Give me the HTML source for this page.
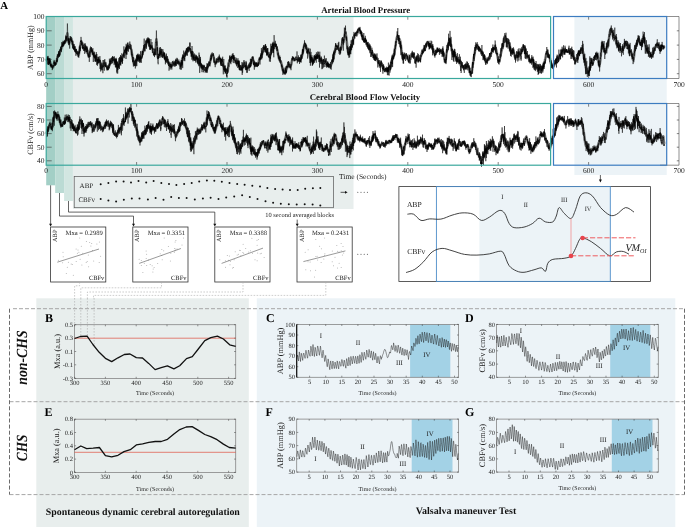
<!DOCTYPE html>
<html><head><meta charset="utf-8"><title>Figure</title>
<style>
html,body{margin:0;padding:0;background:#fff;}
svg{display:block;opacity:0.999;will-change:transform;text-rendering:geometricPrecision;font-family:"Liberation Serif","Times New Roman",serif;fill:#222;}
</style></head><body>
<svg width="685" height="527" viewBox="0 0 685 527">
<rect width="685" height="527" fill="#fff"/>

<rect x="46.2" y="16.5" width="307.3" height="149" fill="#e8eeed"/><rect x="72.9" y="165" width="280.6" height="44" fill="#e8eeed"/>
<rect x="574.4" y="16.5" width="92.3" height="158.5" fill="#ecf3f7"/>
<rect x="46.2" y="16.5" width="9" height="168.8" fill="#a3cfc6"/>
<rect x="55.2" y="16.5" width="8.9" height="176.5" fill="#bbdbd4"/>
<rect x="64.1" y="16.5" width="8.8" height="184.5" fill="#d2e6e1"/>
<path d="M660,16.5 H679 V78.5 H660" fill="none" stroke="#444" stroke-width="0.6"/>
<path d="M660,103.5 H679 V165.2 H660" fill="none" stroke="#444" stroke-width="0.6"/>
<path d="M136.6,16.5v3.2M136.6,78.5v-3.2M136.6,103.5v3.2M136.6,165.2v-3.2M227,16.5v3.2M227,78.5v-3.2M227,103.5v3.2M227,165.2v-3.2M317.4,16.5v3.2M317.4,78.5v-3.2M317.4,103.5v3.2M317.4,165.2v-3.2M407.8,16.5v3.2M407.8,78.5v-3.2M407.8,103.5v3.2M407.8,165.2v-3.2M498.2,16.5v3.2M498.2,78.5v-3.2M498.2,103.5v3.2M498.2,165.2v-3.2M588.6,16.5v3.2M588.6,78.5v-3.2M588.6,103.5v3.2M588.6,165.2v-3.2M46.2,73.7h5.5M679,73.7h-2.2M46.2,59.4h5.5M679,59.4h-2.2M46.2,45.1h5.5M679,45.1h-2.2M46.2,30.8h5.5M679,30.8h-2.2M46.2,160.8h5.5M679,160.8h-2.2M46.2,147.2h5.5M679,147.2h-2.2M46.2,133.6h5.5M679,133.6h-2.2M46.2,120h5.5M679,120h-2.2M46.2,106.4h5.5M679,106.4h-2.2" stroke="#333" stroke-width="0.6" fill="none"/>
<path d="M46.4,59 46.9,60.4 47.4,57.4 47.9,59.4 48.4,63.6 48.9,62.4 49.4,60.6 49.9,61.6 50.4,63.1 50.9,65.6 51.4,65.8 51.9,66.5 52.4,66.5 52.9,66.2 53.4,66.5 53.9,63.7 54.4,63.2 54.9,62.8 55.4,63.1 55.9,63 56.4,62.2 56.9,59.8 57.4,57.1 57.9,56.2 58.4,56 58.9,55 59.4,54.1 59.9,52.6 60.4,51.3 60.9,49.4 61.4,48.2 61.9,46.8 62.4,46 62.9,45 63.4,43.9 63.9,43.7 64.4,42.8 64.9,42 65.4,40.9 65.9,40.1 66.4,39.1 66.9,35.4 67.4,33.3 67.9,38.6 68.4,41.6 68.9,43.2 69.4,42.9 69.9,41.6 70.4,40 70.9,39.1 71.4,38.7 71.9,40.5 72.4,42.5 72.9,44.4 73.4,46.5 73.9,47.5 74.4,48.3 74.9,49.6 75.4,50.7 75.9,51.4 76.4,51.4 76.9,52.3 77.4,53.4 77.9,54.4 78.4,55.1 78.9,54.1 79.4,50.7 79.9,48.3 80.4,44.7 80.9,42.7 81.4,41.4 81.9,42.5 82.4,44.4 82.9,44.9 83.4,47 83.9,47.7 84.4,47 84.9,47.3 85.4,47.5 85.9,48.6 86.4,49.6 86.9,50.6 87.4,50.9 87.9,52.5 88.4,55.2 88.9,56.5 89.4,56.2 89.9,52.6 90.4,49.2 90.9,49.2 91.4,49.8 91.9,51.5 92.4,52 92.9,52.5 93.4,54 93.9,54.8 94.4,55.4 94.9,56.8 95.4,56.9 95.9,57.4 96.4,57.5 96.9,57.9 97.4,59.1 97.9,58.8 98.4,59.3 98.9,59.9 99.4,60.5 99.9,62.1 100.4,62.7 100.9,64.8 101.4,65.6 101.9,66.5 102.4,66.1 102.9,66.2 103.4,64.9 103.9,63.9 104.4,63.1 104.9,63.9 105.4,63.8 105.9,65.4 106.4,66.1 106.9,67.1 107.4,68.3 107.9,68.1 108.4,67.8 108.9,66.6 109.4,65.3 109.9,63.9 110.4,63.3 110.9,62.6 111.4,60.5 111.9,59.5 112.4,58.8 112.9,58.3 113.4,59.1 113.9,60.1 114.4,60.8 114.9,61.3 115.4,61.4 115.9,61.7 116.4,63.3 116.9,65.3 117.4,66.9 117.9,68.6 118.4,67.4 118.9,64.8 119.4,61.8 119.9,60.6 120.4,60 120.9,61 121.4,59.6 121.9,58.4 122.4,57.3 122.9,56.3 123.4,56.4 123.9,54.9 124.4,54.6 124.9,52.9 125.4,51.1 125.9,49.8 126.4,48.2 126.9,47.8 127.4,48.3 127.9,47.9 128.4,47.8 128.9,45.8 129.4,45.3 129.9,44.8 130.4,45.6 130.9,48.8 131.4,50.5 131.9,53.5 132.4,56.2 132.9,58.9 133.4,60.6 133.9,63.3 134.4,64.3 134.9,64.7 135.4,64 135.9,61.7 136.4,60.6 136.9,59.2 137.4,57.3 137.9,57 138.4,56.9 138.9,58.3 139.4,59 139.9,59.2 140.4,58.3 140.9,57.7 141.4,56.2 141.9,55.4 142.4,54.1 142.9,52.1 143.4,50.2 143.9,49.1 144.4,47.8 144.9,47.4 145.4,46.2 145.9,44.8 146.4,43.7 146.9,41.2 147.4,40.6 147.9,40.5 148.4,40.4 148.9,42.4 149.4,44.9 149.9,46.6 150.4,48.1 150.9,48 151.4,48.1 151.9,47.8 152.4,48.7 152.9,50 153.4,51.9 153.9,53.1 154.4,53.3 154.9,53.8 155.4,52.5 155.9,44.2 156.4,39.3 156.9,47.4 157.4,54.3 157.9,57.5 158.4,57.4 158.9,56.1 159.4,55.3 159.9,53.7 160.4,53.7 160.9,52.6 161.4,52.6 161.9,53.1 162.4,54 162.9,54.8 163.4,54.5 163.9,54.4 164.4,55.2 164.9,58.4 165.4,59.6 165.9,60.1 166.4,58.6 166.9,57.9 167.4,59.6 167.9,61.4 168.4,63.6 168.9,63.6 169.4,64.6 169.9,64.7 170.4,65.1 170.9,66 171.4,66.4 171.9,65.9 172.4,64.7 172.9,62.4 173.4,61.8 173.9,63.2 174.4,64 174.9,64.3 175.4,63.4 175.9,62.3 176.4,61.6 176.9,60.7 177.4,61.5 177.9,62.2 178.4,62.1 178.9,63.2 179.4,63.6 179.9,65.2 180.4,65.5 180.9,65 181.4,63.4 181.9,60.6 182.4,58.7 182.9,58.4 183.4,57.7 183.9,57.5 184.4,56.2 184.9,55.1 185.4,54.3 185.9,52.5 186.4,50.8 186.9,50.9 187.4,50 187.9,49.2 188.4,48.7 188.9,48.5 189.4,49.4 189.9,49.5 190.4,50.1 190.9,50.8 191.4,53.1 191.9,53.4 192.4,54.8 192.9,56.3 193.4,57.8 193.9,59.3 194.4,58.5 194.9,58.4 195.4,58 195.9,58.4 196.4,57.3 196.9,57.4 197.4,58.4 197.9,60.5 198.4,62.6 198.9,63.4 199.4,63.2 199.9,62.9 200.4,63.8 200.9,64.8 201.4,67.1 201.9,67.8 202.4,68.2 202.9,68.1 203.4,67.4 203.9,67.6 204.4,67.9 204.9,69.6 205.4,69.4 205.9,70.5 206.4,70.4 206.9,69.5 207.4,68.2 207.9,65.7 208.4,64.8 208.9,64 209.4,63.6 209.9,62.7 210.4,60.7 210.9,57.8 211.4,55.5 211.9,54.4 212.4,54.8 212.9,56 213.4,56.5 213.9,58.2 214.4,60.6 214.9,62.1 215.4,63.8 215.9,63.2 216.4,62.1 216.9,61.6 217.4,61 217.9,60 218.4,59.6 218.9,59.2 219.4,58.5 219.9,59 220.4,59.9 220.9,61.6 221.4,62.3 221.9,62.4 222.4,62.2 222.9,63.3 223.4,65.6 223.9,66.9 224.4,69.5 224.9,69.9 225.4,71 225.9,71.1 226.4,71.9 226.9,72.7 227.4,71.7 227.9,69.7 228.4,65.8 228.9,63 229.4,60.6 229.9,59.8 230.4,59.7 230.9,58.9 231.4,57.3 231.9,56.7 232.4,56.3 232.9,56.5 233.4,56.8 233.9,57.5 234.4,59.1 234.9,60.4 235.4,61.1 235.9,63 236.4,62.2 236.9,63.2 237.4,63.2 237.9,63.5 238.4,63.2 238.9,65.3 239.4,65.9 239.9,67.7 240.4,68.6 240.9,68.7 241.4,68.6 241.9,68.4 242.4,68.2 242.9,66 243.4,64.4 243.9,62.8 244.4,63.3 244.9,65.3 245.4,66.9 245.9,68.3 246.4,68.6 246.9,68.8 247.4,68.4 247.9,68.1 248.4,66.8 248.9,66.7 249.4,66.7 249.9,66.3 250.4,65.3 250.9,63.9 251.4,61.8 251.9,59.8 252.4,58 252.9,59.2 253.4,60.9 253.9,62.5 254.4,64.4 254.9,64.8 255.4,64.3 255.9,64.5 256.4,64.2 256.9,65 257.4,64.3 257.9,64.4 258.4,63 258.9,61 259.4,59.6 259.9,58.5 260.4,58.2 260.9,56.7 261.4,56.3 261.9,54.8 262.4,53.4 262.9,51.7 263.4,49.6 263.9,48.3 264.4,48.4 264.9,48.4 265.4,47.7 265.9,48.8 266.4,49.6 266.9,51.7 267.4,53 267.9,53.4 268.4,54.7 268.9,56.1 269.4,56.7 269.9,56.4 270.4,54.9 270.9,52.7 271.4,50 271.9,48.9 272.4,47.5 272.9,46.5 273.4,46.3 273.9,45.6 274.4,44.9 274.9,44.5 275.4,44.5 275.9,45.9 276.4,47.2 276.9,48.8 277.4,50.4 277.9,53.5 278.4,56.2 278.9,58.3 279.4,59.8 279.9,60.6 280.4,61.3 280.9,61.9 281.4,63.7 281.9,65.4 282.4,68.9 282.9,70.5 283.4,71.2 283.9,71.1 284.4,71.3 284.9,71.4 285.4,72 285.9,70.9 286.4,69.2 286.9,68.3 287.4,66.8 287.9,65 288.4,63.7 288.9,63 289.4,64.5 289.9,65.9 290.4,66.6 290.9,65.2 291.4,63.8 291.9,61.1 292.4,59 292.9,58.3 293.4,58.5 293.9,58.8 294.4,59.5 294.9,60 295.4,58.9 295.9,58.3 296.4,57.9 296.9,58.3 297.4,59.5 297.9,58.4 298.4,59 298.9,60.3 299.4,60.3 299.9,61 300.4,59 300.9,58.6 301.4,57 301.9,56 302.4,54.4 302.9,52.1 303.4,49.3 303.9,47.1 304.4,44.8 304.9,44 305.4,44.6 305.9,46.8 306.4,49 306.9,50.4 307.4,51.6 307.9,52.2 308.4,52.1 308.9,53.2 309.4,54.4 309.9,56.7 310.4,57.5 310.9,59.1 311.4,60 311.9,59.9 312.4,60.6 312.9,60.8 313.4,61.6 313.9,60.8 314.4,59.5 314.9,57.4 315.4,57.1 315.9,57.5 316.4,57 316.9,57.4 317.4,56.1 317.9,57.5 318.4,57.7 318.9,58.4 319.4,57.9 319.9,58.3 320.4,59.6 320.9,60 321.4,60.9 321.9,61.7 322.4,63 322.9,63.4 323.4,63.5 323.9,62.4 324.4,62.5 324.9,62.1 325.4,61.9 325.9,62.9 326.4,64 326.9,64.2 327.4,65.3 327.9,64.2 328.4,64.6 328.9,65.1 329.4,64.6 329.9,66.4 330.4,66.3 330.9,65 331.4,64.1 331.9,62.7 332.4,61.9 332.9,60.3 333.4,58.8 333.9,55.4 334.4,54 334.9,51.7 335.4,48.8 335.9,46.5 336.4,46 336.9,47 337.4,48.6 337.9,48.7 338.4,48.5 338.9,48.7 339.4,50.4 339.9,49.9 340.4,49.3 340.9,48.5 341.4,47.5 341.9,44.6 342.4,41.8 342.9,40.1 343.4,39.9 343.9,38.8 344.4,36.6 344.9,34.5 345.4,32.4 345.9,35 346.4,38.4 346.9,42.8 347.4,47.3 347.9,51.1 348.4,53.6 348.9,54.3 349.4,52.7 349.9,51.1 350.4,49.6 350.9,48.1 351.4,46.4 351.9,44.4 352.4,41.9 352.9,39.6 353.4,38.6 353.9,37.4 354.4,35.4 354.9,34.6 355.4,34.3 355.9,34.8 356.4,34.1 356.9,34.6 357.4,32.4 357.9,30.9 358.4,29.5 358.9,28.7 359.4,29.9 359.9,30.3 360.4,31.8 360.9,32.5 361.4,34.8 361.9,34.9 362.4,36.8 362.9,38 363.4,39.4 363.9,39.8 364.4,40 364.9,39.2 365.4,39.6 365.9,41.2 366.4,43.7 366.9,44.7 367.4,45.5 367.9,45.1 368.4,45 368.9,46.8 369.4,48.2 369.9,50.1 370.4,50.6 370.9,50.8 371.4,51.8 371.9,51.4 372.4,52.9 372.9,54.1 373.4,55 373.9,56.2 374.4,57.3 374.9,57.6 375.4,57.7 375.9,57.6 376.4,57.7 376.9,58.7 377.4,60.2 377.9,61.4 378.4,62.6 378.9,63.1 379.4,63.6 379.9,63.8 380.4,63.8 380.9,63.6 381.4,63.6 381.9,64 382.4,66.7 382.9,67.3 383.4,68 383.9,68.6 384.4,69.5 384.9,69.4 385.4,70.4 385.9,69.4 386.4,69.4 386.9,69.5 387.4,69.4 387.9,69.7 388.4,68.8 388.9,69.2 389.4,68.8 389.9,68.2 390.4,67 390.9,64.5 391.4,61.2 391.9,60.2 392.4,59 392.9,58.6 393.4,57.3 393.9,54.1 394.4,52.7 394.9,50 395.4,46.5 395.9,43.1 396.4,39.5 396.9,37.4 397.4,36.5 397.9,36.4 398.4,37.9 398.9,39.3 399.4,38.9 399.9,40.2 400.4,42.1 400.9,45.3 401.4,49.5 401.9,52.7 402.4,55.8 402.9,57 403.4,58.8 403.9,58 404.4,57.8 404.9,57 405.4,56.1 405.9,56.2 406.4,56.9 406.9,57.7 407.4,58.2 407.9,59.5 408.4,60.3 408.9,60.7 409.4,59.9 409.9,58.7 410.4,58.1 410.9,56.4 411.4,55.5 411.9,54.4 412.4,53.1 412.9,53.3 413.4,54.3 413.9,56.4 414.4,57.7 414.9,58.1 415.4,58.7 415.9,59.6 416.4,59 416.9,58.8 417.4,57.3 417.9,57.2 418.4,58.3 418.9,60.2 419.4,59.9 419.9,59.6 420.4,57.8 420.9,55.9 421.4,54.7 421.9,52.7 422.4,51.3 422.9,50.6 423.4,50 423.9,50.4 424.4,49.9 424.9,49.2 425.4,47.5 425.9,45.9 426.4,44.4 426.9,43.1 427.4,42 427.9,42.4 428.4,43.9 428.9,44.9 429.4,45.5 429.9,46.5 430.4,46.7 430.9,47.2 431.4,46.7 431.9,48 432.4,49.2 432.9,49.5 433.4,50.5 433.9,51.6 434.4,53.7 434.9,54.5 435.4,54.4 435.9,52.8 436.4,50.7 436.9,50.2 437.4,49.7 437.9,49.6 438.4,50 438.9,50.3 439.4,51 439.9,51.4 440.4,50.7 440.9,50.3 441.4,50.8 441.9,51 442.4,51.4 442.9,51.7 443.4,53.1 443.9,55.5 444.4,58.4 444.9,61.9 445.4,61.8 445.9,58.5 446.4,54.9 446.9,51 447.4,48.3 447.9,46 448.4,44 448.9,42.1 449.4,40.1 449.9,40 450.4,42.6 450.9,44.5 451.4,47.9 451.9,50.6 452.4,52.6 452.9,54.2 453.4,53.4 453.9,52.5 454.4,52.3 454.9,52.9 455.4,56 455.9,58 456.4,58.8 456.9,59.4 457.4,59.7 457.9,60.2 458.4,60.2 458.9,60.8 459.4,60.5 459.9,61.8 460.4,63.9 460.9,65.5 461.4,66 461.9,66.4 462.4,66.3 462.9,66.6 463.4,67.5 463.9,67.6 464.4,67.5 464.9,66.7 465.4,67 465.9,65.9 466.4,65.6 466.9,65.1 467.4,65.2 467.9,66.5 468.4,67.9 468.9,68 469.4,68.6 469.9,70.9 470.4,71.9 470.9,73.3 471.4,72.3 471.9,70.2 472.4,66.9 472.9,64 473.4,60.8 473.9,57.3 474.4,55.2 474.9,51.6 475.4,49.1 475.9,47.9 476.4,47.8 476.9,47.7 477.4,47.1 477.9,47 478.4,48.5 478.9,49.2 479.4,49.6 479.9,50.2 480.4,50.8 480.9,50.4 481.4,51.5 481.9,51.6 482.4,53.5 482.9,55.3 483.4,55.3 483.9,56.3 484.4,56.7 484.9,58.1 485.4,61.3 485.9,61.9 486.4,63.2 486.9,61.8 487.4,60.3 487.9,59.8 488.4,59.3 488.9,57.7 489.4,57.1 489.9,56.1 490.4,56.1 490.9,54.2 491.4,52.8 491.9,51 492.4,49.6 492.9,50.2 493.4,49.4 493.9,49.4 494.4,48.6 494.9,47.1 495.4,48 495.9,49 496.4,50.4 496.9,52.9 497.4,55.9 497.9,58.5 498.4,60.5 498.9,60.7 499.4,60.8 499.9,58.8 500.4,56.3 500.9,53.6 501.4,51.7 501.9,49.7 502.4,47.6 502.9,45.9 503.4,43.1 503.9,40.9 504.4,38.3 504.9,36.4 505.4,37.2 505.9,38.1 506.4,39.9 506.9,42 507.4,42.7 507.9,42.8 508.4,42.6 508.9,43.1 509.4,43.7 509.9,46.1 510.4,49.1 510.9,51.5 511.4,52.6 511.9,52.6 512.4,50.9 512.9,50.5 513.4,51 513.9,52.4 514.4,55.1 514.9,56.9 515.4,57.1 515.9,57.3 516.4,55.8 516.9,55.8 517.4,54.6 517.9,54.5 518.4,53.9 518.9,53.7 519.4,53.8 519.9,54.3 520.4,54 520.9,53.7 521.4,52.9 521.9,50.5 522.4,48.8 522.9,47.8 523.4,46.6 523.9,47.5 524.4,49 524.9,51 525.4,52.6 525.9,54 526.4,54.3 526.9,55.1 527.4,55.3 527.9,55.8 528.4,57.7 528.9,58.2 529.4,59.6 529.9,60.6 530.4,61.5 530.9,61.9 531.4,60.7 531.9,60 532.4,60.1 532.9,61 533.4,62.6 533.9,63.2 534.4,65.4 534.9,66.7 535.4,67.1 535.9,66.6 536.4,65.5 536.9,65.3 537.4,66.2 537.9,67.8 538.4,69.7 538.9,69.4 539.4,68.3 539.9,67.1 540.4,67.4 540.9,67.9 541.4,69.2 541.9,69.7 542.4,70.1 542.9,68.6 543.4,65.7 543.9,63 544.4,62.2 544.9,60.6 545.4,58.2 545.9,55.7 546.4,53.4 546.9,52.2 547.4,53 547.9,55.2 548.4,55.6 548.9,56.6 549.4,57.1 549.9,58.3 550.4,61.4 550.9,63.3 551.4,65 551.9,65.9 552.4,66.7 552.9,67.8 553.4,66.5 553.9,65.8 554.4,64.6 554.9,61.9 555.4,60.7 555.9,60.7 556.4,59.7 556.9,59.3 557.4,59.1 557.9,58.4 558.4,58.2 558.9,57.7 559.4,56.5 559.9,55.8 560.4,55.5 560.9,55.1 561.4,54.2 561.9,52.5 562.4,51.3 562.9,50.1 563.4,50.7 563.9,51.6 564.4,51.5 564.9,51.7 565.4,50.9 565.9,50.4 566.4,50.3 566.9,51.1 567.4,51.2 567.9,51.8 568.4,51.7 568.9,50.8 569.4,51.4 569.9,51.9 570.4,53.2 570.9,53.1 571.4,53.3 571.9,53.9 572.4,53.6 572.9,55.4 573.4,56.3 573.9,57.4 574.4,58.2 574.9,59.1 575.4,59.6 575.9,59.9 576.4,60 576.9,60.1 577.4,58.8 577.9,56.9 578.4,55.9 578.9,53.7 579.4,52.3 579.9,52.1 580.4,52 580.9,50.4 581.4,48.8 581.9,48.3 582.4,49 582.9,51.7 583.4,53.4 583.9,56.7 584.4,59.9 584.9,62.1 585.4,64.8 585.9,66.8 586.4,70 586.9,72.1 587.4,72.9 587.9,72 588.4,71.4 588.9,70.6 589.4,69.7 589.9,67.9 590.4,65.8 590.9,63.7 591.4,62.8 591.9,63.4 592.4,63.6 592.9,62.6 593.4,61.1 593.9,58.8 594.4,57.4 594.9,56.6 595.4,56.2 595.9,56.3 596.4,56.3 596.9,55.4 597.4,56 597.9,57.7 598.4,60.5 598.9,64.9 599.4,66.4 599.9,63.3 600.4,60.4 600.9,53.7 601.4,49.6 601.9,46.7 602.4,45.7 602.9,45.9 603.4,47.2 603.9,49.2 604.4,50.9 604.9,52.3 605.4,52.4 605.9,50.9 606.4,48.3 606.9,46.9 607.4,45.8 607.9,44.4 608.4,41.2 608.9,38.7 609.4,35.7 609.9,32 610.4,30.1 610.9,28.8 611.4,28.9 611.9,31.8 612.4,34 612.9,35.9 613.4,36.3 613.9,36.7 614.4,36 614.9,36.3 615.4,38 615.9,40.8 616.4,43 616.9,45 617.4,45.6 617.9,45.7 618.4,45.7 618.9,46.1 619.4,47 619.9,48 620.4,49.2 620.9,49.5 621.4,50.2 621.9,49.2 622.4,48.6 622.9,48.4 623.4,48.3 623.9,47.5 624.4,47.3 624.9,45.5 625.4,44 625.9,42.2 626.4,41.8 626.9,43.5 627.4,44.4 627.9,45 628.4,46.1 628.9,47.5 629.4,49.5 629.9,51.2 630.4,51.6 630.9,52 631.4,52.4 631.9,54.2 632.4,57.6 632.9,59.4 633.4,59.7 633.9,57.1 634.4,53 634.9,49.4 635.4,46.4 635.9,46 636.4,45.4 636.9,43.8 637.4,41.9 637.9,39.7 638.4,39 638.9,39.4 639.4,40.9 639.9,42.4 640.4,44.4 640.9,44 641.4,44.3 641.9,42.3 642.4,40.5 642.9,38.5 643.4,36.8 643.9,39 644.4,39.8 644.9,41.9 645.4,44.8 645.9,46.5 646.4,48 646.9,49.7 647.4,50.4 647.9,51.3 648.4,51.8 648.9,52.6 649.4,54.5 649.9,55.7 650.4,56.7 650.9,56.8 651.4,57 651.9,55.3 652.4,54.3 652.9,52.7 653.4,51.8 653.9,50.5 654.4,49 654.9,48.1 655.4,47 655.9,46.6 656.4,44.8 656.9,44.2 657.4,43.3 657.9,43.9 658.4,44.4 658.9,45.6 659.4,48.4 659.9,49.7 660.4,49.6 660.9,49.4 661.4,47.5 661.9,45.8 662.4,47.4 662.9,47.4 663.4,48.2 663.9,47 664.4,46.1" fill="none" stroke="#111" stroke-width="2.6" stroke-linejoin="round" opacity="0.5"/>
<path d="M46.4,133.7 46.9,132.5 47.4,131.1 47.9,130.3 48.4,129.2 48.9,127.3 49.4,125.4 49.9,124.2 50.4,124.6 50.9,126 51.4,128 51.9,128 52.4,125.8 52.9,122.4 53.4,119.3 53.9,117.4 54.4,115.9 54.9,114.9 55.4,114.4 55.9,115.3 56.4,116.2 56.9,116 57.4,115.4 57.9,115.7 58.4,116.8 58.9,118 59.4,119.8 59.9,121.8 60.4,123.6 60.9,124.2 61.4,124.8 61.9,125.6 62.4,125.1 62.9,123.3 63.4,122.6 63.9,122 64.4,122.4 64.9,121.6 65.4,120.1 65.9,118.8 66.4,118.3 66.9,117.8 67.4,118.7 67.9,119.3 68.4,118.4 68.9,118.9 69.4,118.4 69.9,120.5 70.4,122.4 70.9,123.1 71.4,123.4 71.9,123.9 72.4,125.5 72.9,125.7 73.4,126.9 73.9,127.3 74.4,128.9 74.9,129.3 75.4,130.5 75.9,130.8 76.4,131.1 76.9,130.6 77.4,129.9 77.9,129.9 78.4,127.9 78.9,125.8 79.4,122.4 79.9,121.6 80.4,120.9 80.9,122.7 81.4,124.1 81.9,124.3 82.4,124.6 82.9,125 83.4,127 83.9,129.5 84.4,131 84.9,131.2 85.4,129 85.9,128 86.4,127.8 86.9,127.2 87.4,126.4 87.9,125 88.4,123.4 88.9,123.8 89.4,123.7 89.9,123.6 90.4,124.4 90.9,124 91.4,125.3 91.9,125.5 92.4,126.9 92.9,127.2 93.4,128.3 93.9,128.6 94.4,128.6 94.9,127.6 95.4,126.3 95.9,125 96.4,123.7 96.9,123 97.4,122.5 97.9,122.3 98.4,122.8 98.9,123.6 99.4,124.6 99.9,125.9 100.4,125.3 100.9,126.4 101.4,127.5 101.9,128.3 102.4,129.4 102.9,129.4 103.4,128.5 103.9,128.3 104.4,126.3 104.9,125.4 105.4,125.3 105.9,124.4 106.4,123.3 106.9,123.4 107.4,122.3 107.9,123.6 108.4,125.1 108.9,125.5 109.4,125.7 109.9,125 110.4,125.5 110.9,124.8 111.4,125.3 111.9,125.5 112.4,126 112.9,128 113.4,130.6 113.9,132.4 114.4,133 114.9,133.6 115.4,133.7 115.9,134.7 116.4,135.2 116.9,135.4 117.4,134.4 117.9,132.8 118.4,130.6 118.9,129.8 119.4,128.7 119.9,129.5 120.4,128.4 120.9,127.8 121.4,126 121.9,124.5 122.4,122.9 122.9,121.4 123.4,121.4 123.9,122.1 124.4,121.1 124.9,119.8 125.4,117.7 125.9,116.6 126.4,116 126.9,114.6 127.4,113.4 127.9,112 128.4,111.7 128.9,111.2 129.4,111.1 129.9,110.4 130.4,109.4 130.9,111 131.4,112.1 131.9,112.5 132.4,115.2 132.9,117.6 133.4,119.8 133.9,121.3 134.4,122.8 134.9,124.6 135.4,126.3 135.9,127.3 136.4,128.4 136.9,130 137.4,132.5 137.9,134.9 138.4,137.5 138.9,139.7 139.4,140.7 139.9,141.1 140.4,139.5 140.9,138.9 141.4,138.2 141.9,136.6 142.4,135.6 142.9,133.5 143.4,133.2 143.9,131.9 144.4,131.6 144.9,132 145.4,131.4 145.9,129.9 146.4,129.8 146.9,128 147.4,127.2 147.9,126 148.4,125.9 148.9,126.1 149.4,127.7 149.9,128.7 150.4,129.7 150.9,129.2 151.4,129.3 151.9,127.4 152.4,127.4 152.9,127.1 153.4,128 153.9,128.6 154.4,129.4 154.9,130.4 155.4,129.1 155.9,127.9 156.4,126.1 156.9,125.4 157.4,126 157.9,127.1 158.4,126.4 158.9,124.3 159.4,123.2 159.9,122.3 160.4,123.1 160.9,124.9 161.4,123.3 161.9,121.6 162.4,119 162.9,118.7 163.4,120.5 163.9,122.8 164.4,122.6 164.9,122.6 165.4,122.2 165.9,123.8 166.4,124.6 166.9,125.7 167.4,125.5 167.9,125.6 168.4,125.3 168.9,126.3 169.4,126.6 169.9,127.9 170.4,129.4 170.9,130.4 171.4,129.8 171.9,129.5 172.4,129.1 172.9,129.5 173.4,129.7 173.9,130.7 174.4,132.1 174.9,133.3 175.4,135.5 175.9,136.1 176.4,135.4 176.9,134.5 177.4,133.4 177.9,131.9 178.4,131.5 178.9,128.9 179.4,126.4 179.9,125.1 180.4,123.3 180.9,123.3 181.4,123.1 181.9,122.1 182.4,123 182.9,123.2 183.4,122.7 183.9,122.7 184.4,122.7 184.9,124.4 185.4,124.7 185.9,125.3 186.4,126.7 186.9,129.8 187.4,133.1 187.9,135.1 188.4,136.7 188.9,137.2 189.4,137.7 189.9,139.1 190.4,141.2 190.9,142.4 191.4,145 191.9,146 192.4,147 192.9,146.6 193.4,144.7 193.9,144.2 194.4,141.6 194.9,141.1 195.4,138.6 195.9,136.5 196.4,135.5 196.9,134.4 197.4,133 197.9,132.2 198.4,130.7 198.9,131.1 199.4,131.3 199.9,131.4 200.4,130.5 200.9,129.6 201.4,129.3 201.9,127.9 202.4,126.9 202.9,125.9 203.4,125.4 203.9,126.1 204.4,126.2 204.9,126.3 205.4,125.6 205.9,124.9 206.4,123.8 206.9,120.5 207.4,119.1 207.9,116.9 208.4,115.6 208.9,116.1 209.4,116 209.9,117.7 210.4,120.5 210.9,122.6 211.4,123.8 211.9,123.9 212.4,124.5 212.9,126.6 213.4,128 213.9,130.2 214.4,130.8 214.9,130.9 215.4,130.5 215.9,128.6 216.4,126.2 216.9,123.5 217.4,120.9 217.9,120 218.4,116.7 218.9,117.9 219.4,118.6 219.9,120.1 220.4,122.7 220.9,124.7 221.4,126.5 221.9,127 222.4,127.1 222.9,128.2 223.4,128.7 223.9,129.6 224.4,129.7 224.9,130.6 225.4,131.9 225.9,132.9 226.4,132.3 226.9,130.6 227.4,129.8 227.9,130.9 228.4,131.8 228.9,131.2 229.4,128.6 229.9,126.6 230.4,125.3 230.9,127.2 231.4,130.4 231.9,133.1 232.4,135.2 232.9,136.7 233.4,138.2 233.9,138.9 234.4,140.6 234.9,141.4 235.4,143.6 235.9,145.5 236.4,147.6 236.9,148.8 237.4,149 237.9,147.5 238.4,147.1 238.9,146.9 239.4,147.5 239.9,148.3 240.4,147.2 240.9,146.2 241.4,145.5 241.9,144.2 242.4,143.1 242.9,141.9 243.4,139.9 243.9,139.9 244.4,139.6 244.9,140 245.4,138.9 245.9,138.1 246.4,138.4 246.9,138.8 247.4,141.5 247.9,142.5 248.4,143.2 248.9,143.6 249.4,143.7 249.9,144.6 250.4,146.4 250.9,148.3 251.4,150.2 251.9,150.3 252.4,150.5 252.9,150.1 253.4,150.4 253.9,151 254.4,152.1 254.9,153.1 255.4,154.2 255.9,155.1 256.4,154.9 256.9,155.1 257.4,154.5 257.9,153.3 258.4,152.1 258.9,150.3 259.4,149 259.9,148.1 260.4,147.4 260.9,145.6 261.4,144.4 261.9,143.2 262.4,142.1 262.9,141.6 263.4,141.4 263.9,142.8 264.4,144 264.9,143.7 265.4,144 265.9,143.9 266.4,145.1 266.9,145.2 267.4,145.4 267.9,143.7 268.4,143.5 268.9,143.9 269.4,144 269.9,145 270.4,143.7 270.9,143.1 271.4,140.3 271.9,138.8 272.4,137.4 272.9,137.8 273.4,138.9 273.9,139 274.4,140 274.9,137.9 275.4,137 275.9,136.6 276.4,137.8 276.9,139.6 277.4,142.1 277.9,144.7 278.4,145.6 278.9,146.1 279.4,146.6 279.9,147 280.4,148.7 280.9,149.9 281.4,150.2 281.9,149.5 282.4,149 282.9,147.3 283.4,145.5 283.9,143.5 284.4,141.1 284.9,139.6 285.4,137.9 285.9,136.2 286.4,135.4 286.9,137.7 287.4,139.4 287.9,140.3 288.4,139.7 288.9,138.8 289.4,138.3 289.9,139 290.4,140.5 290.9,142 291.4,142.6 291.9,143.5 292.4,143.7 292.9,144.1 293.4,144.9 293.9,145.6 294.4,146.7 294.9,146.4 295.4,146.6 295.9,145.1 296.4,145.7 296.9,145.2 297.4,144.8 297.9,146.1 298.4,146 298.9,147.1 299.4,148 299.9,147.6 300.4,147.1 300.9,146.4 301.4,144.9 301.9,144.7 302.4,143.6 302.9,142 303.4,140.5 303.9,139.6 304.4,139.2 304.9,139.2 305.4,139 305.9,140.1 306.4,141.8 306.9,143.2 307.4,142.8 307.9,143.5 308.4,144.1 308.9,146.5 309.4,148.2 309.9,149.3 310.4,150.8 310.9,151.6 311.4,151.1 311.9,149.3 312.4,147.8 312.9,147.8 313.4,147.5 313.9,146.4 314.4,145.1 314.9,143.8 315.4,143.1 315.9,142.3 316.4,140.4 316.9,139.5 317.4,140.3 317.9,141.4 318.4,143.1 318.9,144.8 319.4,145.5 319.9,146.8 320.4,145.9 320.9,145.3 321.4,145.2 321.9,145.7 322.4,147.8 322.9,149.1 323.4,150.2 323.9,150.5 324.4,150 324.9,148.7 325.4,148 325.9,146.4 326.4,147.6 326.9,147.5 327.4,148.7 327.9,150.1 328.4,151 328.9,151.7 329.4,150.2 329.9,148.2 330.4,146 330.9,145.9 331.4,145.3 331.9,144.3 332.4,143.1 332.9,142.1 333.4,141.8 333.9,140.2 334.4,137.4 334.9,135.6 335.4,135.1 335.9,137.2 336.4,140 336.9,142.1 337.4,144 337.9,144.8 338.4,145.5 338.9,145.6 339.4,145.3 339.9,145.6 340.4,144.5 340.9,144.8 341.4,144.3 341.9,142.6 342.4,140.8 342.9,137.9 343.4,136 343.9,135.6 344.4,136.3 344.9,138.3 345.4,139.9 345.9,142.7 346.4,145.2 346.9,147.1 347.4,149.2 347.9,150 348.4,150.7 348.9,150.6 349.4,149.8 349.9,148.3 350.4,148.3 350.9,148.5 351.4,146.9 351.9,145.6 352.4,144.1 352.9,141.2 353.4,139.5 353.9,137.2 354.4,136.4 354.9,135.7 355.4,135.3 355.9,134.7 356.4,135.5 356.9,135.6 357.4,137.5 357.9,138.8 358.4,139.7 358.9,139 359.4,138.6 359.9,138.6 360.4,138.5 360.9,139.3 361.4,140.2 361.9,140.7 362.4,140.5 362.9,140 363.4,140.5 363.9,140.3 364.4,141.8 364.9,141.6 365.4,142.5 365.9,143.1 366.4,143.4 366.9,143 367.4,141.5 367.9,141.2 368.4,142.5 368.9,142.2 369.4,143.1 369.9,143.1 370.4,142.9 370.9,142.8 371.4,141.6 371.9,139.8 372.4,139.3 372.9,138.8 373.4,137.7 373.9,136.3 374.4,134.2 374.9,135.6 375.4,137 375.9,138.4 376.4,139.9 376.9,140.4 377.4,140.6 377.9,141.5 378.4,142.8 378.9,144.4 379.4,145.2 379.9,146.2 380.4,145.5 380.9,144.9 381.4,144 381.9,143.5 382.4,144.1 382.9,144.2 383.4,144.9 383.9,144.9 384.4,144.8 384.9,144.7 385.4,143.6 385.9,143.5 386.4,143.3 386.9,142.5 387.4,142.9 387.9,142 388.4,141.4 388.9,141.4 389.4,140.8 389.9,141.4 390.4,141.9 390.9,141.4 391.4,141.1 391.9,140.1 392.4,138.8 392.9,138.1 393.4,138.2 393.9,137.9 394.4,137.1 394.9,136.3 395.4,136.3 395.9,136 396.4,135.3 396.9,135.7 397.4,138.5 397.9,140.1 398.4,140.4 398.9,139.9 399.4,140.4 399.9,142.2 400.4,144.1 400.9,144.8 401.4,146.7 401.9,148.9 402.4,151.5 402.9,152.9 403.4,150.6 403.9,149.8 404.4,147.7 404.9,145.1 405.4,143.5 405.9,141.3 406.4,139.8 406.9,138.7 407.4,138.7 407.9,139.2 408.4,138.2 408.9,138.7 409.4,139.8 409.9,141.5 410.4,143 410.9,143.3 411.4,142.6 411.9,144.2 412.4,145 412.9,145.8 413.4,145.3 413.9,146.1 414.4,144.3 414.9,144.4 415.4,144.8 415.9,144.8 416.4,144.1 416.9,143.5 417.4,142.5 417.9,141.7 418.4,141.8 418.9,142.2 419.4,143.7 419.9,142 420.4,141.2 420.9,139.7 421.4,139.8 421.9,140.7 422.4,142.5 422.9,144 423.4,142.4 423.9,142.5 424.4,142.1 424.9,141.3 425.4,143.4 425.9,144.9 426.4,146.8 426.9,147.3 427.4,147.5 427.9,147.4 428.4,146.2 428.9,144.5 429.4,143.9 429.9,144.5 430.4,145.3 430.9,145.5 431.4,146.4 431.9,147.2 432.4,147.2 432.9,147.3 433.4,146.5 433.9,145.5 434.4,144.4 434.9,142.9 435.4,142.4 435.9,141.6 436.4,141.9 436.9,141.7 437.4,141.6 437.9,140.7 438.4,140.5 438.9,139.9 439.4,140.7 439.9,140.7 440.4,142.3 440.9,143.5 441.4,143.5 441.9,144.7 442.4,145.9 442.9,147.4 443.4,147.4 443.9,147.5 444.4,148.7 444.9,149.3 445.4,149.1 445.9,148.5 446.4,148.3 446.9,147.2 447.4,144.5 447.9,142.5 448.4,141 448.9,139.6 449.4,139.8 449.9,141.5 450.4,142.1 450.9,141.3 451.4,139.8 451.9,140.3 452.4,142.2 452.9,144.6 453.4,145.2 453.9,145.2 454.4,144.4 454.9,144.9 455.4,145.7 455.9,147.9 456.4,148.8 456.9,148.7 457.4,147.1 457.9,145.6 458.4,143.9 458.9,143.3 459.4,143.2 459.9,144 460.4,144.2 460.9,145.6 461.4,145.4 461.9,144 462.4,142.7 462.9,143 463.4,142 463.9,142.8 464.4,144.1 464.9,144.7 465.4,145.7 465.9,146.1 466.4,146.5 466.9,145.3 467.4,145.1 467.9,145.9 468.4,148.6 468.9,150.5 469.4,151.6 469.9,151.3 470.4,149.7 470.9,147.8 471.4,146.1 471.9,145 472.4,145.2 472.9,144.6 473.4,144.3 473.9,143.4 474.4,143.3 474.9,143.6 475.4,144.1 475.9,146 476.4,148.5 476.9,151.5 477.4,152.5 477.9,153.5 478.4,154.1 478.9,155.2 479.4,156.4 479.9,156.6 480.4,158.5 480.9,160.3 481.4,161.7 481.9,162.9 482.4,161.1 482.9,159 483.4,157.5 483.9,156.6 484.4,154.4 484.9,153.5 485.4,152.6 485.9,150.6 486.4,151 486.9,149.2 487.4,149.1 487.9,148.4 488.4,146.9 488.9,145.4 489.4,144 489.9,145.1 490.4,145.9 490.9,146.7 491.4,145.5 491.9,143.5 492.4,141 492.9,141.4 493.4,143.6 493.9,144.6 494.4,147 494.9,147.4 495.4,147.3 495.9,148.9 496.4,150.6 496.9,151.9 497.4,152.3 497.9,150.1 498.4,148.1 498.9,147.2 499.4,147.1 499.9,145.5 500.4,143.5 500.9,140.8 501.4,137.6 501.9,135.9 502.4,135.7 502.9,136.4 503.4,137.5 503.9,138 504.4,138.7 504.9,138.4 505.4,139.3 505.9,141.3 506.4,143.1 506.9,144 507.4,144.1 507.9,143 508.4,145 508.9,147.5 509.4,147.4 509.9,145.5 510.4,142.1 510.9,141.5 511.4,143.2 511.9,143.5 512.4,142.9 512.9,141.7 513.4,139.3 513.9,138.3 514.4,136.7 514.9,137 515.4,137.9 515.9,138.7 516.4,138.4 516.9,138.1 517.4,137.4 517.9,138.6 518.4,139.2 518.9,141.3 519.4,142.8 519.9,144.3 520.4,145.7 520.9,146 521.4,145.3 521.9,145.1 522.4,144.4 522.9,144.8 523.4,144.9 523.9,144.1 524.4,142.9 524.9,140.7 525.4,138.4 525.9,137.4 526.4,136.6 526.9,138.2 527.4,140.6 527.9,143 528.4,144.5 528.9,145 529.4,144.3 529.9,146.3 530.4,145.7 530.9,147.4 531.4,148.7 531.9,150 532.4,149.9 532.9,148.8 533.4,147.6 533.9,146.2 534.4,145.3 534.9,144.9 535.4,145 535.9,143.1 536.4,143.5 536.9,142.1 537.4,141.6 537.9,141.5 538.4,142 538.9,141.5 539.4,140.1 539.9,137.2 540.4,135 540.9,134.6 541.4,134.9 541.9,135.9 542.4,136.1 542.9,135 543.4,134.6 543.9,132.6 544.4,134 544.9,135.5 545.4,138.3 545.9,140.2 546.4,141 546.9,142.6 547.4,142.8 547.9,144 548.4,146.5 548.9,147.7 549.4,148.4 549.9,147.7 550.4,146.5 550.9,145.6 551.4,144.4 551.9,142.1 552.4,137.9 552.9,136.4 553.4,135.8 553.9,135.2 554.4,135.1 554.9,133 555.4,130.8 555.9,128 556.4,126.5 556.9,126.2 557.4,126.2 557.9,123.6 558.4,120.6 558.9,118.1 559.4,116.7 559.9,116.6 560.4,118.4 560.9,118.4 561.4,119.1 561.9,119.7 562.4,118.9 562.9,118.9 563.4,119.5 563.9,121.1 564.4,121.5 564.9,123.6 565.4,124.3 565.9,124.2 566.4,123.1 566.9,121.9 567.4,121.4 567.9,121.5 568.4,122 568.9,122.3 569.4,123 569.9,123 570.4,123.3 570.9,122.9 571.4,122.3 571.9,121.4 572.4,122.1 572.9,122.6 573.4,123.5 573.9,124.9 574.4,123.4 574.9,122.4 575.4,120.9 575.9,122.1 576.4,124.3 576.9,125.4 577.4,124.6 577.9,123.3 578.4,122.6 578.9,123.3 579.4,123.6 579.9,123.1 580.4,122.1 580.9,121.7 581.4,122.1 581.9,122 582.4,124 582.9,127.5 583.4,129.8 583.9,133.1 584.4,136.4 584.9,140.3 585.4,144.4 585.9,145.8 586.4,146.1 586.9,146.3 587.4,146.4 587.9,147.1 588.4,148.9 588.9,150.9 589.4,151.5 589.9,151.9 590.4,152 590.9,152.2 591.4,152 591.9,150.8 592.4,150.6 592.9,150.3 593.4,149.8 593.9,148.8 594.4,148.4 594.9,148.5 595.4,149.8 595.9,149.9 596.4,150.5 596.9,149.7 597.4,147.7 597.9,146.2 598.4,143.7 598.9,142.6 599.4,141.1 599.9,141.6 600.4,140.7 600.9,141.2 601.4,140.6 601.9,139.3 602.4,137.8 602.9,136.1 603.4,135.1 603.9,135.5 604.4,136.6 604.9,137.9 605.4,139.1 605.9,136.5 606.4,133.3 606.9,130.5 607.4,127.7 607.9,125.3 608.4,123.4 608.9,122.8 609.4,121.4 609.9,120.9 610.4,117.8 610.9,115.4 611.4,113.6 611.9,112.7 612.4,113.2 612.9,112.5 613.4,113.2 613.9,113.6 614.4,115.8 614.9,117.5 615.4,118 615.9,119.5 616.4,120.2 616.9,121.4 617.4,122.1 617.9,123.1 618.4,124.6 618.9,126 619.4,126.2 619.9,126.2 620.4,125.7 620.9,125 621.4,124.8 621.9,125.5 622.4,124.3 622.9,124.2 623.4,124.8 623.9,123.8 624.4,122.7 624.9,121.4 625.4,120.2 625.9,120.2 626.4,121.8 626.9,124.4 627.4,125.7 627.9,124.5 628.4,123.2 628.9,123.4 629.4,125.2 629.9,126.9 630.4,127.7 630.9,128.2 631.4,127.8 631.9,127.5 632.4,127.1 632.9,125.3 633.4,124.1 633.9,123.7 634.4,122.3 634.9,121 635.4,117.7 635.9,115.4 636.4,115 636.9,116.9 637.4,119.2 637.9,121.5 638.4,123.3 638.9,124.7 639.4,125.1 639.9,124.8 640.4,126.8 640.9,126.6 641.4,128.1 641.9,129.1 642.4,129.1 642.9,129.2 643.4,129.4 643.9,129.6 644.4,129.7 644.9,129.8 645.4,130.6 645.9,131.7 646.4,133.6 646.9,135.2 647.4,135.9 647.9,135.4 648.4,134.9 648.9,135.5 649.4,136.4 649.9,136.8 650.4,137.8 650.9,138.9 651.4,139.4 651.9,141.5 652.4,141.7 652.9,142.3 653.4,141.9 653.9,141 654.4,138.3 654.9,137.5 655.4,137.3 655.9,136.7 656.4,136.2 656.9,136.4 657.4,136.6 657.9,136.3 658.4,136.2 658.9,135.3 659.4,134.3 659.9,133.8 660.4,134.4 660.9,136.7 661.4,140.5 661.9,142.7 662.4,141.4 662.9,137.9 663.4,136.5 663.9,142.5 664.4,143.9" fill="none" stroke="#111" stroke-width="2.6" stroke-linejoin="round" opacity="0.5"/>
<path d="M46.4,59.3 46.5,61.3 46.6,61 46.8,61.2 46.9,61.2 47,64.3 47.1,57.3 47.3,60.4 47.4,60.4 47.5,57.6 47.6,59.9 47.8,59.6 47.9,57.9 48,55.9 48.1,60.7 48.3,64.4 48.4,64.7 48.5,63 48.6,58.5 48.8,64.9 48.9,63.8 49,57.9 49.1,63.4 49.3,61.6 49.4,64.1 49.5,61.5 49.6,58.7 49.8,63.1 49.9,58 50,62.6 50.1,62 50.3,60.4 50.4,65.8 50.5,63.5 50.6,66.3 50.8,64.2 50.9,65.6 51,63.6 51.1,67.6 51.3,64.8 51.4,65.5 51.5,66.8 51.6,65.9 51.8,64.4 51.9,67 52,67.3 52.1,66.5 52.3,70.1 52.4,65.2 52.5,66.5 52.6,68.4 52.8,67.3 52.9,68.7 53,67.9 53.1,67.2 53.3,66.3 53.4,66.7 53.5,65.1 53.6,66.6 53.8,64.2 53.9,61.2 54,63.8 54.1,59.9 54.3,60.7 54.4,63.1 54.5,62.2 54.6,65.6 54.8,62.9 54.9,65.5 55,63.2 55.1,62.1 55.3,65.9 55.4,64.5 55.5,63.3 55.6,64.6 55.8,62.3 55.9,64.5 56,64.1 56.1,64.7 56.3,63.4 56.4,60.1 56.5,62.1 56.6,61.6 56.8,62 56.9,58.2 57,61.3 57.1,58.3 57.3,61.7 57.4,53.9 57.5,56.3 57.6,56.5 57.8,57.9 57.9,55.7 58,55.9 58.1,55.5 58.3,57.1 58.4,57.6 58.5,51.4 58.6,55.3 58.8,53.1 58.9,56.6 59,50.9 59.1,54.3 59.3,56.8 59.4,54.1 59.5,54.5 59.6,55.8 59.8,50.4 59.9,55.3 60,49.2 60.1,50.6 60.3,51.3 60.4,49.4 60.5,50.5 60.6,47.1 60.8,48.4 60.9,49.8 61,46.5 61.1,48.9 61.3,49.3 61.4,48.5 61.5,51.8 61.6,46.1 61.8,47 61.9,42.1 62,46.8 62.1,42.3 62.3,43 62.4,46.6 62.5,46.5 62.6,43.8 62.8,45 62.9,46.8 63,40.8 63.1,45 63.3,46 63.4,43 63.5,42.4 63.6,44.3 63.8,41.4 63.9,45.4 64,44.2 64.2,42 64.3,43.4 64.4,40.5 64.5,43.4 64.7,44 64.8,40.9 64.9,42.5 65,43.6 65.2,40.2 65.3,41.6 65.4,38.9 65.5,38.9 65.7,35.6 65.8,42.7 65.9,40 66,38.3 66.2,37.3 66.3,39.4 66.4,36.7 66.5,41.2 66.7,40.1 66.8,35.9 66.9,39.1 67,36 67.2,36.3 67.3,26 67.4,23.5 67.5,26 67.7,33.2 67.8,37.1 67.9,40.6 68,38.6 68.2,41.1 68.3,39 68.4,42.7 68.5,37.8 68.7,44.4 68.8,45.2 68.9,41.9 69,40.9 69.2,44.6 69.3,38.3 69.4,42.2 69.5,41.5 69.7,48.6 69.8,40.9 69.9,40.7 70,38.3 70.2,36 70.3,39.3 70.4,40 70.5,39.7 70.7,40.4 70.8,36.5 70.9,40 71,41.1 71.2,37.6 71.3,37.2 71.4,41.9 71.5,39.2 71.7,41.7 71.8,41.8 71.9,41.5 72,41.7 72.2,44.7 72.3,40.4 72.4,43.8 72.5,48.3 72.7,41.5 72.8,41 72.9,42.4 73,44.5 73.2,45.6 73.3,49 73.4,47.9 73.5,48.9 73.7,44.3 73.8,49.9 73.9,48.7 74,44.1 74.2,47.2 74.3,50.1 74.4,46.4 74.5,50.4 74.7,50 74.8,51.7 74.9,46.8 75,47.5 75.2,46.2 75.3,52.3 75.4,51.2 75.5,51.8 75.7,48.7 75.8,52.6 75.9,55.8 76,49.2 76.2,52.8 76.3,50.5 76.4,50.5 76.5,48.9 76.7,53.8 76.8,53.3 76.9,54.1 77,51.7 77.2,51.3 77.3,51.9 77.4,52.6 77.5,54.7 77.7,52.6 77.8,51.4 77.9,54.6 78,57.1 78.2,56.3 78.3,52.2 78.4,52.7 78.5,56.5 78.7,55.6 78.8,57.8 78.9,54 79,50.9 79.2,54.2 79.3,48.6 79.4,46.4 79.5,53.1 79.7,50.9 79.8,49.7 79.9,45.3 80,49.1 80.2,47.4 80.3,51.1 80.4,42.4 80.5,40.7 80.7,41.8 80.8,41.7 80.9,42 81,36.9 81.2,40 81.3,45.4 81.4,40.5 81.5,44.8 81.7,44.2 81.8,42.7 81.9,43.2 82,41.9 82.2,44.2 82.3,47.9 82.4,46.6 82.5,48.9 82.7,43.2 82.8,42.8 82.9,48.7 83,49.5 83.2,44.8 83.3,44.9 83.4,48.2 83.5,46.9 83.7,48.5 83.8,51 83.9,48 84,47.2 84.2,50.7 84.3,47.1 84.4,45.9 84.5,43.6 84.7,53.9 84.8,48 84.9,49.2 85,50.6 85.2,49.2 85.3,43.4 85.4,49.5 85.5,49.9 85.7,45 85.8,47.4 85.9,52.5 86,48.1 86.2,46.4 86.3,52.1 86.4,50.9 86.5,51.9 86.7,46.8 86.8,49.5 86.9,49 87,46.3 87.2,54.1 87.3,47.6 87.4,50.3 87.5,51.6 87.7,49.5 87.8,52.8 87.9,52.8 88,55.4 88.2,52.7 88.3,57.4 88.4,54.8 88.5,54.7 88.7,56.2 88.8,55.5 88.9,53.9 89,57.2 89.2,55.9 89.3,61.9 89.4,57.9 89.5,51.6 89.7,53.8 89.8,54 89.9,57 90,50.7 90.2,53.4 90.3,47.6 90.4,48.2 90.5,46.5 90.7,47.5 90.8,50.9 90.9,51.3 91,48.1 91.2,48.1 91.3,52.1 91.4,50.1 91.5,47 91.7,51.4 91.8,50.2 91.9,50.6 92,52.8 92.2,55.2 92.3,54.8 92.4,49.6 92.5,54.3 92.7,52.2 92.8,48.1 92.9,48.3 93,52.1 93.2,53.5 93.3,62 93.4,52.9 93.5,53.5 93.7,56.4 93.8,52.5 93.9,54.7 94,57.4 94.2,54.9 94.3,51.7 94.4,54.6 94.5,58.4 94.7,54.8 94.8,56.1 94.9,61.5 95,56.2 95.2,58.6 95.3,59 95.4,61.3 95.5,55.4 95.7,61.6 95.8,54.6 95.9,57.5 96,61.8 96.2,56.8 96.3,52.1 96.4,56 96.5,58.4 96.7,64.9 96.8,55.2 96.9,54 97,57.6 97.2,61.1 97.3,59.5 97.4,65.8 97.5,59.4 97.7,63.6 97.8,59.2 97.9,63.1 98,64.2 98.2,56.9 98.3,60.5 98.4,59.3 98.5,63 98.7,58.4 98.8,56.7 98.9,62.7 99,61.9 99.2,60.3 99.3,61.4 99.4,59.6 99.5,60.8 99.7,62.5 99.8,62.7 99.9,56.1 100,68.9 100.2,63.8 100.3,60.1 100.4,63 100.5,63.8 100.7,71.5 100.8,65.4 100.9,65.6 101,69.3 101.2,63.5 101.3,70.3 101.4,67.6 101.5,68.1 101.7,68.4 101.8,68.2 101.9,65.7 102,62.7 102.2,68.7 102.3,70.2 102.4,65.4 102.5,65.5 102.7,67.8 102.8,68.2 102.9,73.2 103,60 103.2,62.8 103.3,65.4 103.4,67.2 103.5,66.5 103.7,64.4 103.8,63.7 103.9,64 104,60 104.2,70 104.3,70.7 104.4,63.7 104.5,63.7 104.7,62.7 104.8,59.1 104.9,65.9 105,65.3 105.2,65.7 105.3,67 105.4,63.4 105.5,66.7 105.7,64.8 105.8,61.9 105.9,63.3 106,65.9 106.2,65.8 106.3,67.5 106.4,65.6 106.5,65.8 106.7,68.4 106.8,67.4 106.9,70.4 107,68.7 107.2,67.6 107.3,66.9 107.4,70.3 107.5,68.6 107.7,65.5 107.8,69.3 107.9,68.7 108,70 108.2,70.2 108.3,66.6 108.4,69.7 108.5,65.6 108.7,67.8 108.8,66.4 108.9,65.9 109,64.6 109.2,63.9 109.3,68.4 109.4,58.7 109.5,62.8 109.7,66 109.8,60.5 109.9,61.9 110,60.9 110.2,60.6 110.3,63.2 110.4,64.6 110.5,58.4 110.7,64.1 110.8,62.5 110.9,60.9 111,61.7 111.2,62 111.3,60.1 111.4,59.7 111.5,59.2 111.7,57.4 111.8,61 111.9,63.7 112,58.1 112.2,59.7 112.3,63.1 112.4,59.9 112.5,56 112.7,58.3 112.8,61.1 112.9,57.2 113,58.4 113.2,56.6 113.3,57.9 113.4,60.5 113.5,60.6 113.7,59 113.8,60.1 113.9,59.7 114,63.1 114.2,65.1 114.3,60.8 114.4,56.4 114.5,63.6 114.7,61.1 114.8,58.7 114.9,61.4 115,61.2 115.2,59.5 115.3,60.9 115.4,67.2 115.5,58.5 115.7,64.8 115.8,60.5 115.9,59.2 116,67.7 116.2,57.8 116.3,67.1 116.4,61.6 116.5,59.2 116.7,71.5 116.8,70.5 116.9,73.3 117,67.7 117.2,61.5 117.3,70.3 117.4,61.8 117.5,69.3 117.7,73.6 117.8,71.2 117.9,68.9 118,69.3 118.2,64.5 118.3,68 118.4,65.5 118.5,63.6 118.7,67.3 118.8,58.2 118.9,60.1 119,62.6 119.2,64.4 119.3,65.5 119.4,69 119.5,62.8 119.7,57.4 119.8,59.4 119.9,56.9 120,64.6 120.2,59.5 120.3,65.1 120.4,62.7 120.5,55 120.7,61.7 120.8,65.6 120.9,57.5 121,56 121.2,57 121.3,59.1 121.4,57.7 121.5,61.4 121.7,61.7 121.8,53.3 121.9,55 122,59.4 122.2,63.8 122.3,59.1 122.4,63.5 122.5,57.6 122.7,61 122.8,58.9 122.9,55.2 123,54.3 123.2,57.3 123.3,54.7 123.4,54.9 123.5,52.6 123.7,56.3 123.8,55.9 123.9,46.4 124,54.6 124.2,56.2 124.3,58.2 124.4,53 124.5,50.2 124.7,52.7 124.8,52.3 124.9,50.5 125,50.9 125.2,48.9 125.3,50 125.4,53.1 125.5,48.6 125.7,50.5 125.8,47.4 125.9,51.2 126,59 126.2,43.8 126.3,54.4 126.4,45.5 126.5,54.2 126.7,46.4 126.8,51.2 126.9,48.9 127,54.7 127.2,44.7 127.3,48.8 127.4,46.2 127.5,42.8 127.7,45.3 127.8,45 127.9,51 128,42.5 128.2,47.6 128.3,51.9 128.4,51.5 128.5,48.9 128.7,45.4 128.8,46.4 128.9,47.6 129,47.4 129.2,47.5 129.3,46 129.4,46.3 129.5,47.3 129.7,48.9 129.8,41.5 129.9,44 130,45.2 130.2,44.6 130.3,46.7 130.4,46.4 130.5,49.5 130.7,48.9 130.8,44.9 130.9,45.4 131,48.6 131.2,47.9 131.3,50.6 131.4,55.4 131.5,52.9 131.7,49.2 131.8,50.2 131.9,52.4 132,51.9 132.2,56.9 132.3,53.6 132.4,57.8 132.5,62.2 132.7,57 132.8,57.8 132.9,57 133,61.2 133.2,60.2 133.3,62.7 133.4,66.5 133.5,59.7 133.7,57.5 133.8,57.9 133.9,62 134,61.6 134.2,62.6 134.3,66.1 134.4,65.1 134.5,62.8 134.7,61.4 134.8,62.5 134.9,65.7 135,60.2 135.2,64.6 135.3,68.5 135.4,68.3 135.5,63.4 135.7,59.8 135.8,61.5 135.9,58.6 136,66.3 136.2,63.9 136.3,62.4 136.4,62.1 136.5,54.9 136.7,58.3 136.8,66.1 136.9,56.4 137,58.3 137.2,58.4 137.3,60.5 137.4,54.4 137.5,57.2 137.7,61.3 137.8,54.7 137.9,59.3 138,53.6 138.2,58.8 138.3,55.9 138.4,55.5 138.5,58 138.7,61.8 138.8,54.6 138.9,58.7 139,60.3 139.2,59.9 139.3,60.8 139.4,54.4 139.5,60 139.7,62 139.8,62.8 139.9,56.9 140,62.4 140.2,55.4 140.3,59 140.4,57.4 140.5,51.2 140.7,61 140.8,61.9 140.9,58.6 141,56.9 141.2,63 141.3,57.4 141.4,56.8 141.5,57 141.7,56.6 141.8,59 141.9,55.2 142,54.6 142.2,50.8 142.3,57.6 142.4,51 142.5,56.3 142.7,51.1 142.8,52.7 142.9,54.4 143,54.9 143.2,51.5 143.3,52.5 143.4,49.9 143.5,46.9 143.7,45 143.8,50.8 143.9,49.5 144,48.5 144.2,38.6 144.3,51.3 144.4,48.8 144.5,44.1 144.7,44.2 144.8,48.1 144.9,47.2 145,48.8 145.2,51.3 145.3,46.7 145.4,44.5 145.5,44.5 145.7,44.8 145.8,40.8 145.9,47.1 146,44.2 146.2,40.1 146.3,44.2 146.4,44.9 146.5,48.8 146.7,41.3 146.8,41.4 146.9,38.3 147,40.2 147.2,42.4 147.3,39.2 147.4,43.2 147.5,41.8 147.7,41.6 147.8,37.5 147.9,39.8 148,41.8 148.2,37.6 148.3,42.8 148.4,38.5 148.5,42.3 148.7,40.3 148.8,46.4 148.9,38.5 149,44.1 149.2,41.4 149.3,45.5 149.4,47 149.5,38.6 149.7,48.3 149.8,49.8 149.9,47.5 150,44.6 150.2,49.4 150.3,49.2 150.4,49.9 150.5,49 150.7,44.9 150.8,48.9 150.9,39 151,48.2 151.2,47.5 151.3,45.6 151.4,48 151.5,46.5 151.7,45.6 151.8,44.6 151.9,43.3 152,42.1 152.2,48.8 152.3,45.4 152.4,53 152.5,49.2 152.7,48.1 152.8,49.4 152.9,49.8 153,49.2 153.2,48.7 153.3,50.4 153.4,54.9 153.5,53.8 153.7,54.1 153.8,55.9 153.9,55 154,51.5 154.2,55 154.3,53.7 154.4,52.4 154.5,57.1 154.7,54.1 154.8,48.7 154.9,55.4 155,48.6 155.2,50.4 155.3,50.3 155.4,54.9 155.5,54.9 155.7,49.1 155.8,42.4 155.9,43 156,39.8 156.2,40 156.3,33 156.4,30.5 156.5,33 156.7,43.4 156.8,45.7 156.9,41.4 157,55.2 157.2,48.5 157.3,47.4 157.4,51.1 157.5,47.3 157.7,59.2 157.8,55.9 157.9,62.7 158,62.5 158.2,64.3 158.3,54 158.4,57.9 158.5,58.7 158.7,56.4 158.8,58 158.9,56.8 159,54 159.2,55.7 159.3,55.8 159.4,47.6 159.5,55.9 159.7,50.3 159.8,50.5 159.9,54.2 160,53.4 160.2,57.6 160.3,54.2 160.4,47 160.5,52.2 160.7,54.2 160.8,48.9 160.9,55.2 161,51.2 161.2,53.1 161.3,48.7 161.4,52.4 161.5,52.6 161.7,54.3 161.8,57.2 161.9,49.1 162,56.4 162.2,54.4 162.3,57.5 162.4,56.4 162.5,56.4 162.7,57.9 162.8,53.1 162.9,49.2 163,52.1 163.2,52.4 163.3,57.3 163.4,52.7 163.5,51.6 163.7,55.9 163.8,55.1 163.9,54.8 164,55 164.2,53 164.3,58.8 164.4,52.2 164.5,59.7 164.7,53 164.8,59.1 164.9,56.3 165,57 165.2,57.6 165.3,58.5 165.4,64.3 165.5,57.1 165.7,60.4 165.8,62.1 165.9,60.5 166,55.5 166.2,58.1 166.3,62.8 166.4,53.6 166.5,55.5 166.7,56.2 166.8,61.3 166.9,58.7 167,59.2 167.2,58.6 167.3,56 167.4,61.6 167.5,60.7 167.7,58.8 167.8,63.1 167.9,60 168,59.1 168.2,64 168.3,62.6 168.4,61.9 168.5,66 168.7,61.1 168.8,61.7 168.9,67.2 169,70.7 169.2,69.1 169.3,68.1 169.4,62.4 169.5,64.1 169.7,64.9 169.8,67.1 169.9,64.2 170,65.5 170.2,69.5 170.3,64.1 170.4,63.9 170.5,64.8 170.7,64.5 170.8,67.1 170.9,62.3 171,68.3 171.2,64.2 171.3,67 171.4,66.4 171.5,67.5 171.7,65.3 171.8,69.6 171.9,67 172,66.4 172.2,64.4 172.3,65.7 172.4,65.5 172.5,61.3 172.7,62.8 172.8,63.1 172.9,62.9 173,62.7 173.2,64 173.3,66.2 173.4,64.7 173.5,62.4 173.7,64.4 173.8,64.1 173.9,63.7 174,63.6 174.2,61.2 174.3,65.1 174.4,66.7 174.5,65.4 174.7,63.6 174.8,65.3 174.9,62 175,63.3 175.2,63.9 175.3,64.2 175.4,60 175.5,66.4 175.7,58.8 175.8,61.6 175.9,64.9 176,62.5 176.2,63 176.3,62.8 176.4,66 176.5,60.1 176.7,60.9 176.8,60.8 176.9,57.8 177,62.9 177.2,63.5 177.3,62.6 177.4,58.5 177.5,62.3 177.7,64.2 177.8,61.1 177.9,63.1 178,62.9 178.2,62.7 178.3,64.5 178.4,61.4 178.5,61.6 178.7,62.6 178.8,59.5 178.9,63.6 179,63.6 179.2,61.5 179.3,63.3 179.4,62.9 179.5,63.6 179.7,64.6 179.8,63.2 179.9,69.2 180,66.2 180.2,66.4 180.3,64.4 180.4,65.6 180.5,66.2 180.7,67.4 180.8,62.7 180.9,69.6 181,61.6 181.2,69.6 181.3,60.2 181.4,61.2 181.5,60.5 181.7,64.6 181.8,62 181.9,66.4 182,59.8 182.2,64.7 182.3,56.8 182.4,59.1 182.5,54.5 182.7,68.1 182.8,58.7 182.9,56.4 183,57.2 183.2,58 183.3,55.7 183.4,55.2 183.5,58.1 183.7,50.6 183.8,52 183.9,60.8 184,58.4 184.2,57.3 184.3,52.6 184.4,59.2 184.5,59.6 184.7,58 184.8,61.2 184.9,55.8 185,56.7 185.2,54.8 185.3,52.4 185.4,54.6 185.5,56.1 185.7,50.9 185.8,51.4 185.9,55 186,51.4 186.2,53.6 186.3,48.5 186.4,50.7 186.5,49.8 186.7,49.9 186.8,48 186.9,55.7 187,50.9 187.2,48.6 187.3,55.6 187.4,47 187.5,47.6 187.7,52.3 187.8,50.5 187.9,50.2 188,50.5 188.2,49.5 188.3,46.5 188.4,52.4 188.5,51.9 188.7,50.4 188.8,46.8 188.9,47.4 189,51.6 189.2,47 189.3,48.3 189.4,49.1 189.5,48.4 189.7,49.9 189.8,42.6 189.9,46.9 190,42.6 190.2,49.6 190.3,51.6 190.4,47.8 190.5,50.6 190.7,51.5 190.8,52.9 190.9,51.2 191,52.2 191.2,56.9 191.3,52.3 191.4,56.2 191.5,52.5 191.7,51.1 191.8,52.6 191.9,59.7 192,46 192.2,54.9 192.3,51 192.4,51.4 192.5,51.2 192.7,56.3 192.8,57.4 192.9,54.4 193,61.3 193.2,51.6 193.3,59.6 193.4,56.2 193.5,57.7 193.7,59.4 193.8,59.5 193.9,58.2 194,54.8 194.2,57.9 194.3,58.5 194.4,53.5 194.5,59.1 194.7,61 194.8,58.8 194.9,60.4 195,57.6 195.2,58.3 195.3,57.2 195.4,54.7 195.5,54.7 195.7,61.4 195.8,56.9 195.9,62.7 196,56.2 196.2,57.3 196.3,58.9 196.4,54.9 196.5,59.3 196.7,59.4 196.8,59.8 196.9,57.4 197,58.8 197.2,56.3 197.3,62.3 197.4,60.8 197.5,57.5 197.7,63.5 197.8,58.3 197.9,62.8 198,64.2 198.2,64.5 198.3,58.1 198.4,58.2 198.5,63.5 198.7,64.5 198.8,66.2 198.9,62.9 199,52.6 199.2,60 199.3,64.1 199.4,54.9 199.5,61.8 199.7,72.9 199.8,62.5 199.9,60 200,65.7 200.2,58.8 200.3,62 200.4,64 200.5,56.9 200.7,66.7 200.8,64.4 200.9,64.8 201,63.5 201.2,68.4 201.3,66.2 201.4,63.6 201.5,68.1 201.7,67.6 201.8,64.3 201.9,66.8 202,72.2 202.2,65.1 202.3,68.2 202.4,68.5 202.5,65.5 202.7,64.7 202.8,70 202.9,68.1 203,66.5 203.2,66.4 203.3,65.3 203.4,72.3 203.5,67.6 203.7,65.7 203.8,66.3 203.9,68.3 204,64.8 204.2,65.6 204.3,67 204.4,65.6 204.5,67.1 204.7,70.6 204.8,69.1 204.9,69.2 205,69.4 205.2,72.8 205.3,67.1 205.4,67 205.5,68.5 205.7,67.5 205.8,71.1 205.9,71.9 206,69.3 206.2,70.6 206.3,71 206.4,70.4 206.5,66.6 206.7,72.8 206.8,68.2 206.9,67 207,63.2 207.2,72.7 207.3,68.8 207.4,67.1 207.5,68.9 207.7,64 207.8,67.4 207.9,66.7 208,64.2 208.2,63.1 208.3,63 208.4,63.2 208.5,67.3 208.7,66.9 208.8,65.7 208.9,61.4 209,63.2 209.2,61.7 209.3,63 209.4,63.8 209.5,66 209.7,65 209.8,64.1 209.9,61.8 210,66.4 210.2,59.8 210.3,61.2 210.4,61.2 210.5,58 210.7,60.3 210.8,59.7 210.9,55.4 211,58.9 211.2,60.3 211.3,57.1 211.4,54.4 211.5,59 211.7,56.1 211.8,56.3 211.9,55.4 212,54 212.2,52.4 212.3,53.6 212.4,54.2 212.5,55.2 212.7,54.9 212.8,56.4 212.9,56.4 213,54.1 213.2,54.7 213.3,56.2 213.4,54.1 213.5,53.1 213.7,55.3 213.8,56.7 213.9,62.7 214,57.2 214.2,59.1 214.3,60 214.4,61.9 214.5,62 214.7,62.5 214.8,61.5 214.9,62.7 215,60.5 215.2,67.2 215.3,65 215.4,62.3 215.5,63.7 215.7,64 215.8,63.4 215.9,62.8 216,62.4 216.2,60 216.3,58.6 216.4,60.8 216.5,63.4 216.7,61.1 216.8,63 216.9,58 217,60.8 217.2,62 217.3,59.1 217.4,59.7 217.5,59.7 217.7,59.8 217.8,59.9 217.9,58 218,56.9 218.2,59.6 218.3,58.4 218.4,59 218.5,62.5 218.7,58.6 218.8,58.1 218.9,56.2 219,60.3 219.2,58 219.3,54.6 219.4,57.1 219.5,58.9 219.7,56.7 219.8,62.2 219.9,60.8 220,58 220.2,59.4 220.3,59.6 220.4,58.7 220.5,64.5 220.7,62.2 220.8,57.7 220.9,65.8 221,59.2 221.2,63.1 221.3,63.5 221.4,66 221.5,59 221.7,60.7 221.8,59.5 221.9,60.9 222,66 222.2,58.3 222.3,60.1 222.4,60 222.5,61.8 222.7,56.7 222.8,66.5 222.9,64.2 223,63.9 223.2,70.7 223.3,74.3 223.4,65.4 223.5,64.1 223.7,62.9 223.8,59 223.9,67.1 224,70 224.2,65.3 224.3,69.3 224.4,71.6 224.5,66.3 224.7,68.1 224.8,70.2 224.9,69 225,71.8 225.2,73.8 225.3,71.4 225.4,65.5 225.5,73 225.7,69.8 225.8,68.1 225.9,69.8 226,68.6 226.2,71.6 226.3,69.2 226.4,73.4 226.5,76.3 226.7,73.4 226.8,74.4 226.9,76.6 227,77.2 227.2,68.6 227.3,72.7 227.4,73.4 227.5,73.8 227.7,70.2 227.8,66.8 227.9,72.5 228,64.6 228.2,62.6 228.3,63.3 228.4,64.1 228.5,65.4 228.7,65 228.8,65.7 228.9,66.9 229,65.5 229.2,59.5 229.3,61.5 229.4,60.3 229.5,56.2 229.7,62.2 229.8,58.1 229.9,55.2 230,61.2 230.2,61.6 230.3,61.4 230.4,63.1 230.5,57.1 230.7,57.5 230.8,56.9 230.9,64.2 231,58.5 231.2,58 231.3,56.2 231.4,59.8 231.5,56.3 231.7,56.2 231.8,61.8 231.9,56.8 232,56.9 232.2,56 232.3,53.9 232.4,56.3 232.5,56.1 232.7,58.6 232.8,56.4 232.9,59 233,53.1 233.2,57.1 233.3,63.1 233.4,54.9 233.5,59.9 233.7,58.1 233.8,57.4 233.9,59.5 234,55 234.2,59.6 234.3,60 234.4,60.6 234.5,60.4 234.7,60.6 234.8,57.1 234.9,59.9 235,63 235.2,62.1 235.3,60.2 235.4,60.6 235.5,62.1 235.7,60.4 235.8,62.8 235.9,62.8 236,62.6 236.2,64.5 236.3,57.8 236.4,60.9 236.5,66.3 236.7,62.9 236.8,63.7 236.9,63.7 237,59.5 237.2,64.2 237.3,63.7 237.4,63 237.5,63.2 237.7,60.6 237.8,68 237.9,58.2 238,58.7 238.2,63.8 238.3,60.4 238.4,67.2 238.5,61 238.7,66.6 238.8,60.8 238.9,62.9 239,69.5 239.2,69.7 239.3,61.4 239.4,60.7 239.5,70.1 239.7,64.9 239.8,67.5 239.9,68.7 240,70.5 240.2,68.9 240.3,69.8 240.4,66.7 240.5,65.2 240.7,65.6 240.8,67.8 240.9,70.7 241,65.5 241.2,65.8 241.3,68.9 241.4,68.8 241.5,70.5 241.7,67.3 241.8,69.7 241.9,65.2 242,62 242.2,74.9 242.3,65.3 242.4,66.6 242.5,72.5 242.7,72.8 242.8,70.6 242.9,65 243,63.1 243.2,65.3 243.3,64.9 243.4,65.4 243.5,68.1 243.7,63.5 243.8,60.4 243.9,60.9 244,61.2 244.2,60.5 244.3,61.8 244.4,67.1 244.5,66.7 244.7,66.7 244.8,63.1 244.9,62.1 245,67.2 245.2,67.3 245.3,65.1 245.4,65.3 245.5,65.5 245.7,70.2 245.8,65.2 245.9,67.3 246,60.9 246.2,67.6 246.3,70 246.4,67.1 246.5,62.3 246.7,68.5 246.8,67.8 246.9,72.8 247,67.7 247.2,72.7 247.3,67.7 247.4,66.8 247.5,67.5 247.7,68.7 247.8,68.1 247.9,66.7 248,65.3 248.2,68.1 248.3,68 248.4,66.4 248.5,64.9 248.7,65.3 248.8,63.7 248.9,67.2 249,69.4 249.2,70.9 249.3,65.6 249.4,63.7 249.5,62.5 249.7,68 249.8,65.2 249.9,66.8 250,65.6 250.2,63.2 250.3,63.5 250.4,58.8 250.5,67.1 250.7,64.7 250.8,62.5 250.9,66.1 251,62.3 251.2,58.8 251.3,62.5 251.4,60.7 251.5,64.1 251.7,59 251.8,59.6 251.9,61.9 252,60.2 252.2,56.9 252.3,57.4 252.4,56.4 252.5,58.5 252.7,57.4 252.8,58.8 252.9,59.3 253,61 253.2,56.4 253.3,61.6 253.4,64.7 253.5,62.7 253.7,64.5 253.8,60.3 253.9,64.3 254,63.8 254.2,63.9 254.3,69.7 254.4,62.1 254.5,66.7 254.7,61.3 254.8,62.8 254.9,63.1 255,65.8 255.2,67.2 255.3,64.3 255.4,64 255.5,62.5 255.7,66.5 255.8,66.2 255.9,62.9 256,65.5 256.1,62.3 256.3,66.7 256.4,64.4 256.5,62.5 256.6,64.7 256.8,66.6 256.9,66.2 257,65.2 257.1,63 257.3,63.9 257.4,67.1 257.5,64.8 257.6,65.6 257.8,64.2 257.9,66.2 258,62.5 258.1,63.7 258.3,65.2 258.4,66 258.5,62.4 258.6,64.9 258.8,62.3 258.9,61.8 259,59.4 259.1,59.7 259.3,57.3 259.4,60.3 259.5,58.7 259.6,59.5 259.8,57.8 259.9,58.8 260,64.5 260.1,57.8 260.3,59.6 260.4,59.6 260.5,54.9 260.6,59.1 260.8,53.3 260.9,59.5 261,55.7 261.1,55.1 261.3,54.6 261.4,48.1 261.5,55.4 261.6,54.2 261.8,59.3 261.9,55.7 262,50.6 262.1,58 262.3,52.5 262.4,54.8 262.5,54.6 262.6,51.3 262.8,46.9 262.9,47.9 263,49.7 263.1,52.6 263.3,51.2 263.4,51.4 263.5,45.5 263.6,45.6 263.8,48.8 263.9,45 264,50 264.1,48.5 264.3,50.3 264.4,49 264.5,47.8 264.6,47.9 264.8,46.6 264.9,52.2 265,45.3 265.1,48.6 265.3,45.7 265.4,44 265.5,51.8 265.6,44.5 265.8,46.8 265.9,50.1 266,52.9 266.1,49.2 266.3,46 266.4,49.2 266.5,55.6 266.6,49.1 266.8,50.1 266.9,54.4 267,54.9 267.1,51.6 267.3,54.4 267.4,52.9 267.5,48 267.6,55.3 267.8,50.3 267.9,48.1 268,54.8 268.1,55.7 268.3,55.2 268.4,56.6 268.5,56.2 268.6,56.9 268.8,56.2 268.9,57.5 269,52 269.1,55 269.3,59.6 269.4,61.5 269.5,60.3 269.6,56.9 269.8,54.2 269.9,55.5 270,58.4 270.1,54.4 270.3,55.2 270.4,61.8 270.5,57.1 270.6,58.7 270.8,43.7 270.9,53.7 271,55.2 271.1,52.8 271.3,49.4 271.4,54.1 271.5,46 271.6,48.2 271.8,50.6 271.9,47.6 272,46.5 272.1,44.1 272.3,53.1 272.4,43 272.5,46.2 272.6,44.3 272.8,45.7 272.9,48.1 273,41.8 273.1,51.7 273.3,42.7 273.4,46.4 273.5,53 273.6,47.2 273.8,57.3 273.9,44 274,46.3 274.1,35.1 274.3,43 274.4,49.2 274.5,46.4 274.6,46.1 274.8,45.4 274.9,44.4 275,42.5 275.1,45.1 275.3,40.8 275.4,44.6 275.5,46.9 275.6,44.2 275.8,44.5 275.9,46.9 276,44.3 276.1,46.5 276.3,43.8 276.4,49.2 276.5,48.2 276.6,48.6 276.8,46.3 276.9,50.8 277,50.8 277.1,49.2 277.3,46.6 277.4,50.7 277.5,50 277.6,49.3 277.8,54.6 277.9,53.5 278,54.4 278.1,55.6 278.3,52.8 278.4,52.6 278.5,58.4 278.6,55.2 278.8,58.8 278.9,58.2 279,58.7 279.1,59.9 279.3,59.6 279.4,56.7 279.5,56.8 279.6,61 279.8,55.6 279.9,60.8 280,62.5 280.1,58.4 280.3,57 280.4,58.8 280.5,58.8 280.6,63.5 280.8,63 280.9,60.2 281,61.5 281.1,62.4 281.3,63.2 281.4,66.4 281.5,65.3 281.6,64.4 281.8,66.7 281.9,64.7 282,68.3 282.1,67.5 282.3,65.9 282.4,69.3 282.5,70.7 282.6,69.4 282.8,68.5 282.9,74.9 283,70.9 283.1,69 283.3,72 283.4,73.3 283.5,72.4 283.6,70.3 283.8,73.5 283.9,72.9 284,67.6 284.1,71.8 284.3,74.1 284.4,71.6 284.5,72.2 284.6,73.5 284.8,74.6 284.9,72.5 285,73.1 285.1,72.8 285.3,68.8 285.4,74.5 285.5,73.2 285.6,67.6 285.8,73.4 285.9,70 286,66.2 286.1,71.5 286.3,70.5 286.4,73.3 286.5,70.8 286.6,72.1 286.8,65.7 286.9,67.8 287,66 287.1,68.2 287.3,66.5 287.4,65.9 287.5,66.7 287.6,66.4 287.8,61.7 287.9,63 288,62.3 288.1,63.5 288.3,66.3 288.4,67.4 288.5,62.1 288.6,61 288.8,65.4 288.9,63.8 289,65.3 289.1,65.3 289.3,67.3 289.4,64.7 289.5,63.7 289.6,64.4 289.8,64.9 289.9,65.5 290,68.1 290.1,65.8 290.3,68.7 290.4,67.4 290.5,65.7 290.6,65.1 290.8,64 290.9,66.1 291,70.2 291.1,65.5 291.3,64.7 291.4,64.8 291.5,65.3 291.6,62.4 291.8,61.2 291.9,58.7 292,58.2 292.1,60.6 292.3,59.3 292.4,56.3 292.5,57.6 292.6,59.6 292.8,57.3 292.9,56.5 293,60.2 293.1,58.2 293.3,58.9 293.4,58 293.5,58.2 293.6,56.9 293.8,59.1 293.9,58 294,61.3 294.1,60.9 294.3,59.5 294.4,60.7 294.5,60.7 294.6,58.3 294.8,58.6 294.9,60.9 295,60.4 295.1,60.2 295.3,59.3 295.4,59.5 295.5,59.7 295.6,59.2 295.8,56.5 295.9,58.8 296,59.3 296.1,59.3 296.3,60.1 296.4,60.1 296.5,59.2 296.6,59.7 296.8,59.6 296.9,59.8 297,51.4 297.1,57 297.3,63.3 297.4,59.3 297.5,60.5 297.6,61.6 297.8,61 297.9,58.8 298,58.2 298.1,58.9 298.3,60.6 298.4,55.4 298.5,58.5 298.6,61.7 298.8,61.9 298.9,61.5 299,59.3 299.1,59.7 299.3,57 299.4,60.4 299.5,64 299.6,63.2 299.8,57.5 299.9,61.3 300,59.1 300.1,61.4 300.3,58.8 300.4,58.6 300.5,59.9 300.6,62.1 300.8,54.8 300.9,58.6 301,60.7 301.1,62.6 301.3,54.3 301.4,59.7 301.5,57.4 301.6,57.9 301.8,56.3 301.9,55.2 302,55.2 302.1,58.7 302.3,54 302.4,49.2 302.5,55 302.6,52.3 302.8,49.7 302.9,54.1 303,49.7 303.1,53.2 303.3,48.6 303.4,51.7 303.5,46.4 303.6,48.3 303.8,46.9 303.9,47.3 304,44.7 304.1,46.5 304.3,43.6 304.4,43.1 304.5,40.3 304.6,43.9 304.8,44.2 304.9,42.5 305,47 305.1,44.5 305.3,43.8 305.4,43.4 305.5,45.1 305.6,48.4 305.8,43.9 305.9,46.5 306,48.7 306.1,48.1 306.3,48.3 306.4,48.5 306.5,49.9 306.6,45.1 306.8,53.3 306.9,53.5 307,51.3 307.1,52.6 307.3,49.7 307.4,53.7 307.5,49.7 307.6,58.6 307.8,48.5 307.9,47.6 308,48.5 308.1,49.1 308.3,51.9 308.4,51.4 308.5,48.9 308.6,53.4 308.8,51.4 308.9,48.2 309,48.4 309.1,50.3 309.3,53.9 309.4,53.2 309.5,52.2 309.6,53.5 309.8,59.4 309.9,63 310,54.2 310.1,52.3 310.3,48.7 310.4,65.7 310.5,55.3 310.6,57.9 310.8,57.4 310.9,63.1 311,51.9 311.1,61.2 311.3,58.5 311.4,62.2 311.5,58.2 311.6,56.9 311.8,58.4 311.9,55.2 312,58.1 312.1,57.6 312.3,65.9 312.4,57.7 312.5,65.1 312.6,60.8 312.8,60.2 312.9,64.4 313,58.5 313.1,61.4 313.3,59.7 313.4,64.2 313.5,60.2 313.6,61.7 313.8,62 313.9,60 314,55.5 314.1,63 314.3,62.5 314.4,62.6 314.5,54.9 314.6,58.4 314.8,57.3 314.9,56.6 315,60.7 315.1,58.8 315.3,58.1 315.4,56.2 315.5,59.7 315.6,54.2 315.8,57.8 315.9,59.4 316,55.9 316.1,56 316.3,62.7 316.4,52.3 316.5,58.8 316.6,55.8 316.8,54.8 316.9,58.4 317,57.7 317.1,58.3 317.3,56.3 317.4,53.8 317.5,58.6 317.6,53.3 317.8,51.5 317.9,58.8 318,56.6 318.1,57.3 318.3,55.1 318.4,51.8 318.5,52.4 318.6,57.3 318.8,55 318.9,61.5 319,60.5 319.1,62.1 319.3,54.7 319.4,57.5 319.5,67.6 319.6,56.7 319.8,51.7 319.9,59.8 320,55.6 320.1,61.6 320.3,59.6 320.4,58.1 320.5,58.3 320.6,63.7 320.8,63.8 320.9,59.6 321,60 321.1,62.5 321.3,61.5 321.4,61.5 321.5,56.6 321.6,61.2 321.8,58.2 321.9,69.2 322,62.2 322.1,64.2 322.3,62.3 322.4,59.7 322.5,65.9 322.6,68.6 322.8,65.5 322.9,65.6 323,60.6 323.1,59.3 323.3,60.9 323.4,60.2 323.5,59 323.6,67.5 323.8,59.5 323.9,61.9 324,61.7 324.1,61.2 324.3,61.4 324.4,55.6 324.5,63.8 324.6,62.9 324.8,63.9 324.9,67 325,65.1 325.1,65.1 325.3,60.2 325.4,62.6 325.5,62.8 325.6,60.7 325.8,58.7 325.9,60.9 326,62.2 326.1,58.1 326.3,63.2 326.4,64.8 326.5,62.8 326.6,67.6 326.8,64.5 326.9,63.7 327,65.5 327.1,64.9 327.3,67.2 327.4,62.3 327.5,66.1 327.6,61.4 327.8,64.1 327.9,61.8 328,67.1 328.1,65.2 328.3,63.6 328.4,67.1 328.5,63.3 328.6,67.2 328.8,68.1 328.9,64.1 329,65.5 329.1,67 329.3,65.5 329.4,65 329.5,64 329.6,65.1 329.8,65.5 329.9,67.1 330,67.8 330.1,64 330.3,68.5 330.4,69.1 330.5,65.4 330.6,61.9 330.8,63.6 330.9,64.7 331,65.1 331.1,68.7 331.3,69.6 331.4,67.1 331.5,66 331.6,60.4 331.8,62.1 331.9,60.4 332,59.2 332.1,60.4 332.3,59.9 332.4,59.7 332.5,63.5 332.6,63.3 332.8,54.4 332.9,61.5 333,56.9 333.1,62 333.3,53.2 333.4,58.1 333.5,59.7 333.6,52.1 333.8,54.9 333.9,50.7 334,59.2 334.1,56.3 334.3,53.7 334.4,52.9 334.5,54.2 334.6,51.3 334.8,52.9 334.9,53 335,49.5 335.1,52.3 335.3,47.9 335.4,50.9 335.5,43.2 335.6,45.2 335.8,46.4 335.9,43.4 336,46.9 336.1,47.2 336.3,45.9 336.4,47 336.5,45.2 336.6,45.6 336.8,50.1 336.9,48.4 337,49.7 337.1,47.4 337.3,48.9 337.4,46 337.5,48.1 337.6,46.9 337.8,46.3 337.9,45.1 338,46.8 338.1,43.4 338.3,42.8 338.4,47.6 338.5,48.6 338.6,50.8 338.8,41.8 338.9,48.6 339,50.2 339.1,53.8 339.3,50.6 339.4,50.1 339.5,50.4 339.6,49.7 339.8,50.8 339.9,55 340,51.1 340.1,47.6 340.3,53.5 340.4,48.1 340.5,46.7 340.6,53.5 340.8,51.1 340.9,50.1 341,46.9 341.1,48 341.3,50.4 341.4,45.9 341.5,44.4 341.6,44.8 341.8,44.4 341.9,38.3 342,43.5 342.1,43.6 342.3,40.2 342.4,37.4 342.5,39.4 342.6,40.8 342.8,38.9 342.9,37 343,38.2 343.1,40.3 343.3,50.7 343.4,44.1 343.5,39.2 343.6,44.6 343.8,41.6 343.9,38.7 344,41.8 344.1,42.6 344.3,31.9 344.4,27.6 344.5,36.6 344.6,34 344.8,36.5 344.9,37.8 345,34.9 345.1,30.5 345.3,28 345.4,30.5 345.5,25.6 345.6,29.3 345.8,33.9 345.9,31.5 346,35.7 346.1,36.6 346.3,39.7 346.4,36.3 346.5,40.8 346.6,37.1 346.8,46.6 346.9,46.9 347,49.2 347.1,48.4 347.3,46.7 347.4,46.2 347.5,45.8 347.6,48.5 347.8,53.2 347.9,47.8 348,55.3 348.1,48.6 348.3,47.3 348.4,54.4 348.5,55.1 348.6,52.5 348.8,55 348.9,57.8 349,52.2 349.1,54.4 349.3,51 349.4,52.5 349.5,46.3 349.6,57.4 349.8,55.7 349.9,48.8 350,53.5 350.1,54 350.3,46.3 350.4,48.3 350.5,50.7 350.6,44.2 350.8,54.2 350.9,46.6 351,49.4 351.1,40.4 351.3,44.4 351.4,46.6 351.5,48.9 351.6,50.1 351.8,44.5 351.9,46.8 352,44.9 352.1,40 352.3,41.1 352.4,47.6 352.5,39.6 352.6,36.6 352.8,41.3 352.9,41.3 353,41.5 353.1,39.3 353.3,43.9 353.4,39.3 353.5,38.9 353.6,45.2 353.8,41.7 353.9,33.2 354,31.9 354.1,35.7 354.3,35.2 354.4,37.6 354.5,33.4 354.6,36.6 354.8,38.7 354.9,36.2 355,35 355.1,35.1 355.3,35.9 355.4,34.2 355.5,32.7 355.6,35.7 355.8,34.9 355.9,32 356,32.8 356.1,34.2 356.3,31.6 356.4,33.4 356.5,34 356.6,35.7 356.8,36.6 356.9,35.4 357,31.3 357.1,33.1 357.3,32.8 357.4,30.2 357.5,32.1 357.6,33 357.8,29 357.9,33.3 358,33.1 358.1,32.2 358.3,31.1 358.4,30.8 358.5,28.8 358.6,29.2 358.8,29.4 358.9,28 359,27.8 359.1,31.1 359.3,28.1 359.4,30.8 359.5,29.9 359.6,28.3 359.8,29.4 359.9,30.6 360,26.9 360.1,34.1 360.3,30.1 360.4,32.3 360.5,30.9 360.6,33.4 360.8,33.5 360.9,30.4 361,33.7 361.1,33.3 361.3,31.6 361.4,36.4 361.5,35.8 361.6,31.6 361.8,36.8 361.9,32.2 362,36.4 362.1,39.8 362.3,34.9 362.4,36.1 362.5,39.4 362.6,40.4 362.8,35.5 362.9,35.5 363,35.5 363.1,39.7 363.3,38.8 363.4,38.9 363.5,40.4 363.6,42 363.8,33 363.9,42.6 364,38.8 364.1,39.4 364.3,40.8 364.4,41.8 364.5,39.7 364.6,42.9 364.8,37.8 364.9,37.9 365,40.9 365.1,42.4 365.3,35.8 365.4,42.3 365.5,38.1 365.6,41.5 365.8,40.5 365.9,39.4 366,41.9 366.1,40.5 366.3,44.8 366.4,40.1 366.5,43.5 366.6,43.7 366.8,44.3 366.9,42.9 367,44.7 367.1,46.9 367.3,44.7 367.4,43.1 367.5,48.5 367.6,42 367.8,43.1 367.9,45.3 368,42.9 368.1,41.9 368.3,42.5 368.4,47.8 368.5,49.3 368.6,45.1 368.8,46 368.9,50.1 369,45.1 369.1,45.1 369.3,43.4 369.4,49.9 369.5,45.9 369.6,45.4 369.8,50.7 369.9,53.2 370,51.2 370.1,44.5 370.3,45.1 370.4,46.9 370.5,49.9 370.6,51.4 370.8,46.1 370.9,57 371,52 371.1,56.8 371.3,54.5 371.4,52.5 371.5,54.2 371.6,54.5 371.8,51 371.9,47.7 372,51.2 372.1,54.1 372.3,55.6 372.4,49.9 372.5,52.8 372.6,52.4 372.8,53.1 372.9,52.7 373,58.1 373.1,54.8 373.3,58.3 373.4,54.9 373.5,54.7 373.6,54.8 373.8,59.8 373.9,54.8 374,54.4 374.1,57.9 374.3,53.5 374.4,56.6 374.5,60.1 374.6,58.2 374.8,57 374.9,60.6 375,53.6 375.1,60.8 375.3,54.9 375.4,55.7 375.5,61.1 375.6,55.5 375.8,57.4 375.9,54.3 376,57.6 376.1,57.5 376.3,57.4 376.4,59.7 376.5,57.4 376.6,59.3 376.8,57.6 376.9,57.8 377,53.4 377.1,58.6 377.3,59.7 377.4,59.4 377.5,59.8 377.6,61.9 377.8,67.5 377.9,63.3 378,57.9 378.1,59.4 378.3,61.8 378.4,63.8 378.5,61.4 378.6,63.5 378.8,61 378.9,60 379,62.6 379.1,66.6 379.3,60.2 379.4,61.4 379.5,65.9 379.6,65.2 379.8,64.3 379.9,68.1 380,63.5 380.1,64.9 380.3,65.1 380.4,66.4 380.5,71.9 380.6,61.3 380.8,66.9 380.9,64.9 381,60.1 381.1,63.6 381.3,63.4 381.4,63.3 381.5,61 381.6,65.7 381.8,63.6 381.9,62.5 382,63.6 382.1,66.6 382.3,65 382.4,69.1 382.5,68.8 382.6,67.7 382.8,69.8 382.9,73.7 383,64.2 383.1,70.7 383.3,66.7 383.4,68.4 383.5,68.1 383.6,64.6 383.8,70.1 383.9,65.9 384,66.9 384.1,70.5 384.3,70.6 384.4,72.1 384.5,70.2 384.6,68.9 384.8,70.1 384.9,69.8 385,71.1 385.1,72.2 385.3,71 385.4,69.7 385.5,67.8 385.6,70.8 385.8,68.1 385.9,67.8 386,70.4 386.1,69.7 386.3,68.5 386.4,72.3 386.5,66.7 386.6,67.4 386.8,70.4 386.9,71.4 387,72 387.1,72.1 387.3,68.1 387.4,75.2 387.5,67.5 387.6,72.3 387.8,67.3 387.9,71.7 388,69.2 388.1,67.5 388.3,75.1 388.4,62.6 388.5,71.8 388.6,66.4 388.8,68.1 388.9,71.3 389,72 389.1,75.6 389.3,68.6 389.4,67.1 389.5,65.6 389.6,67.4 389.8,64.5 389.9,68.1 390,72.6 390.1,65.8 390.3,68.9 390.4,70.4 390.5,67.5 390.6,61.7 390.8,66.1 390.9,69.4 391,65.6 391.1,64.3 391.3,62 391.4,63.3 391.5,59.4 391.6,57.4 391.8,67.3 391.9,55.9 392,55.9 392.1,56.6 392.3,54.7 392.4,64 392.5,57 392.6,66.9 392.8,60.3 392.9,55.7 393,57.1 393.1,57.4 393.3,56.4 393.4,59.3 393.5,55.2 393.6,58.6 393.8,53.2 393.9,53.6 394,55 394.1,50.7 394.3,48.7 394.4,53.9 394.5,56.5 394.6,49.5 394.8,51 394.9,55.4 395,49.2 395.1,48.2 395.3,45.2 395.4,49.2 395.5,46.7 395.6,41.3 395.8,46.3 395.9,44.4 396,44.7 396.1,41.2 396.3,42.6 396.4,42.5 396.5,38.7 396.6,38.6 396.8,39.4 396.9,35.3 397,34.8 397.1,31.4 397.3,37.7 397.4,34.1 397.5,36.2 397.6,30.5 397.8,28 397.9,30.5 398,40.1 398.1,37.3 398.3,39.4 398.4,39.9 398.5,41.2 398.6,35.3 398.8,44.1 398.9,37.4 399,35 399.1,35.8 399.3,41.5 399.4,38.5 399.5,38 399.6,39.3 399.8,44 399.9,42.6 400,47.2 400.1,41.2 400.3,45.1 400.4,43.3 400.5,48.3 400.6,41.3 400.8,49.6 400.9,55.2 401,46.6 401.1,48.7 401.3,44.8 401.4,49.5 401.5,49.3 401.6,49.8 401.8,54.5 401.9,52.6 402,55.2 402.1,58.9 402.3,54.1 402.4,60.4 402.5,53.5 402.6,52.2 402.8,55.8 402.9,54.7 403,57.6 403.1,63.5 403.3,55.6 403.4,54.2 403.5,60.4 403.6,63.6 403.8,54.7 403.9,57.7 404,58.2 404.1,52.6 404.3,59.2 404.4,58.9 404.5,57.2 404.6,58.5 404.8,52.8 404.9,56.2 405,57.1 405.1,53.9 405.3,54.2 405.4,57.5 405.5,60.9 405.6,60 405.8,59.3 405.9,57.3 406,56.2 406.1,53.7 406.3,56.1 406.4,53.1 406.5,55.1 406.6,56.4 406.8,57.7 406.9,57.6 407,59.3 407.1,59.2 407.3,55.4 407.4,54.7 407.5,59.4 407.6,55.8 407.8,57.4 407.9,56.5 408,60.1 408.1,59.6 408.3,60.7 408.4,62.2 408.5,59.7 408.6,61.8 408.8,62.3 408.9,63.1 409,54.5 409.1,58.3 409.3,62.9 409.4,63.4 409.5,55.1 409.6,58.5 409.8,58.7 409.9,57.3 410,60.6 410.1,60.7 410.3,61.1 410.4,63.5 410.5,62.4 410.6,60.5 410.8,59.5 410.9,59.9 411,55.5 411.1,53.3 411.3,54.4 411.4,57.2 411.5,54.5 411.6,54.3 411.8,53.2 411.9,52.7 412,51.9 412.1,51.8 412.3,50.8 412.4,52.5 412.5,57.5 412.6,53.2 412.8,57.4 412.9,53.7 413,52.3 413.1,54.2 413.3,57.8 413.4,57.6 413.5,53.6 413.6,56.5 413.8,59.1 413.9,57.7 414,55.1 414.1,53.6 414.3,54.7 414.4,52.5 414.5,52.7 414.6,57.3 414.8,56.6 414.9,63 415,59.1 415.1,63.8 415.3,60.5 415.4,61.8 415.5,63.7 415.6,59.7 415.8,57.4 415.9,58.1 416,60 416.1,67.7 416.3,59 416.4,56.2 416.5,60 416.6,61.5 416.8,57.9 416.9,60.4 417,55.1 417.1,58 417.3,61.7 417.4,56.4 417.5,54.5 417.6,53.2 417.8,53.6 417.9,59.9 418,60.7 418.1,62.7 418.3,60.3 418.4,61.4 418.5,54.2 418.6,60.7 418.8,62.1 418.9,60.5 419,60.8 419.1,58.5 419.3,57.7 419.4,60.7 419.5,60.1 419.6,60 419.8,60.2 419.9,59.2 420,58.8 420.1,55.1 420.3,62.2 420.4,61.6 420.5,58.3 420.6,62.3 420.8,56.9 420.9,55.5 421,54.7 421.1,55.2 421.3,56.7 421.4,56.7 421.5,54.6 421.6,53.1 421.8,54.1 421.9,52 422,49.5 422.1,51.3 422.3,52.7 422.4,51.6 422.5,54.5 422.6,50.6 422.8,53.8 422.9,50.8 423,50.9 423.1,53.1 423.3,47.9 423.4,48.3 423.5,52.5 423.6,52.6 423.8,51.6 423.9,49 424,44.9 424.1,48.2 424.3,46.4 424.4,51.3 424.5,47.7 424.6,45.2 424.8,50.9 424.9,47.6 425,49.8 425.1,49.6 425.3,50.1 425.4,51.1 425.5,45.6 425.6,43.7 425.8,46.5 425.9,43.8 426,43.5 426.1,43.5 426.3,47.7 426.4,46.3 426.5,42.5 426.6,46.6 426.8,47 426.9,44.5 427,42.7 427.1,43.3 427.3,42.2 427.4,41 427.5,41.3 427.6,41 427.8,41.6 427.9,43.5 428,44.4 428.1,42.2 428.3,46.1 428.4,42.1 428.5,43.2 428.6,44.9 428.8,44.1 428.9,47 429,40.8 429.1,49.5 429.3,43.6 429.4,47 429.5,48.8 429.6,43 429.8,46.5 429.9,48.5 430,43.1 430.1,44.1 430.3,47.7 430.4,43.3 430.5,46.7 430.6,45.2 430.8,47.5 430.9,44.1 431,40.6 431.1,44.6 431.3,47 431.4,46.7 431.5,47.5 431.6,44.2 431.8,41.3 431.9,48.2 432,47.5 432.1,49.1 432.3,44.6 432.4,49.1 432.5,46.3 432.6,55.3 432.8,44.1 432.9,52.7 433,45.8 433.1,49.9 433.3,50.3 433.4,52.6 433.5,53.4 433.6,51.3 433.8,48.4 433.9,51.8 434,51.9 434.1,51 434.3,52.6 434.4,56.2 434.5,54.4 434.6,52.7 434.8,56.8 434.9,57.6 435,56.6 435.1,54.4 435.3,54.1 435.4,55.1 435.5,53.6 435.6,49.8 435.8,55 435.9,50.8 436,50.3 436.1,51 436.3,53.5 436.4,50.4 436.5,52.8 436.6,51.7 436.8,52.3 436.9,48.8 437,47.6 437.1,48 437.3,52.4 437.4,47.8 437.5,52.3 437.6,49.4 437.8,47.6 437.9,48.5 438,51.7 438.1,49.4 438.3,48.8 438.4,51.7 438.5,49.2 438.6,49.4 438.8,51.7 438.9,51.6 439,51 439.1,50 439.3,50 439.4,54.9 439.5,49.4 439.6,47.9 439.8,51.3 439.9,50.7 440,52.5 440.1,50.4 440.3,51.8 440.4,50.6 440.5,49.9 440.6,50.7 440.8,48.9 440.9,54.1 441,52.4 441.1,51.3 441.3,52.5 441.4,49.7 441.5,51.3 441.6,52.1 441.8,54 441.9,52.7 442,53 442.1,56.9 442.3,52.5 442.4,48.1 442.5,52.9 442.6,52.1 442.8,55.1 442.9,46.4 443,56.2 443.1,48.6 443.3,56.9 443.4,55.5 443.5,51.1 443.6,52.3 443.8,53.5 443.9,56.2 444,52.7 444.1,55.5 444.3,59.9 444.4,58.7 444.5,58.7 444.6,61.8 444.8,59 444.9,59.2 445,61.3 445.1,63.1 445.3,59.4 445.4,61.9 445.5,62.6 445.6,62.9 445.8,63 445.9,56.8 446,64.1 446.1,58.2 446.3,54.5 446.4,60 446.5,52.4 446.6,49 446.8,53.2 446.9,44.9 447,47.9 447.1,49.6 447.3,50.7 447.4,51.6 447.5,49.2 447.6,48.9 447.8,43.4 447.9,47.9 448,44.2 448.1,44.2 448.3,42 448.4,50.2 448.5,49.6 448.6,33.7 448.8,40.9 448.9,37.5 449,41.1 449.1,45.9 449.3,40.8 449.4,43.3 449.5,38 449.6,44.5 449.8,45.6 449.9,40.3 450,30.9 450.1,35.6 450.3,36.8 450.4,46.8 450.5,42.2 450.6,38.3 450.8,46.8 450.9,42.3 451,37.8 451.1,36.9 451.3,50.6 451.4,51.1 451.5,44.3 451.6,44.4 451.8,48.4 451.9,60 452,52.6 452.1,48.9 452.3,49.4 452.4,55.2 452.5,57.3 452.6,48.9 452.8,51.8 452.9,54.3 453,53.8 453.1,54.5 453.3,53 453.4,60.8 453.5,50.6 453.6,57 453.8,50.8 453.9,61.9 454,50.8 454.1,51.7 454.3,57.3 454.4,48.8 454.5,56.5 454.6,51.7 454.8,52.1 454.9,49.3 455,55.8 455.1,52.2 455.3,55.7 455.4,55.4 455.5,57.1 455.6,56.6 455.8,61.3 455.9,54.3 456,58.1 456.1,61.3 456.3,60.8 456.4,61.8 456.5,56.1 456.6,63.9 456.8,57.7 456.9,59.5 457,57.4 457.1,61.6 457.3,61.9 457.4,54.7 457.5,53.2 457.6,62.5 457.8,59 457.9,62.3 458,60.5 458.1,60.3 458.3,59.7 458.4,56.8 458.5,59 458.6,61.7 458.8,62.2 458.9,64.2 459,59.9 459.1,63.3 459.3,61.1 459.4,54.2 459.5,63.5 459.6,60.4 459.8,61.6 459.9,62.1 460,59.5 460.1,64.1 460.3,60.5 460.4,56.7 460.5,66 460.6,71 460.8,67.1 460.9,67.3 461,66 461.1,73 461.3,71.2 461.4,64.6 461.5,60.8 461.6,63.3 461.8,66.4 461.9,62.2 462,64.9 462.1,66.3 462.3,62.3 462.4,64.8 462.5,67.9 462.6,68.3 462.8,64.7 462.9,66.1 463,66.3 463.1,67.1 463.3,67.7 463.4,65.5 463.5,70.3 463.6,67.7 463.8,65.3 463.9,68 464,69.5 464.1,69.2 464.3,72.9 464.4,65.1 464.5,65.7 464.6,64.4 464.8,64 464.9,69.3 465,67 465.1,66.7 465.3,69.3 465.4,65.9 465.5,64.1 465.6,66.7 465.8,64.6 465.9,62.8 466,69.7 466.1,66.2 466.3,67.1 466.4,69.2 466.5,65.6 466.6,66.8 466.8,64.2 466.9,61.3 467,66.5 467.1,67.9 467.3,63.9 467.4,64.7 467.5,61.9 467.6,63.5 467.8,70.3 467.9,65 468,65.1 468.1,66.9 468.3,65.3 468.4,64.7 468.5,63.2 468.6,67.8 468.8,66.2 468.9,66.8 469,69.4 469.1,73.1 469.3,67.2 469.4,65.3 469.5,66 469.6,72.8 469.8,67.7 469.9,72.2 470,75.5 470.1,71.1 470.3,70.9 470.4,72.9 470.5,76.4 470.6,71 470.8,73.1 470.9,72.3 471,72.8 471.1,70.5 471.3,77.1 471.4,74.4 471.5,73.4 471.6,74 471.8,72.6 471.9,73.9 472,68.3 472.1,68.2 472.3,67.2 472.4,67.5 472.5,62 472.6,73.5 472.8,62.3 472.9,63.8 473,67.8 473.1,62 473.3,64.3 473.4,64.5 473.5,54.1 473.6,56.8 473.8,59.1 473.9,53.9 474,61 474.1,60.8 474.3,58.4 474.4,53.6 474.5,52.6 474.6,55.2 474.8,47 474.9,49 475,53.6 475.1,50.5 475.3,45.2 475.4,50.3 475.5,51 475.6,46.9 475.8,42.3 475.9,44.5 476,47.7 476.1,46.6 476.3,43.6 476.4,46.1 476.5,46.6 476.6,48.3 476.8,44.2 476.9,45.5 477,49.9 477.1,43.9 477.3,42.2 477.4,44.1 477.5,45.7 477.6,44.9 477.8,46.1 477.9,46.3 478,44.5 478.1,49.2 478.3,46.2 478.4,50.5 478.5,46.2 478.6,48.1 478.8,51.1 478.9,48.2 479,50.7 479.1,51.8 479.3,46.9 479.4,47.4 479.5,49.5 479.6,46.6 479.8,49.5 479.9,50.6 480,49.6 480.1,48.8 480.3,51.2 480.4,49.5 480.5,50.1 480.6,48.3 480.8,54.3 480.9,53.7 481,52 481.1,50.5 481.3,52.4 481.4,52.2 481.5,50.8 481.6,54.6 481.8,56 481.9,45 482,53.4 482.1,53 482.3,54 482.4,51.7 482.5,55.3 482.6,53.9 482.8,51.4 482.9,54.7 483,60.1 483.1,55.1 483.3,54.3 483.4,52.5 483.5,58.4 483.6,56.7 483.8,55 483.9,59.8 484,56.6 484.1,58.3 484.3,55.6 484.4,60.8 484.5,54.2 484.6,59.4 484.8,56.7 484.9,55.4 485,60.5 485.1,58 485.3,59.4 485.4,62.3 485.5,63.4 485.6,64.8 485.8,61.3 485.9,62.2 486,58.5 486.1,62.7 486.3,60.5 486.4,62.4 486.5,62.6 486.6,62.9 486.8,62.7 486.9,62.9 487,59.9 487.1,57.3 487.3,63.6 487.4,59.8 487.5,61.3 487.6,58.8 487.8,59.1 487.9,58.8 488,59 488.1,60.4 488.3,58.7 488.4,58.5 488.5,58.5 488.6,57.1 488.8,56.7 488.9,60.7 489,57.9 489.1,59.4 489.3,57.9 489.4,54.9 489.5,53.1 489.6,56.4 489.8,53.2 489.9,54.8 490,53.6 490.1,59.4 490.3,56.6 490.4,55.4 490.5,54.4 490.6,52.8 490.8,52.6 490.9,53.7 491,57 491.1,54.8 491.3,52.2 491.4,53 491.5,53.9 491.6,48.5 491.8,51.2 491.9,48.8 492,48.2 492.1,51.9 492.3,50.9 492.4,51.3 492.5,47.2 492.6,49.8 492.8,51.9 492.9,44.5 493,50 493.1,48.9 493.3,52.7 493.4,48 493.5,47.1 493.6,49.8 493.8,47.2 493.9,50.4 494,50.4 494.1,49.7 494.3,49.5 494.4,47.8 494.5,49.6 494.6,47.6 494.8,48.7 494.9,44.8 495,46.5 495.1,40.5 495.3,41.9 495.4,52.4 495.5,49.1 495.6,44.5 495.8,46.4 495.9,46.4 496,53.8 496.1,49.1 496.3,47.1 496.4,52.4 496.5,52.3 496.6,54.3 496.8,52.8 496.9,53.9 497,53.4 497.1,55.4 497.3,52.9 497.4,53.4 497.5,56.6 497.6,58.4 497.8,62.9 497.9,58.8 498,59 498.1,61.4 498.3,56.3 498.4,59.1 498.5,63.8 498.6,60.6 498.8,61.2 498.9,60.1 499,61.8 499.1,64.5 499.3,59 499.4,61.4 499.5,59 499.6,60.3 499.8,59.6 499.9,62.4 500,60.3 500.1,54.1 500.3,58 500.4,58.3 500.5,56 500.6,54.7 500.8,48.2 500.9,53.5 501,54.5 501.1,56.5 501.3,50.8 501.4,47.5 501.5,50.3 501.6,51.3 501.8,49.7 501.9,43.5 502,48.2 502.1,47.2 502.3,43.1 502.4,46.6 502.5,43.1 502.6,45.4 502.8,49.1 502.9,49 503,47.2 503.1,45.7 503.3,38.2 503.4,39.9 503.5,42.4 503.6,47.3 503.8,41.6 503.9,36.7 504,37.4 504.1,38.5 504.3,42.9 504.4,40.9 504.5,38.2 504.6,35.7 504.8,33.1 504.9,34.7 505,34.6 505.1,34.6 505.3,36.5 505.4,37.2 505.5,35.4 505.6,42.4 505.8,36.2 505.9,35.9 506,32.7 506.1,38.5 506.3,47.2 506.4,38.1 506.5,42.3 506.6,44.8 506.8,47.4 506.9,46.3 507,38.2 507.1,44.1 507.3,47.2 507.4,45 507.5,41.6 507.6,42.2 507.8,42.1 507.9,38.1 508,42.7 508.1,48.7 508.3,44.6 508.4,44.3 508.5,40.7 508.6,39 508.8,42 508.9,44.2 509,39.8 509.1,43.4 509.3,43.7 509.4,51.4 509.5,44.5 509.6,50.2 509.8,46.9 509.9,42.3 510,47.8 510.1,49.7 510.3,46.3 510.4,49.9 510.5,55.9 510.6,46.8 510.8,50.3 510.9,53.5 511,49.5 511.1,50.4 511.3,56.6 511.4,53 511.5,50.1 511.6,52.3 511.8,52.6 511.9,52.8 512,53.7 512.1,48.4 512.3,55 512.4,48.2 512.5,52.6 512.6,53.3 512.8,49.6 512.9,50 513,52.2 513.1,53 513.3,51.5 513.4,47.3 513.5,49.9 513.6,53.4 513.8,48.7 513.9,49.8 514,54.3 514.1,52.3 514.3,53.9 514.4,54.2 514.5,54.3 514.6,56.6 514.8,59.7 514.9,54.7 515,56.8 515.1,54.8 515.3,58.7 515.4,56.6 515.5,62.6 515.6,57.8 515.8,57.3 515.9,60.6 516,55.5 516.1,54.6 516.3,56.6 516.4,54.5 516.5,51.3 516.6,53.7 516.8,54.9 516.9,57.9 517,54.3 517.1,51.3 517.3,51.5 517.4,58.2 517.5,55.1 517.6,57.6 517.8,61.5 517.9,51.9 518,53.7 518.1,49.3 518.3,52.3 518.4,52 518.5,57.5 518.6,52.7 518.8,51.3 518.9,60.5 519,48.2 519.1,57.4 519.3,55.1 519.4,52 519.5,51.5 519.6,53.2 519.8,53.7 519.9,54.6 520,54.8 520.1,54.9 520.3,53.2 520.4,56.3 520.5,54.4 520.6,48.5 520.8,51.9 520.9,59.3 521,55.6 521.1,60.7 521.3,51.3 521.4,49.4 521.5,54 521.6,50.6 521.8,50.6 521.9,46.9 522,49.9 522.1,52.2 522.3,49.5 522.4,49.5 522.5,48.7 522.6,51.9 522.8,51.2 522.9,46.3 523,44.3 523.1,47.1 523.3,46.9 523.4,47.6 523.5,44.2 523.6,50.1 523.8,50.5 523.9,45 524,48.1 524.1,46.7 524.3,47.6 524.4,54 524.5,50.2 524.6,50.3 524.8,53.9 524.9,45.1 525,56.7 525.1,58.3 525.3,53.2 525.4,46.4 525.5,52.6 525.6,58.9 525.8,52.6 525.9,49.2 526,54.3 526.1,48.3 526.3,54 526.4,53.2 526.5,52.6 526.6,57.7 526.8,55.6 526.9,59.2 527,55.5 527.1,53.8 527.3,54.4 527.4,54.3 527.5,51 527.6,56.9 527.8,56.7 527.9,57.4 528,54.8 528.1,58 528.3,55.1 528.4,57.2 528.5,57.2 528.6,56.6 528.8,58.6 528.9,61.5 529,62.2 529.1,57.5 529.3,61.8 529.4,54.5 529.5,60.5 529.6,58.8 529.8,60.2 529.9,62.3 530,63.5 530.1,61.9 530.3,59.7 530.4,59.8 530.5,62.8 530.6,61 530.8,60.1 530.9,61.4 531,58.4 531.1,62.7 531.3,58.9 531.4,60.7 531.5,64.2 531.6,64.7 531.8,55.1 531.9,60.6 532,56.9 532.1,57.7 532.3,60 532.4,61.6 532.5,61.5 532.6,58.5 532.8,60.4 532.9,67.8 533,62.7 533.1,56.6 533.3,63 533.4,58.9 533.5,61.7 533.6,67.2 533.8,63.4 533.9,59.5 534,69.3 534.1,62.3 534.3,64.1 534.4,69.8 534.5,70.1 534.6,69.9 534.8,64.8 534.9,63.3 535,65.6 535.1,69.1 535.3,70.4 535.4,71.1 535.5,69.2 535.6,63 535.8,66.1 535.9,69.9 536,61 536.1,61.9 536.3,65.3 536.4,65.1 536.5,64.7 536.6,68.7 536.8,66.7 536.9,66.9 537,66.3 537.1,69.9 537.3,70.4 537.4,71.8 537.5,67.4 537.6,68.3 537.8,63.9 537.9,65.9 538,65.3 538.1,74.9 538.3,73.5 538.4,64.5 538.5,74 538.6,68.3 538.8,67.9 538.9,70.9 539,64.4 539.1,64.3 539.3,73.3 539.4,69.6 539.5,67.2 539.6,69.8 539.8,68.6 539.9,63.8 540,68.4 540.1,66.8 540.3,67.1 540.4,65.1 540.5,64.4 540.6,72.8 540.8,67.8 540.9,68.8 541,73.5 541.1,69.6 541.3,70.5 541.4,65.7 541.5,71.3 541.6,73.5 541.8,70.1 541.9,67.3 542,65.6 542.1,70.3 542.3,66 542.4,69.2 542.5,68.5 542.6,67.1 542.8,72.6 542.9,64.4 543,69.2 543.1,69.1 543.3,63.5 543.4,63.1 543.5,68.2 543.6,62.8 543.8,62.4 543.9,67 544,65.1 544.1,68.9 544.3,63.9 544.4,61.3 544.5,64.8 544.6,62.5 544.8,64.2 544.9,60.9 545,59.3 545.1,60 545.3,60.1 545.4,61.2 545.5,63.4 545.6,56.7 545.8,54.2 545.9,53.5 546,53 546.1,54.9 546.3,51.2 546.4,52.3 546.5,53.6 546.6,51.7 546.8,47 546.9,53.6 547,53.3 547.1,55.3 547.3,57.7 547.4,53.4 547.5,49.5 547.6,52.6 547.8,55 547.9,56.6 548,49.6 548.1,57.6 548.3,56.1 548.4,56.6 548.5,56.9 548.6,53.4 548.8,58 548.9,57.1 549,54.3 549.1,58.2 549.3,56.8 549.4,58.9 549.5,56.9 549.6,54.6 549.8,56.9 549.9,57.1 550,58.7 550.1,62.1 550.3,59 550.4,62.4 550.5,59.3 550.6,66 550.8,62.2 550.9,62.7 551,61.7 551.1,67.9 551.3,60.3 551.4,67.7 551.5,66.3 551.6,62.4 551.8,66.2 551.9,63.4 552,65.6 552.1,65 552.3,68.3 552.4,68.6 552.5,68.4 552.6,64.6 552.8,67 552.9,65.3 553,68.1 553.1,66.2 553.3,66.7 553.4,62.9 553.5,65.9 553.6,65.5 553.8,64.5 553.9,66.4 554,63.7 554.1,64.3 554.3,64.9 554.4,62.8 554.5,63.7 554.6,61.7 554.8,60.3 554.9,60.6 555,61.5 555.1,61.7 555.3,64.3 555.4,63.6 555.5,59 555.6,64.2 555.8,62.8 555.9,59 556,58.2 556.1,63.3 556.3,58.8 556.4,63 556.5,67.5 556.6,56.4 556.8,60.4 556.9,63.2 557,58.3 557.1,54.6 557.3,63.3 557.4,62.5 557.5,63.1 557.6,55.6 557.8,55.5 557.9,58.1 558,56.7 558.1,59.7 558.3,62.2 558.4,58.7 558.5,58 558.6,62.1 558.8,56.6 558.9,49.6 559,56 559.1,60.7 559.3,59.3 559.4,58.3 559.5,54.6 559.6,55.8 559.8,54.2 559.9,54.5 560,56.9 560.1,53.3 560.3,59.5 560.4,54.2 560.5,57.8 560.6,59.1 560.8,49.9 560.9,53.1 561,53.9 561.1,48.9 561.3,55 561.4,54.5 561.5,56.1 561.6,51.9 561.8,54.3 561.9,49.9 562,52.5 562.1,46.7 562.3,51.8 562.4,50.6 562.5,52.8 562.6,57.4 562.8,50.4 562.9,51.1 563,48.6 563.1,51.2 563.3,48.7 563.4,49 563.5,45.3 563.6,49.6 563.8,54.7 563.9,50.3 564,48.8 564.1,52.6 564.3,54.4 564.4,51.4 564.5,52.4 564.6,54.1 564.8,48.6 564.9,54.8 565,45.7 565.1,51.4 565.3,47.6 565.4,52.2 565.5,51.9 565.6,52 565.8,50.9 565.9,52.4 566,49.9 566.1,51.7 566.3,49.7 566.4,50.7 566.5,52.7 566.6,49.1 566.8,51.1 566.9,49.2 567,51.2 567.1,51.2 567.3,51.7 567.4,51.1 567.5,52.3 567.6,51.1 567.8,52.9 567.9,51.6 568,50.5 568.1,53.1 568.3,52 568.4,51.7 568.5,47.7 568.6,50.5 568.8,51.3 568.9,51.5 569,45.7 569.1,47.8 569.3,54.7 569.4,50.5 569.5,53.9 569.6,52.2 569.8,50 569.9,48.3 570,51.7 570.1,54.2 570.3,52.8 570.4,48.7 570.5,51.5 570.6,52.9 570.8,53.5 570.9,55.9 571,58.9 571.1,48.1 571.3,55.8 571.4,55 571.5,56.3 571.6,52.9 571.8,46.7 571.9,52.1 572,58.8 572.1,53.8 572.3,49 572.4,56.9 572.5,56 572.6,50.8 572.8,53.1 572.9,53.9 573,54.5 573.1,52.8 573.3,50 573.4,57.3 573.5,60.4 573.6,55.4 573.8,59.4 573.9,51.4 574,50.7 574.1,55.8 574.3,58.7 574.4,58 574.5,64.3 574.6,60.7 574.8,57.1 574.9,60.8 575,60.1 575.1,60.9 575.3,64.5 575.4,59.4 575.5,61 575.6,63.6 575.8,60.9 575.9,62.1 576,61.8 576.1,62.3 576.3,57.5 576.4,56.4 576.5,54.2 576.6,58.9 576.8,58.4 576.9,58.7 577,59.7 577.1,61.4 577.3,57.8 577.4,59.3 577.5,53.1 577.6,54.2 577.8,63 577.9,59 578,52.4 578.1,59.5 578.3,50.7 578.4,54.1 578.5,50.3 578.6,51.7 578.8,55.4 578.9,53.1 579,51.2 579.1,53 579.3,54.2 579.4,55.5 579.5,50.6 579.6,55.9 579.8,50.4 579.9,52 580,50.9 580.1,50.5 580.3,51 580.4,49 580.5,54 580.6,49.7 580.8,47.3 580.9,54.1 581,52.8 581.1,53.2 581.3,52.1 581.4,47.7 581.5,48.9 581.6,49.9 581.8,50.9 581.9,48.9 582,46.6 582.1,45 582.3,53.8 582.4,53.6 582.5,53 582.6,40.9 582.8,53.5 582.9,50.5 583,50.2 583.1,43.8 583.3,47.6 583.4,58.8 583.5,57.4 583.6,60 583.8,53.8 583.9,60.8 584,62.5 584.1,62.8 584.3,55.3 584.4,57.3 584.5,60.7 584.6,62.2 584.8,53.8 584.9,65.6 585,59.2 585.1,62.5 585.3,68 585.4,67.7 585.5,74.2 585.6,66.9 585.8,65.9 585.9,57.9 586,61.6 586.1,70.9 586.3,72.8 586.4,74 586.5,71 586.6,64.3 586.8,61.2 586.9,68.3 587,70.6 587.1,74.2 587.3,76.9 587.4,76.5 587.5,68.6 587.6,68.5 587.8,67.7 587.9,72.9 588,73.7 588.1,70.6 588.3,72.4 588.4,75.4 588.5,71.6 588.6,76.1 588.8,74.9 588.9,70.4 589,73.1 589.1,66.3 589.3,71.9 589.4,66.9 589.5,76.1 589.6,72.8 589.8,56.3 589.9,70.7 590,70 590.1,69.9 590.3,57.8 590.4,70.5 590.5,67.5 590.6,62 590.8,68.1 590.9,65.6 591,66.1 591.1,59.2 591.3,57.9 591.4,63.4 591.5,59.9 591.6,63.7 591.8,59.2 591.9,58.2 592,63.9 592.1,59.2 592.3,65.9 592.4,62.9 592.5,64 592.6,63 592.8,65.8 592.9,65.8 593,62 593.1,63.2 593.3,64.6 593.4,62.9 593.5,58.9 593.6,60.3 593.8,58.9 593.9,57.1 594,58 594.1,56.9 594.3,56.4 594.4,60.8 594.5,56.8 594.6,56.1 594.8,59.1 594.9,55.1 595,57 595.1,56.3 595.3,54.8 595.4,56.9 595.5,60 595.6,52.8 595.8,54.8 595.9,52.6 596,56.1 596.1,53.4 596.3,54.7 596.4,56.3 596.5,60.3 596.6,57.9 596.8,51.7 596.9,56.9 597,53.4 597.1,56.8 597.3,57.5 597.4,53.4 597.5,59.2 597.6,53.9 597.8,58.2 597.9,56 598,52.7 598.1,54.9 598.3,62.8 598.4,60.9 598.5,64.6 598.6,60.8 598.8,65.6 598.9,60.3 599,65.9 599.1,64.1 599.3,66.4 599.4,67 599.5,64.9 599.6,71.5 599.8,65.1 599.9,60.5 600,64.8 600.1,62.3 600.3,58.6 600.4,57.4 600.5,59.2 600.6,52.6 600.8,53.7 600.9,54.3 601,56.6 601.1,53.6 601.3,52.9 601.4,42.2 601.5,52.3 601.6,48.4 601.8,45.7 601.9,47 602,40.8 602.1,49.2 602.3,45.1 602.4,41.8 602.5,42.4 602.6,44.1 602.8,46.3 602.9,41.4 603,49.5 603.1,44.3 603.3,48 603.4,43.4 603.5,49.1 603.6,49.5 603.8,50.1 603.9,52.3 604,51 604.1,41 604.3,52.1 604.4,48.3 604.5,48 604.6,53.6 604.8,59 604.9,55.6 605,49.9 605.1,52.4 605.3,52.8 605.4,50.2 605.5,54.6 605.6,53.1 605.8,53 605.9,50.6 606,48.1 606.1,50 606.3,50.5 606.4,43.2 606.5,48.5 606.6,46.3 606.8,53.4 606.9,47.6 607,42.2 607.1,46.5 607.3,46.2 607.4,46.9 607.5,46.1 607.6,46 607.8,40.5 607.9,44.6 608,48.4 608.1,44.3 608.3,40.8 608.4,40.7 608.5,38.9 608.6,42.7 608.8,46.5 608.9,38.8 609,39 609.1,34.3 609.3,37 609.4,37.1 609.5,31.1 609.6,30.7 609.8,30.4 609.9,29.3 610,30.2 610.1,30.9 610.3,31.9 610.4,35.2 610.5,31.5 610.6,29 610.8,27.9 610.9,31.4 611,28.6 611.1,28 611.3,25.5 611.4,29.9 611.5,31.4 611.6,32.4 611.8,32.1 611.9,28.3 612,32.9 612.1,31.4 612.3,33 612.4,30.5 612.5,33.5 612.6,39.5 612.8,33.1 612.9,35.7 613,36.6 613.1,37.6 613.3,32.7 613.4,35 613.5,35.9 613.6,29.8 613.8,39.4 613.9,41.3 614,37 614.1,37.8 614.3,38.8 614.4,39.3 614.5,39.8 614.6,31.1 614.8,27.6 614.9,31.9 615,36.7 615.1,38.3 615.3,38.7 615.4,37.9 615.5,38.9 615.6,35.8 615.8,39.3 615.9,40 616,44.4 616.1,40.9 616.3,34 616.4,39.5 616.5,44.2 616.6,36.8 616.8,38.4 616.9,48.3 617,44.4 617.1,45.5 617.3,43.8 617.4,43.1 617.5,46.5 617.6,47.4 617.8,43.2 617.9,40.1 618,46.7 618.1,47.9 618.3,41.6 618.4,50.3 618.5,47.3 618.6,51.4 618.8,44.3 618.9,42.3 619,47.5 619.1,51.3 619.3,45.8 619.4,44.7 619.5,46.9 619.6,46.3 619.8,45.4 619.9,43.4 620,53 620.1,44.7 620.3,43.8 620.4,43 620.5,50.8 620.6,46 620.8,49.8 620.9,48.4 621,48.6 621.1,51.3 621.3,51.5 621.4,52.1 621.5,56.3 621.6,50.8 621.8,51.6 621.9,51.1 622,51.5 622.1,46.1 622.3,53.1 622.4,51.1 622.5,44.3 622.6,50.6 622.8,46.2 622.9,48.6 623,48.1 623.1,48.6 623.3,54.8 623.4,48.8 623.5,50.1 623.6,51 623.8,44.9 623.9,44.7 624,42.8 624.1,48.4 624.3,48.4 624.4,38.9 624.5,46 624.6,47.1 624.8,46.6 624.9,41 625,42.7 625.1,46.3 625.3,45.5 625.4,44 625.5,41.8 625.6,44.3 625.8,44.4 625.9,40.7 626,42.3 626.1,41 626.3,42.3 626.4,46 626.5,43.3 626.6,44.8 626.8,48 626.9,49 627,44.1 627.1,44.1 627.3,41.2 627.4,42.1 627.5,43.1 627.6,49.2 627.8,46.1 627.9,42.4 628,49.3 628.1,48.8 628.3,47.5 628.4,53.5 628.5,49.8 628.6,46.9 628.8,45.9 628.9,44.7 629,47.8 629.1,44.2 629.3,55.6 629.4,50 629.5,56.2 629.6,45.2 629.8,53.3 629.9,50.9 630,51.9 630.1,42.9 630.3,52.1 630.4,52.1 630.5,52.3 630.6,51.9 630.8,50.5 630.9,54.8 631,55.8 631.1,54.9 631.3,51.1 631.4,50.9 631.5,49.3 631.6,53.9 631.8,56.9 631.9,53.4 632,53.6 632.1,54.6 632.3,59 632.4,53.8 632.5,54.8 632.6,58.7 632.8,56 632.9,57.4 633,60.9 633.1,64.1 633.3,60.8 633.4,57.1 633.5,57.9 633.6,61.2 633.8,61.7 633.9,62.2 634,53.4 634.1,55.8 634.3,55.7 634.4,50.7 634.5,53.2 634.6,51.9 634.8,45.2 634.9,50.5 635,45.8 635.1,44.8 635.3,46.3 635.4,51.2 635.5,48.2 635.6,48.7 635.8,48.8 635.9,48.3 636,42.7 636.1,47.1 636.3,49.1 636.4,49.1 636.5,40.3 636.6,41.5 636.8,45.4 636.9,42.9 637,46.8 637.1,39.9 637.3,39.6 637.4,41.5 637.5,44.8 637.6,39.7 637.8,37.8 637.9,38 638,40.9 638.1,35.3 638.3,37.8 638.4,35.7 638.5,38.4 638.6,42 638.8,41.6 638.9,37.4 639,38.6 639.1,42.7 639.3,35.8 639.4,38 639.5,39.7 639.6,39.9 639.8,44.6 639.9,41.8 640,43.4 640.1,42.2 640.3,45.7 640.4,42.5 640.5,42.2 640.6,45.2 640.8,44.4 640.9,46.1 641,44.1 641.1,43.9 641.3,39.6 641.4,41.7 641.5,50.1 641.6,48.2 641.8,40 641.9,47.3 642,39.1 642.1,38.3 642.3,38.1 642.4,44.9 642.5,40.3 642.6,46.7 642.8,39 642.9,38.4 643,39 643.1,31.6 643.3,37.4 643.4,39.3 643.5,34.3 643.6,38.7 643.8,43.3 643.9,37.1 644,42.8 644.1,40.9 644.3,37.2 644.4,41.5 644.5,32.1 644.6,44.1 644.8,41.7 644.9,41.3 645,37.4 645.1,49.4 645.3,53.7 645.4,44.8 645.5,46.4 645.6,46.2 645.8,46.2 645.9,47.2 646,53.4 646.1,52.5 646.3,47.3 646.4,40.2 646.5,50.5 646.6,48.1 646.8,49.5 646.9,51.7 647,47.8 647.1,53.8 647.3,53.8 647.4,48.4 647.5,52.8 647.6,44.7 647.8,49.1 647.9,46.8 648,50 648.1,53.5 648.3,51.6 648.4,56.8 648.5,55 648.6,51.5 648.8,47.4 648.9,53.4 649,54.2 649.1,44.3 649.3,52.1 649.4,51.2 649.5,52.1 649.6,57.6 649.8,57.1 649.9,55.3 650,55.7 650.1,56.1 650.3,56 650.4,52.7 650.5,57.1 650.6,52.6 650.8,56.8 650.9,53.8 651,51.7 651.1,55 651.3,56.9 651.4,54.5 651.5,58.9 651.6,58.4 651.8,57.6 651.9,54 652,54.3 652.1,55.8 652.3,57.1 652.4,57 652.5,52.3 652.6,47.7 652.8,51.7 652.9,53.9 653,54.9 653.1,57.5 653.3,50.2 653.4,54.4 653.5,55.1 653.6,54 653.8,46.8 653.9,49.7 654,54 654.1,51.8 654.3,50.9 654.4,50.7 654.5,48.2 654.6,50.3 654.8,51.2 654.9,47.6 655,49 655.1,50.9 655.3,45.8 655.4,44.5 655.5,45.1 655.6,45.6 655.8,44.3 655.9,47.6 656,47.8 656.1,46.7 656.3,46.3 656.4,44.7 656.5,43.5 656.6,46.3 656.8,44.8 656.9,44.3 657,45 657.1,41.4 657.3,39.3 657.4,43.9 657.5,43.3 657.6,48.1 657.8,44.3 657.9,45.2 658,45.8 658.1,46.1 658.3,44.1 658.4,45.9 658.5,43.8 658.6,46.7 658.8,48.1 658.9,48.9 659,42.2 659.1,46.8 659.3,47.4 659.4,47.3 659.5,48 659.6,51.1 659.8,45.6 659.9,50.1 660,53.8 660.1,50.8 660.3,48.2 660.4,45.1 660.5,51.6 660.6,47 660.8,48.4 660.9,51.6 661,44.3 661.1,47.6 661.3,49.7 661.4,45.1 661.5,50.8 661.6,44.8 661.8,47 661.9,48.8 662,45.4 662.1,41.9 662.3,47.1 662.4,45.2 662.5,47.1 662.6,45.6 662.8,44.9 662.9,48.1 663,49.5 663.1,48.6 663.3,49 663.4,48.5 663.5,46 663.6,48.4 663.8,45.4 663.9,46.8 664,47.5 664.1,48.1 664.3,45.7 664.4,45.3" fill="none" stroke="#000" stroke-width="0.5" stroke-linejoin="round"/>
<path d="M46.4,134 46.5,133.3 46.6,137.1 46.8,128.6 46.9,131.6 47,130.2 47.1,128.7 47.3,126.3 47.4,129.3 47.5,136.4 47.6,131.7 47.8,131.7 47.9,131.4 48,129.7 48.1,132.1 48.3,127 48.4,130.4 48.5,127.6 48.6,128.7 48.8,126 48.9,128 49,124.6 49.1,125.5 49.3,126.2 49.4,126.3 49.5,124.8 49.6,124 49.8,122.9 49.9,123.8 50,121.6 50.1,123.2 50.3,125.7 50.4,125.5 50.5,124 50.6,125 50.8,125.8 50.9,127.5 51,126 51.1,129.7 51.3,126.5 51.4,129.1 51.5,129.4 51.6,127.5 51.8,128.6 51.9,129 52,129.9 52.1,122.8 52.3,131.2 52.4,125.9 52.5,123.8 52.6,124 52.8,121.2 52.9,117.4 53,127.3 53.1,122.9 53.3,121.1 53.4,121 53.5,116.7 53.6,121.8 53.8,111.1 53.9,113.6 54,111.7 54.1,121.7 54.3,125.7 54.4,120 54.5,115.4 54.6,110.5 54.8,110.9 54.9,114.3 55,113.3 55.1,118.2 55.3,113.6 55.4,111.8 55.5,114.7 55.6,112 55.8,114.6 55.9,114.5 56,116 56.1,114.8 56.3,119.2 56.4,112.5 56.5,116.8 56.6,118.9 56.8,114.2 56.9,119.3 57,114.9 57.1,120.8 57.3,117.6 57.4,114.3 57.5,117.4 57.6,115.3 57.8,113.2 57.9,111.4 58,116.5 58.1,114.3 58.3,115.6 58.4,116 58.5,116.6 58.6,117.3 58.8,113.9 58.9,119.7 59,120.4 59.1,115.3 59.3,117.4 59.4,120.4 59.5,118.8 59.6,123 59.8,116.8 59.9,122 60,121.2 60.1,119.6 60.3,124 60.4,125.9 60.5,120.8 60.6,123.6 60.8,123.7 60.9,127.6 61,119.6 61.1,127 61.3,125 61.4,124.5 61.5,124.8 61.6,126.3 61.8,125.4 61.9,123.9 62,123.7 62.1,125.5 62.3,124.3 62.4,125.7 62.5,124.6 62.6,127 62.8,121.8 62.9,121.7 63,121.7 63.1,121.9 63.3,124.3 63.4,121.4 63.5,124.3 63.6,121.8 63.8,121.4 63.9,120.9 64,123.9 64.2,123.9 64.3,117.5 64.4,118.2 64.5,125 64.7,120.8 64.8,124.4 64.9,122.8 65,119.5 65.2,114.7 65.3,123.7 65.4,121.4 65.5,123.2 65.7,120.2 65.8,119.3 65.9,117.6 66,120.7 66.2,118.5 66.3,117.4 66.4,116.7 66.5,120.1 66.7,115.4 66.8,114.4 66.9,116.2 67,117.3 67.2,116.6 67.3,119.6 67.4,115.8 67.5,117.9 67.7,120.2 67.8,121.6 67.9,121.1 68,122.1 68.2,116.9 68.3,119.2 68.4,114.6 68.5,120.5 68.7,118.6 68.8,120.8 68.9,117.5 69,122.2 69.2,116.9 69.3,118.5 69.4,115.1 69.5,121.4 69.7,119.1 69.8,120.1 69.9,118.6 70,116.8 70.2,128.4 70.3,124.3 70.4,122.4 70.5,121.1 70.7,124.5 70.8,126.4 70.9,128.4 71,130.8 71.2,125.5 71.3,124.2 71.4,119.2 71.5,123.5 71.7,122.6 71.8,122 71.9,127.8 72,120.1 72.2,120.8 72.3,129 72.4,128.4 72.5,123.9 72.7,128.6 72.8,125.6 72.9,128.5 73,123.2 73.2,131.2 73.3,130.6 73.4,124.2 73.5,125.1 73.7,127 73.8,129.7 73.9,127.2 74,130.9 74.2,127.7 74.3,131.2 74.4,126.7 74.5,127.9 74.7,127.7 74.8,126.5 74.9,129.3 75,124.8 75.2,125.8 75.3,131.6 75.4,129.6 75.5,133 75.7,128.3 75.8,129.5 75.9,129.5 76,133 76.2,133.8 76.3,131.9 76.4,133 76.5,128.4 76.7,130.3 76.8,126.9 76.9,129 77,130.6 77.2,126.8 77.3,124.6 77.4,132 77.5,135.6 77.7,130.4 77.8,124.5 77.9,125.6 78,134.6 78.2,127 78.3,130.6 78.4,126.2 78.5,129 78.7,128.8 78.8,124.8 78.9,121.8 79,129.8 79.2,121.8 79.3,129.4 79.4,119.4 79.5,120.7 79.7,121.7 79.8,116.4 79.9,117.5 80,120.2 80.2,121.4 80.3,120.6 80.4,120.5 80.5,119.5 80.7,123.7 80.8,122.8 80.9,123.2 81,127.9 81.2,125.4 81.3,123.1 81.4,118.6 81.5,125.5 81.7,128.8 81.8,121.5 81.9,121.4 82,134 82.2,120.2 82.3,124.6 82.4,127.2 82.5,120.2 82.7,126.5 82.8,124.7 82.9,125.6 83,131.2 83.2,128.8 83.3,122.9 83.4,126.9 83.5,123.2 83.7,126 83.8,133.9 83.9,128.1 84,136.5 84.2,130.2 84.3,129.1 84.4,131.7 84.5,129.9 84.7,127.1 84.8,132.8 84.9,131.9 85,132.5 85.2,130.4 85.3,128.5 85.4,131.9 85.5,126 85.7,127.3 85.8,128.1 85.9,128.8 86,126.4 86.2,132.7 86.3,124.2 86.4,128.3 86.5,127.8 86.7,130.8 86.8,126.7 86.9,128.8 87,128.6 87.2,127.2 87.3,125.4 87.4,125.7 87.5,126.3 87.7,128.3 87.8,123.9 87.9,127.8 88,125.5 88.2,126.8 88.3,121.8 88.4,122.7 88.5,123.9 88.7,124.5 88.8,125.2 88.9,124 89,125.1 89.2,125.8 89.3,126.9 89.4,124.4 89.5,122.3 89.7,124.6 89.8,125 89.9,124 90,124.6 90.2,121.4 90.3,123.7 90.4,125 90.5,125.2 90.7,121.2 90.8,123.2 90.9,124.4 91,125.4 91.2,127.5 91.3,125.2 91.4,123.9 91.5,126.2 91.7,124.7 91.8,122.7 91.9,124.4 92,122.5 92.2,133.1 92.3,127.5 92.4,130.8 92.5,129.1 92.7,130.6 92.8,132.1 92.9,129 93,128.9 93.2,124.5 93.3,124.6 93.4,126.5 93.5,127.5 93.7,131.7 93.8,128.2 93.9,124.1 94,130.4 94.2,131.4 94.3,131.5 94.4,131.3 94.5,129.9 94.7,128.9 94.8,127.7 94.9,125 95,128 95.2,126.3 95.3,127.7 95.4,123.1 95.5,123.6 95.7,126.8 95.8,126.2 95.9,121.3 96,125 96.2,124.1 96.3,123.2 96.4,121.9 96.5,120.3 96.7,119 96.8,122.8 96.9,118 97,125.8 97.2,121.4 97.3,131.7 97.4,118.3 97.5,122.3 97.7,124.9 97.8,121 97.9,122 98,128.6 98.2,118.1 98.3,121.8 98.4,126.1 98.5,130.2 98.7,126.7 98.8,121.2 98.9,124.1 99,122.5 99.2,125.5 99.3,120.8 99.4,124.5 99.5,129.1 99.7,121.5 99.8,124 99.9,128.3 100,126.2 100.2,126.1 100.3,121.9 100.4,122.8 100.5,126.7 100.7,130.7 100.8,128.6 100.9,128.5 101,126.4 101.2,128.9 101.3,129.9 101.4,129.2 101.5,128.8 101.7,129 101.8,128 101.9,126.2 102,127.4 102.2,128.9 102.3,130.6 102.4,132.2 102.5,131.4 102.7,131.3 102.8,127.9 102.9,129.6 103,129.4 103.2,126.7 103.3,131.5 103.4,127.3 103.5,129.1 103.7,127.3 103.8,128.2 103.9,127.6 104,128.7 104.2,127.1 104.3,127.3 104.4,124.6 104.5,127 104.7,125.9 104.8,126.1 104.9,124.2 105,122.3 105.2,125.1 105.3,128.9 105.4,126.7 105.5,126.1 105.7,121.7 105.8,127.4 105.9,120.8 106,121.2 106.2,123.5 106.3,122 106.4,126.1 106.5,119.5 106.7,125.8 106.8,125.8 106.9,122 107,122.8 107.2,122.4 107.3,120.7 107.4,121.9 107.5,122.5 107.7,122.3 107.8,124.4 107.9,122.9 108,126.9 108.2,125.9 108.3,125.6 108.4,125.2 108.5,120.4 108.7,121.8 108.8,123.7 108.9,126 109,125.9 109.2,130.3 109.3,126.4 109.4,123.6 109.5,125.5 109.7,129.3 109.8,127.2 109.9,127.7 110,122.5 110.2,126.7 110.3,125.3 110.4,122.8 110.5,120.8 110.7,126.1 110.8,122.9 110.9,122.6 111,125.1 111.2,125.3 111.3,122.9 111.4,121.8 111.5,125.4 111.7,123.6 111.8,122.8 111.9,127.9 112,128 112.2,125.6 112.3,126.5 112.4,126.1 112.5,123.5 112.7,132.8 112.8,127.3 112.9,131.4 113,125 113.2,126.1 113.3,134.5 113.4,133.6 113.5,124.1 113.7,128.9 113.8,134.1 113.9,133.4 114,134.5 114.2,134 114.3,133.4 114.4,135.9 114.5,135.2 114.7,132.7 114.8,135.5 114.9,134.5 115,135.4 115.2,135 115.3,131.1 115.4,130.4 115.5,133.5 115.7,134.5 115.8,135.2 115.9,136.9 116,134.2 116.2,136.4 116.3,135.9 116.4,132.9 116.5,137.2 116.7,138.3 116.8,135.2 116.9,132.2 117,135.4 117.2,135.9 117.3,136.1 117.4,137 117.5,130.3 117.7,133.2 117.8,132.5 117.9,132 118,134.3 118.2,131.6 118.3,128.2 118.4,124.9 118.5,132.3 118.7,128.4 118.8,129.9 118.9,133 119,131.9 119.2,128.5 119.3,131.7 119.4,127.8 119.5,127.9 119.7,129.5 119.8,133.9 119.9,128.2 120,127.4 120.2,129.5 120.3,127.4 120.4,126.8 120.5,127.8 120.7,127.1 120.8,130 120.9,128.5 121,132.6 121.2,122.9 121.3,128 121.4,135.3 121.5,125.2 121.7,121 121.8,121.9 121.9,119.6 122,119.1 122.2,122.1 122.3,128 122.4,129.6 122.5,130.6 122.7,129.5 122.8,119.2 122.9,117.9 123,120.6 123.2,125.1 123.3,118.3 123.4,122 123.5,114.2 123.7,124.2 123.8,121.1 123.9,122 124,125.2 124.2,125.9 124.3,122.4 124.4,121.1 124.5,122.7 124.7,121 124.8,120.8 124.9,120.8 125,118.6 125.2,118.9 125.3,121.9 125.4,107.5 125.5,122.1 125.7,115.5 125.8,119.4 125.9,112.6 126,119.6 126.2,112.5 126.3,117.7 126.4,115.5 126.5,118.1 126.7,118.3 126.8,118.3 126.9,114.3 127,115.5 127.2,112 127.3,111.5 127.4,111.6 127.5,108.6 127.7,117.6 127.8,113 127.9,115.7 128,123.6 128.2,114.8 128.3,110.7 128.4,114.5 128.5,111.2 128.7,108.5 128.8,108.4 128.9,110.9 129,108.5 129.2,111 129.3,117.5 129.4,109.9 129.5,112 129.7,106.9 129.8,110 129.9,110 130,107.5 130.2,111.7 130.3,111.6 130.4,108.4 130.5,111.7 130.7,111.5 130.8,108.9 130.9,103.9 131,106.1 131.2,109.8 131.3,108.1 131.4,114.2 131.5,114.6 131.7,111.7 131.8,111.3 131.9,115.1 132,121 132.2,116.7 132.3,111.4 132.4,113.7 132.5,114.3 132.7,118.3 132.8,116.7 132.9,113.8 133,119.2 133.2,116.7 133.3,123.9 133.4,124.2 133.5,119.9 133.7,121.1 133.8,119.7 133.9,116.7 134,125.9 134.2,117.6 134.3,120.5 134.4,123 134.5,119.3 134.7,122 134.8,121 134.9,119.9 135,127.5 135.2,125.4 135.3,125.2 135.4,119.8 135.5,122.3 135.7,126.4 135.8,126.2 135.9,125.1 136,123.6 136.2,128.7 136.3,130.8 136.4,127.3 136.5,130 136.7,132.6 136.8,136.5 136.9,131.6 137,129.6 137.2,123.8 137.3,130.3 137.4,133.2 137.5,129.3 137.7,135.1 137.8,131.3 137.9,137.4 138,135.5 138.2,139.7 138.3,135.4 138.4,135.8 138.5,138.4 138.7,137.5 138.8,135 138.9,141 139,137 139.2,136.5 139.3,141.5 139.4,142.6 139.5,141.5 139.7,136.7 139.8,142.3 139.9,142.1 140,145.5 140.2,140 140.3,139.4 140.4,142.3 140.5,140.3 140.7,137.3 140.8,139 140.9,142.2 141,138.2 141.2,138.4 141.3,141.3 141.4,137.2 141.5,132.4 141.7,137.1 141.8,135.6 141.9,141.4 142,138.3 142.2,135.4 142.3,136.3 142.4,132.9 142.5,139.1 142.7,134.9 142.8,133.9 142.9,131.4 143,137.6 143.2,131.3 143.3,138.6 143.4,134.1 143.5,135.3 143.7,134.9 143.8,132.8 143.9,135.5 144,138.7 144.2,132.6 144.3,130.1 144.4,131 144.5,130.4 144.7,135.4 144.8,130 144.9,125.7 145,132.7 145.2,134.8 145.3,134.3 145.4,132.6 145.5,130.1 145.7,135.1 145.8,131.5 145.9,127.9 146,133.6 146.2,128.9 146.3,133.7 146.4,126.2 146.5,125 146.7,127.9 146.8,129.1 146.9,125.1 147,129.1 147.2,126.6 147.3,127.4 147.4,131.7 147.5,124.5 147.7,128 147.8,126.5 147.9,128 148,123.8 148.2,126.6 148.3,125.8 148.4,122 148.5,128.8 148.7,127.4 148.8,121.1 148.9,124.3 149,124.3 149.2,124.9 149.3,126 149.4,127.8 149.5,127.5 149.7,126.3 149.8,129.3 149.9,126.8 150,133.2 150.2,125.9 150.3,132.1 150.4,130.3 150.5,125.6 150.7,132.1 150.8,127.5 150.9,123.3 151,134 151.2,126 151.3,130.3 151.4,128.1 151.5,134.8 151.7,126.8 151.8,131.8 151.9,128.8 152,129 152.2,126.7 152.3,128.5 152.4,130.5 152.5,127 152.7,125.1 152.8,129.3 152.9,123.6 153,127.9 153.2,130.3 153.3,128.3 153.4,127.5 153.5,127.1 153.7,130.1 153.8,130.2 153.9,128.6 154,130.2 154.2,129 154.3,128.3 154.4,133.5 154.5,127.4 154.7,129.8 154.8,127.1 154.9,131.5 155,130.4 155.2,130.8 155.3,130.1 155.4,128.5 155.5,127 155.7,127.1 155.8,131.8 155.9,126.2 156,127.9 156.2,128.5 156.3,128.3 156.4,125.2 156.5,123.2 156.7,123.7 156.8,126.8 156.9,123.5 157,126.5 157.2,123.3 157.3,128.1 157.4,126.2 157.5,129.1 157.7,124.2 157.8,127.4 157.9,127 158,126.4 158.2,128.3 158.3,128.2 158.4,125.5 158.5,122.9 158.7,126.4 158.8,122.4 158.9,123.2 159,125.6 159.2,120.6 159.3,123.9 159.4,126.6 159.5,121.9 159.7,121.6 159.8,119.6 159.9,121.3 160,119.6 160.2,122.8 160.3,121.6 160.4,123.7 160.5,123.8 160.7,131.1 160.8,126.7 160.9,129.4 161,121.4 161.2,125.5 161.3,124.3 161.4,123.4 161.5,122.4 161.7,123 161.8,125.1 161.9,120.6 162,123.1 162.2,123.5 162.3,118.4 162.4,119.9 162.5,116.2 162.7,119.2 162.8,119 162.9,118.5 163,116.7 163.2,119.6 163.3,120.6 163.4,124.2 163.5,122.4 163.7,120.5 163.8,118.9 163.9,118.7 164,118.8 164.2,121.5 164.3,126.9 164.4,120 164.5,123.6 164.7,119.1 164.8,119.2 164.9,122.6 165,122.2 165.2,127.7 165.3,123.3 165.4,122.2 165.5,119.9 165.7,123.4 165.8,125.3 165.9,124 166,127 166.2,123.8 166.3,122.6 166.4,123.1 166.5,131 166.7,124.8 166.8,124.8 166.9,126.8 167,125.4 167.2,124 167.3,124.4 167.4,124.2 167.5,126.5 167.7,121 167.8,124.5 167.9,119.2 168,122.8 168.2,128.7 168.3,122.9 168.4,129.6 168.5,123.2 168.7,129 168.8,123.8 168.9,124.2 169,125.8 169.2,126 169.3,126.8 169.4,125.6 169.5,132.9 169.7,125.6 169.8,128.4 169.9,127.5 170,128.4 170.2,130.2 170.3,128.1 170.4,126.1 170.5,130.8 170.7,123 170.8,133.4 170.9,134.7 171,133.3 171.2,137.8 171.3,134 171.4,127 171.5,132.4 171.7,129.9 171.8,124.5 171.9,129.9 172,128.1 172.2,126 172.3,131.4 172.4,132.3 172.5,129.1 172.7,130.9 172.8,131.7 172.9,126.5 173,124.6 173.2,125.7 173.3,128.6 173.4,128.7 173.5,125 173.7,131.3 173.8,128.7 173.9,133.1 174,129.5 174.2,133.6 174.3,130.5 174.4,131.8 174.5,124.3 174.7,131.8 174.8,133.8 174.9,133.5 175,132 175.2,131.7 175.3,136.9 175.4,140.8 175.5,141.2 175.7,135.7 175.8,134 175.9,134.3 176,138.2 176.2,134.7 176.3,134 176.4,135.1 176.5,135.2 176.7,135.5 176.8,136.4 176.9,131.2 177,134.2 177.2,132.2 177.3,133.4 177.4,133.2 177.5,129.4 177.7,129.8 177.8,130.2 177.9,132.6 178,131.3 178.2,129.6 178.3,131.9 178.4,132.6 178.5,126.4 178.7,131.3 178.8,130.9 178.9,128.1 179,131 179.2,127.2 179.3,129.8 179.4,131.9 179.5,128.2 179.7,122.7 179.8,122.3 179.9,122.8 180,131 180.2,124.5 180.3,123.7 180.4,124.9 180.5,122.3 180.7,126.6 180.8,124.4 180.9,123.2 181,124.6 181.2,125.8 181.3,125.3 181.4,124.4 181.5,118 181.7,120.2 181.8,119.2 181.9,124 182,118.7 182.2,122.7 182.3,123.6 182.4,122.5 182.5,124.9 182.7,121.1 182.8,122.4 182.9,123.1 183,122.8 183.2,122.9 183.3,121.4 183.4,120.2 183.5,122 183.7,122.1 183.8,121.3 183.9,124.4 184,126 184.2,121.4 184.3,126.3 184.4,124 184.5,118.4 184.7,124.2 184.8,121.7 184.9,124.6 185,124.2 185.2,127.5 185.3,126.5 185.4,126.3 185.5,121.3 185.7,123.3 185.8,128.6 185.9,124.4 186,125.3 186.2,122.8 186.3,129.2 186.4,130 186.5,128.5 186.7,127.9 186.8,133.8 186.9,132.5 187,128.2 187.2,127.3 187.3,130.9 187.4,137 187.5,136 187.7,127.7 187.8,128 187.9,128.2 188,136.8 188.2,127.8 188.3,129.2 188.4,139.3 188.5,141.4 188.7,141.3 188.8,136.9 188.9,130.7 189,140.6 189.2,142.5 189.3,135.2 189.4,130.4 189.5,138 189.7,140 189.8,137.5 189.9,133 190,143.4 190.2,145.8 190.3,139.8 190.4,150.3 190.5,138.3 190.7,145.8 190.8,137.4 190.9,151.9 191,146.2 191.2,143.8 191.3,144.8 191.4,142.5 191.5,151.1 191.7,144.4 191.8,143.1 191.9,148.2 192,149.3 192.2,141.2 192.3,145.9 192.4,147.8 192.5,144.9 192.7,147.8 192.8,149.4 192.9,145.2 193,143.6 193.2,143.2 193.3,147.6 193.4,137.6 193.5,138 193.7,146.1 193.8,149.8 193.9,154.2 194,141.4 194.2,139.6 194.3,141.2 194.4,142.3 194.5,135.7 194.7,140.5 194.8,140.1 194.9,143.7 195,141.3 195.2,141.1 195.3,141.3 195.4,131.3 195.5,140.3 195.7,139.9 195.8,138 195.9,137.3 196,136 196.2,130.9 196.3,133 196.4,138.4 196.5,135.4 196.7,133.1 196.8,133.7 196.9,139.6 197,129.8 197.2,131.9 197.3,127.6 197.4,131.5 197.5,129.9 197.7,129.4 197.8,129.8 197.9,134.8 198,131 198.2,129.5 198.3,134.6 198.4,133 198.5,131.5 198.7,129.6 198.8,129.1 198.9,128.5 199,131.2 199.2,132.4 199.3,134.2 199.4,130 199.5,132 199.7,130.3 199.8,133.6 199.9,132.4 200,128.7 200.2,130.9 200.3,133.7 200.4,130.6 200.5,129.9 200.7,129.6 200.8,131 200.9,132.6 201,131 201.2,127.4 201.3,128.9 201.4,130 201.5,127 201.7,124.2 201.8,127.5 201.9,127.9 202,126.7 202.2,130.5 202.3,129.6 202.4,127.7 202.5,125.2 202.7,130.2 202.8,127.1 202.9,128.1 203,127.5 203.2,128.6 203.3,127.6 203.4,128.3 203.5,124.7 203.7,125.5 203.8,122.6 203.9,127.5 204,123.6 204.2,124.1 204.3,121.7 204.4,127.3 204.5,125.3 204.7,129.4 204.8,123.2 204.9,128.6 205,128.3 205.2,126.3 205.3,126.8 205.4,126 205.5,126.2 205.7,126.5 205.8,132.4 205.9,125.4 206,121.9 206.2,123.9 206.3,117.5 206.4,126.9 206.5,125.9 206.7,123.9 206.8,119.3 206.9,119.7 207,110.5 207.2,122.2 207.3,125.4 207.4,114 207.5,120 207.7,120.5 207.8,115.3 207.9,113.9 208,115.3 208.2,117.6 208.3,117.4 208.4,111.1 208.5,118.8 208.7,111.6 208.8,114.5 208.9,116.4 209,114.8 209.2,115.8 209.3,116.4 209.4,112.4 209.5,115.8 209.7,114.6 209.8,120.7 209.9,116.8 210,119.1 210.2,120.9 210.3,118.3 210.4,118.4 210.5,118.2 210.7,120.9 210.8,117.7 210.9,125.3 211,124.7 211.2,124.3 211.3,124 211.4,127.1 211.5,119.8 211.7,121.5 211.8,125.6 211.9,127.2 212,123.8 212.2,126 212.3,124.8 212.4,124.5 212.5,121.9 212.7,124.5 212.8,128.7 212.9,124.5 213,126.7 213.2,128.7 213.3,129.7 213.4,127.5 213.5,128.1 213.7,130.9 213.8,128.9 213.9,127.1 214,130.9 214.2,132.1 214.3,133.4 214.4,130.9 214.5,126.8 214.7,131.3 214.8,133.5 214.9,131.6 215,126.8 215.2,131.1 215.3,130.3 215.4,133.4 215.5,125.3 215.7,130.1 215.8,126.4 215.9,124.8 216,124.2 216.2,128.5 216.3,123.9 216.4,126.2 216.5,125.8 216.7,126.5 216.8,122.2 216.9,120.3 217,122.7 217.2,123.8 217.3,123 217.4,118.3 217.5,118.8 217.7,119.4 217.8,126.2 217.9,118 218,120 218.2,116.8 218.3,117.9 218.4,115.7 218.5,118.5 218.7,116.1 218.8,117.9 218.9,118.2 219,118 219.2,119.6 219.3,117.8 219.4,120.3 219.5,119.5 219.7,123.7 219.8,123 219.9,123.7 220,120.2 220.2,121.8 220.3,120.9 220.4,120.4 220.5,126.7 220.7,124.8 220.8,125.2 220.9,123.3 221,125 221.2,127.8 221.3,124.2 221.4,126 221.5,128.3 221.7,128 221.8,125.3 221.9,132.2 222,126.8 222.2,124 222.3,128.7 222.4,125.9 222.5,130 222.7,125.6 222.8,128.8 222.9,128.4 223,130.4 223.2,128.3 223.3,126.2 223.4,122.7 223.5,129.3 223.7,128.6 223.8,130.6 223.9,130 224,128 224.2,129.3 224.3,132.2 224.4,127.9 224.5,128.4 224.7,136.8 224.8,132 224.9,127.1 225,132.2 225.2,135.1 225.3,134 225.4,128.3 225.5,134.6 225.7,140.6 225.8,127.2 225.9,134.7 226,131 226.2,134 226.3,132.8 226.4,133.7 226.5,131.1 226.7,133.4 226.8,130.7 226.9,128.3 227,127.3 227.2,128.1 227.3,131.5 227.4,136.1 227.5,128.3 227.7,130.3 227.8,133.3 227.9,135.2 228,126.8 228.2,132.1 228.3,131.9 228.4,128.7 228.5,131.3 228.7,137.2 228.8,130.2 228.9,126.4 229,128.9 229.2,130.4 229.3,125.6 229.4,137.1 229.5,127.9 229.7,125.3 229.8,127.3 229.9,127.1 230,126.4 230.2,125.1 230.3,120.9 230.4,123.2 230.5,123.8 230.7,123.3 230.8,125.2 230.9,126.5 231,126.7 231.2,126 231.3,132.1 231.4,127.3 231.5,131.6 231.7,129.5 231.8,135.8 231.9,127.3 232,134.2 232.2,131.4 232.3,135.4 232.4,134.5 232.5,131.6 232.7,140.2 232.8,137.3 232.9,132.2 233,126.5 233.2,136.3 233.3,129.6 233.4,139.3 233.5,134.8 233.7,137.7 233.8,138.2 233.9,134.2 234,142.6 234.2,136.3 234.3,140.7 234.4,141.4 234.5,134.1 234.7,143.2 234.8,138.7 234.9,142.5 235,142 235.2,143.6 235.3,144.4 235.4,137.6 235.5,141.4 235.7,146.2 235.8,145.9 235.9,147.8 236,142.8 236.2,145.9 236.3,145.4 236.4,144.7 236.5,151.6 236.7,142.7 236.8,152.5 236.9,154 237,149.5 237.2,146.5 237.3,148.4 237.4,150.2 237.5,154.3 237.7,149.4 237.8,147.3 237.9,142.6 238,141.6 238.2,144.9 238.3,141 238.4,149.3 238.5,152.4 238.7,147.6 238.8,148.7 238.9,142.3 239,143 239.2,146.4 239.3,146.6 239.4,154.7 239.5,145.3 239.7,144.7 239.8,144.6 239.9,147.6 240,149.9 240.2,152.3 240.3,147.9 240.4,143.4 240.5,150.8 240.7,144 240.8,146.8 240.9,153.7 241,147.1 241.2,148.2 241.3,144.9 241.4,149 241.5,149.1 241.7,142.9 241.8,143.6 241.9,139.9 242,145.8 242.2,147.2 242.3,146.8 242.4,144.6 242.5,140.1 242.7,146.6 242.8,143.1 242.9,142.8 243,136.6 243.2,138.6 243.3,141.9 243.4,129.8 243.5,139.3 243.7,139.7 243.8,141 243.9,142.2 244,140.1 244.2,145.7 244.3,138.8 244.4,141 244.5,137.4 244.7,139.9 244.8,142 244.9,138.8 245,140.9 245.2,144.9 245.3,139.5 245.4,138.2 245.5,141.2 245.7,135.7 245.8,140.5 245.9,138.7 246,139.9 246.2,141.4 246.3,136.5 246.4,133.6 246.5,138.8 246.7,135.1 246.8,139.4 246.9,143.2 247,139.6 247.2,137.6 247.3,135.2 247.4,138.3 247.5,145.7 247.7,142.1 247.8,135.6 247.9,142.1 248,148.1 248.2,144.1 248.3,143.5 248.4,143.6 248.5,137.1 248.7,138.4 248.8,141.5 248.9,142.5 249,138.9 249.2,143.3 249.3,140.6 249.4,143.8 249.5,138.1 249.7,144.5 249.8,144.8 249.9,138.6 250,147 250.2,147.9 250.3,149.3 250.4,142.9 250.5,146.9 250.7,151.8 250.8,144.6 250.9,137.6 251,154.3 251.2,147.6 251.3,154.6 251.4,147.4 251.5,152.1 251.7,148.4 251.8,148.4 251.9,146.5 252,155.8 252.2,145.3 252.3,151.8 252.4,147.6 252.5,150.7 252.7,148.9 252.8,146.3 252.9,150.4 253,151.3 253.2,147.9 253.3,146.6 253.4,154.2 253.5,148.5 253.7,148.5 253.8,153.7 253.9,153.5 254,154.5 254.2,151.9 254.3,147.1 254.4,148.8 254.5,155.2 254.7,154.4 254.8,152 254.9,151.3 255,153.7 255.2,148.8 255.3,154.7 255.4,153.3 255.5,157.6 255.7,157 255.8,152.5 255.9,156 256,155.5 256.1,153.4 256.3,154.1 256.4,152 256.5,154 256.6,155.4 256.8,153.3 256.9,152.3 257,159.6 257.1,156.2 257.3,157.4 257.4,149.1 257.5,156.9 257.6,152.3 257.8,153.2 257.9,155 258,155.7 258.1,152.6 258.3,148.3 258.4,152.6 258.5,149.2 258.6,150.7 258.8,153.5 258.9,150.9 259,153.4 259.1,150.3 259.3,146.6 259.4,148.2 259.5,151 259.6,148.6 259.8,150.7 259.9,147.3 260,149.2 260.1,144.4 260.3,145.5 260.4,142.3 260.5,149.3 260.6,145.2 260.8,146.4 260.9,146.7 261,145.1 261.1,146.2 261.3,144.6 261.4,142.9 261.5,144 261.6,146.2 261.8,141.3 261.9,141.6 262,141.8 262.1,142.6 262.3,140.8 262.4,141.7 262.5,144.6 262.6,141.7 262.8,141.9 262.9,142.2 263,142.6 263.1,143.4 263.3,140.7 263.4,141.8 263.5,140.3 263.6,142 263.8,142 263.9,143.4 264,144.8 264.1,144.5 264.3,146.4 264.4,143.5 264.5,146.2 264.6,145.3 264.8,148.2 264.9,146.5 265,148.4 265.1,142.4 265.3,144.7 265.4,143 265.5,143.7 265.6,145.4 265.8,141.3 265.9,145.9 266,144 266.1,148 266.3,147.3 266.4,148.5 266.5,148.8 266.6,147.9 266.8,142.4 266.9,150.8 267,145.5 267.1,145.6 267.3,143.5 267.4,140.6 267.5,142.4 267.6,145.6 267.8,142 267.9,152.6 268,141.5 268.1,140.9 268.3,139.5 268.4,140.6 268.5,139.9 268.6,143.6 268.8,150.2 268.9,147.1 269,143.8 269.1,148.3 269.3,147.6 269.4,148.3 269.5,145.6 269.6,148.5 269.8,145 269.9,149.1 270,141.7 270.1,150 270.3,142.1 270.4,147.1 270.5,146.7 270.6,143.4 270.8,134.7 270.9,144.3 271,137.6 271.1,146.9 271.3,140.1 271.4,140.5 271.5,136.3 271.6,139.8 271.8,143.7 271.9,140.3 272,133.9 272.1,138.9 272.3,139.4 272.4,139.4 272.5,143 272.6,134.7 272.8,136.1 272.9,136.9 273,139 273.1,134.6 273.3,136.1 273.4,137.6 273.5,136.6 273.6,136.8 273.8,140 273.9,138.1 274,139.5 274.1,134.4 274.3,141.2 274.4,140.6 274.5,137.8 274.6,138.3 274.8,136.5 274.9,135.4 275,135.1 275.1,141.3 275.3,136.3 275.4,139.6 275.5,133.6 275.6,137.6 275.8,134.8 275.9,133.1 276,145.1 276.1,135.8 276.3,132.8 276.4,132.4 276.5,139.1 276.6,140 276.8,140.5 276.9,142.1 277,140.3 277.1,138.7 277.3,141.4 277.4,139.4 277.5,140.5 277.6,150.2 277.8,148.5 277.9,147.9 278,145.3 278.1,143 278.3,142.7 278.4,150.5 278.5,142.2 278.6,150.2 278.8,141.6 278.9,140.6 279,148 279.1,139.1 279.3,150.6 279.4,145.9 279.5,150.6 279.6,139 279.8,153.3 279.9,147.8 280,152.1 280.1,147.1 280.3,152.5 280.4,148.9 280.5,148.2 280.6,147.4 280.8,150.4 280.9,150.1 281,145.8 281.1,147.2 281.3,152.6 281.4,152.6 281.5,147.9 281.6,147 281.8,155.2 281.9,149 282,148 282.1,145.9 282.3,145.9 282.4,146 282.5,148.9 282.6,150.3 282.8,148.9 282.9,141.1 283,145.8 283.1,152.6 283.3,140.9 283.4,147.4 283.5,146.9 283.6,149.5 283.8,144.8 283.9,140.5 284,142.3 284.1,140.9 284.3,143.7 284.4,141.4 284.5,140.8 284.6,138.7 284.8,143.3 284.9,141.4 285,143.1 285.1,140.5 285.3,138.9 285.4,140.6 285.5,140.6 285.6,138.9 285.8,140.5 285.9,131.5 286,136 286.1,132.9 286.3,134.9 286.4,137.9 286.5,134.5 286.6,136.6 286.8,137.2 286.9,136.2 287,135.7 287.1,135.1 287.3,139.5 287.4,138.1 287.5,138.6 287.6,136.9 287.8,140.6 287.9,139.4 288,139.1 288.1,135.1 288.3,142.7 288.4,142.1 288.5,137.2 288.6,140.6 288.8,134.2 288.9,134.5 289,137.9 289.1,139.5 289.3,136.3 289.4,140.2 289.5,143.8 289.6,146.3 289.8,135.9 289.9,137.6 290,141.1 290.1,140.8 290.3,137.2 290.4,141.5 290.5,143.2 290.6,144.8 290.8,140 290.9,143.5 291,140.6 291.1,140.8 291.3,142.6 291.4,141.5 291.5,143 291.6,141.3 291.8,139.9 291.9,139.4 292,144.4 292.1,142.6 292.3,144.6 292.4,140.4 292.5,151.5 292.6,137.5 292.8,147.9 292.9,140.9 293,144.7 293.1,146.2 293.3,145.3 293.4,147.8 293.5,144.7 293.6,144.7 293.8,148.8 293.9,143.2 294,145.1 294.1,148.7 294.3,147.3 294.4,146.8 294.5,145.6 294.6,148.2 294.8,147 294.9,145.6 295,141.2 295.1,147.6 295.3,146.5 295.4,147.7 295.5,144.2 295.6,149 295.8,143.6 295.9,145.5 296,144.6 296.1,146.3 296.3,143.5 296.4,146.8 296.5,143.3 296.6,148.2 296.8,147.8 296.9,143.7 297,144.3 297.1,144.6 297.3,146.3 297.4,145.2 297.5,146.1 297.6,146.2 297.8,143.8 297.9,147.8 298,146.1 298.1,147.6 298.3,145.6 298.4,145.6 298.5,146.2 298.6,146.6 298.8,142.2 298.9,148.6 299,144.9 299.1,149 299.3,148.2 299.4,149.2 299.5,147.7 299.6,145.6 299.8,147.8 299.9,149.7 300,151.5 300.1,148.1 300.3,150.2 300.4,147.7 300.5,151 300.6,144.1 300.8,141.8 300.9,143.6 301,142.7 301.1,141.7 301.3,144.8 301.4,146.8 301.5,145.1 301.6,141 301.8,144.7 301.9,138.9 302,147.3 302.1,144.3 302.3,142.4 302.4,141.4 302.5,145.4 302.6,142.4 302.8,139.5 302.9,138.6 303,137.1 303.1,139.4 303.3,139.5 303.4,142.9 303.5,138.3 303.6,138.6 303.8,140.1 303.9,137.2 304,141.8 304.1,142 304.3,140.2 304.4,141.7 304.5,138.1 304.6,140.8 304.8,138.3 304.9,140.7 305,138.6 305.1,142.2 305.3,138.6 305.4,137 305.5,140.5 305.6,140 305.8,143 305.9,137.4 306,140.5 306.1,146.5 306.3,143.5 306.4,140.1 306.5,144 306.6,144 306.8,140.2 306.9,144.5 307,145.6 307.1,138.6 307.3,135.8 307.4,141.1 307.5,143.2 307.6,146.2 307.8,143.5 307.9,146.5 308,145.6 308.1,143 308.3,144.3 308.4,143.5 308.5,144.1 308.6,144.2 308.8,145.8 308.9,144.2 309,145.7 309.1,148.3 309.3,147 309.4,147.9 309.5,148.3 309.6,150.8 309.8,150.3 309.9,145.4 310,142.7 310.1,148.2 310.3,150 310.4,149 310.5,153.6 310.6,154.6 310.8,152.2 310.9,151.9 311,152.6 311.1,150.9 311.3,150 311.4,152.5 311.5,147.5 311.6,154 311.8,145.5 311.9,150.6 312,147.7 312.1,148.2 312.3,150.7 312.4,149 312.5,152.2 312.6,146.4 312.8,148.6 312.9,144.2 313,146.4 313.1,141.6 313.3,149.3 313.4,153.9 313.5,145.9 313.6,136.6 313.8,149.5 313.9,146 314,147 314.1,145.6 314.3,150.5 314.4,148.5 314.5,144.3 314.6,148.6 314.8,150.8 314.9,143.5 315,145.4 315.1,146 315.3,149.6 315.4,141.8 315.5,143.5 315.6,150.1 315.8,139.6 315.9,139.9 316,142.4 316.1,141.6 316.3,134.9 316.4,129.5 316.5,140.5 316.6,146.5 316.8,131.5 316.9,138 317,141.6 317.1,137.8 317.3,136.5 317.4,141.7 317.5,143 317.6,141.1 317.8,144.6 317.9,142.6 318,141.1 318.1,136.3 318.3,142.8 318.4,142.3 318.5,148.3 318.6,143.3 318.8,146 318.9,143.1 319,145.6 319.1,147.7 319.3,142 319.4,149.6 319.5,149.4 319.6,148.2 319.8,143.2 319.9,149.7 320,150 320.1,145.8 320.3,142.3 320.4,143.4 320.5,146.8 320.6,141.7 320.8,143.4 320.9,144.5 321,145.7 321.1,144.9 321.3,137.5 321.4,145.5 321.5,145.8 321.6,146.7 321.8,144 321.9,149.5 322,151.1 322.1,147 322.3,144.5 322.4,149 322.5,146.2 322.6,150.3 322.8,147.8 322.9,147.5 323,147.5 323.1,149.7 323.3,152 323.4,148.2 323.5,151 323.6,151.1 323.8,151 323.9,150.4 324,151.1 324.1,148.3 324.3,149.9 324.4,150.1 324.5,150 324.6,148.1 324.8,149.8 324.9,148.1 325,148.5 325.1,145.2 325.3,146.7 325.4,146.6 325.5,149.2 325.6,150.3 325.8,146.9 325.9,149.6 326,146.2 326.1,149.8 326.3,146.7 326.4,147.7 326.5,143.5 326.6,149 326.8,147.1 326.9,143.8 327,146.9 327.1,145.7 327.3,144 327.4,149.1 327.5,146.7 327.6,150.4 327.8,149.7 327.9,149.9 328,150.9 328.1,152.3 328.3,149.1 328.4,153.6 328.5,155.6 328.6,153.9 328.8,155.8 328.9,149.4 329,151.8 329.1,152.1 329.3,154.5 329.4,150.1 329.5,151.9 329.6,148.7 329.8,149.4 329.9,149.3 330,155.3 330.1,141.4 330.3,142.9 330.4,147.5 330.5,143.6 330.6,146.6 330.8,144.6 330.9,150.1 331,138.9 331.1,147.6 331.3,152 331.4,146.4 331.5,146.9 331.6,147 331.8,146.8 331.9,143.8 332,144.1 332.1,145.2 332.3,138.1 332.4,141.3 332.5,136.6 332.6,140.8 332.8,142.2 332.9,145.6 333,146.2 333.1,140.2 333.3,140.9 333.4,139.5 333.5,142.7 333.6,140.2 333.8,144.1 333.9,134.3 334,134.3 334.1,144.3 334.3,132.8 334.4,139.9 334.5,136.1 334.6,135.3 334.8,136.3 334.9,135.4 335,137.2 335.1,134.5 335.3,135.8 335.4,134.9 335.5,133.8 335.6,134.6 335.8,135.1 335.9,138.2 336,140.4 336.1,138.2 336.3,139.1 336.4,140.8 336.5,138.8 336.6,139.7 336.8,143.1 336.9,144 337,144.8 337.1,142.5 337.3,146.7 337.4,145.9 337.5,141.5 337.6,143.1 337.8,145.9 337.9,146.4 338,148.8 338.1,149.7 338.3,144.3 338.4,143.6 338.5,142.2 338.6,143.1 338.8,145.7 338.9,149.8 339,145.4 339.1,144.7 339.3,144 339.4,149.3 339.5,145.1 339.6,142.7 339.8,147 339.9,143.1 340,142.9 340.1,145.8 340.3,147.8 340.4,148.8 340.5,145.2 340.6,142 340.8,144.1 340.9,143 341,141.6 341.1,147.6 341.3,146.3 341.4,141.8 341.5,139.1 341.6,141.2 341.8,141.6 341.9,138.1 342,139.6 342.1,139.3 342.3,135.7 342.4,145.1 342.5,137 342.6,142.8 342.8,142.1 342.9,132.8 343,137.2 343.1,135.7 343.3,131.9 343.4,136 343.5,142.4 343.6,142.1 343.8,133.3 343.9,122.4 344,132.4 344.1,134 344.3,135.9 344.4,126.9 344.5,127.9 344.6,143.5 344.8,135.2 344.9,138.4 345,137.6 345.1,133.2 345.3,141.6 345.4,151.7 345.5,141.5 345.6,139.6 345.8,141.7 345.9,145.1 346,141.5 346.1,144.5 346.3,144.8 346.4,144.4 346.5,150.2 346.6,151.7 346.8,145.6 346.9,145.6 347,157.1 347.1,147.7 347.3,149.9 347.4,146.4 347.5,145.4 347.6,155.2 347.8,151.9 347.9,149.2 348,145.9 348.1,153.1 348.3,150.3 348.4,152.3 348.5,152 348.6,148.1 348.8,148.5 348.9,148.5 349,148.9 349.1,145.8 349.3,149.3 349.4,152.4 349.5,152.9 349.6,145.9 349.8,158.1 349.9,142.2 350,141.5 350.1,147.4 350.3,146.9 350.4,151.1 350.5,154.5 350.6,144.1 350.8,146.7 350.9,152.8 351,154.4 351.1,147.7 351.3,146.6 351.4,149.4 351.5,149.5 351.6,143.5 351.8,151.8 351.9,145.8 352,145.9 352.1,142.1 352.3,144.9 352.4,144.5 352.5,149 352.6,140.2 352.8,142.5 352.9,137.9 353,140.6 353.1,141.1 353.3,150.4 353.4,134.3 353.5,137.7 353.6,146 353.8,140.6 353.9,143.6 354,133.4 354.1,135.3 354.3,134.6 354.4,142.1 354.5,143.1 354.6,136.4 354.8,136.2 354.9,129.4 355,137.9 355.1,142.3 355.3,140.3 355.4,134.2 355.5,134.8 355.6,135.1 355.8,133.4 355.9,136 356,131.7 356.1,136.9 356.3,134.9 356.4,135.6 356.5,135.7 356.6,134.2 356.8,134.4 356.9,135.5 357,136.1 357.1,134.1 357.3,138.4 357.4,135.6 357.5,134.9 357.6,136.8 357.8,137.7 357.9,139.2 358,137.9 358.1,140.2 358.3,139.1 358.4,139.5 358.5,138.1 358.6,136.1 358.8,140.1 358.9,139.8 359,137.4 359.1,139.1 359.3,138.1 359.4,138.2 359.5,140.9 359.6,136.6 359.8,142.3 359.9,139.6 360,140.9 360.1,140.3 360.3,137.5 360.4,134.7 360.5,140.2 360.6,136.5 360.8,137.1 360.9,138.5 361,140.1 361.1,137.6 361.3,140.6 361.4,138.4 361.5,139.3 361.6,141.3 361.8,141.4 361.9,138.6 362,140.1 362.1,141.2 362.3,141.2 362.4,139.2 362.5,141.5 362.6,136.5 362.8,142.4 362.9,138.6 363,138.8 363.1,139.5 363.3,138.9 363.4,141.9 363.5,140.1 363.6,140.8 363.8,142 363.9,141.8 364,140.5 364.1,143.1 364.3,141.7 364.4,139.6 364.5,141.6 364.6,138.5 364.8,138.2 364.9,142.3 365,138.3 365.1,141.3 365.3,144.1 365.4,143.2 365.5,143.4 365.6,141.3 365.8,142.8 365.9,144 366,144.5 366.1,146.3 366.3,141.3 366.4,146.7 366.5,142.1 366.6,140.8 366.8,142.8 366.9,142.5 367,145 367.1,140 367.3,141.5 367.4,143.6 367.5,142 367.6,140.1 367.8,140.8 367.9,142 368,142.2 368.1,142.3 368.3,142.8 368.4,138.9 368.5,137.8 368.6,141 368.8,140.4 368.9,141.7 369,140.1 369.1,145.5 369.3,145.2 369.4,140.9 369.5,143.8 369.6,136.1 369.8,148 369.9,147.3 370,142.4 370.1,142 370.3,141.2 370.4,145.6 370.5,143.9 370.6,143.9 370.8,141.9 370.9,141.8 371,146.1 371.1,145.8 371.3,141.2 371.4,145.3 371.5,139.9 371.6,142.2 371.8,136.7 371.9,138.8 372,139.5 372.1,136.5 372.3,135.2 372.4,136.7 372.5,141.7 372.6,136.1 372.8,141.4 372.9,138.3 373,131.1 373.1,140.7 373.3,133.5 373.4,139.2 373.5,138.3 373.6,134 373.8,138.3 373.9,136.6 374,136.6 374.1,136.3 374.3,133.9 374.4,135.2 374.5,134.3 374.6,135.3 374.8,134.9 374.9,133.6 375,134.8 375.1,130.6 375.3,137.5 375.4,138 375.5,133.5 375.6,139.9 375.8,142.2 375.9,135.6 376,140 376.1,138.1 376.3,137.2 376.4,137.9 376.5,139.7 376.6,142.1 376.8,141.1 376.9,139 377,139.9 377.1,139.6 377.3,143.6 377.4,137.3 377.5,141.4 377.6,138.9 377.8,140.5 377.9,140.5 378,139.2 378.1,145.7 378.3,143.4 378.4,141.5 378.5,143.7 378.6,144.8 378.8,141.1 378.9,143.5 379,145.7 379.1,145.4 379.3,143.8 379.4,146.8 379.5,145 379.6,144.8 379.8,144.2 379.9,148.6 380,148.2 380.1,147.7 380.3,145.4 380.4,148.1 380.5,144.3 380.6,145.9 380.8,146.4 380.9,145.1 381,144.8 381.1,145 381.3,145 381.4,144.6 381.5,143.8 381.6,142.8 381.8,141.5 381.9,141.5 382,143.7 382.1,145.7 382.3,143 382.4,142.9 382.5,144.2 382.6,143 382.8,142.7 382.9,142.7 383,143.6 383.1,142.7 383.3,142.9 383.4,145.2 383.5,146.8 383.6,142 383.8,143.7 383.9,143.7 384,146.6 384.1,145.7 384.3,146.2 384.4,146 384.5,143.3 384.6,144 384.8,146.5 384.9,147.2 385,143.9 385.1,147.6 385.3,142.5 385.4,143.1 385.5,141.3 385.6,143.6 385.8,142.2 385.9,140.3 386,146 386.1,139.9 386.3,144.2 386.4,143 386.5,143.3 386.6,142.3 386.8,141.7 386.9,142.7 387,141.4 387.1,144.2 387.3,143.8 387.4,143.7 387.5,142 387.6,141.5 387.8,143.8 387.9,143.9 388,142.7 388.1,142.4 388.3,142.9 388.4,143.3 388.5,142 388.6,140.6 388.8,140.2 388.9,140.2 389,143.2 389.1,144.3 389.3,141.2 389.4,140.1 389.5,140.4 389.6,141.9 389.8,140 389.9,141.6 390,140.4 390.1,142.6 390.3,141.9 390.4,140.8 390.5,142.4 390.6,141 390.8,143.3 390.9,141.2 391,142.7 391.1,141.3 391.3,142 391.4,142.4 391.5,140.5 391.6,142 391.8,142.7 391.9,138.7 392,141.2 392.1,138.8 392.3,140.7 392.4,138.8 392.5,138.9 392.6,135.7 392.8,139.7 392.9,137.6 393,139.8 393.1,140.9 393.3,135.1 393.4,140.9 393.5,136.6 393.6,139.3 393.8,137.7 393.9,139.1 394,135.9 394.1,135.2 394.3,135.6 394.4,135.4 394.5,138 394.6,136.9 394.8,138.7 394.9,140.1 395,135.5 395.1,136 395.3,135.3 395.4,137.9 395.5,135.7 395.6,133.8 395.8,136.9 395.9,137.4 396,134.3 396.1,134.5 396.3,136 396.4,135.5 396.5,137.9 396.6,135.8 396.8,136.3 396.9,134.1 397,136.3 397.1,137.3 397.3,137.4 397.4,142.7 397.5,137.4 397.6,139.3 397.8,140.5 397.9,140.2 398,138.4 398.1,139.8 398.3,138.6 398.4,142.8 398.5,139.7 398.6,142.5 398.8,137.8 398.9,138.8 399,139 399.1,141.7 399.3,142.5 399.4,144 399.5,143.3 399.6,141 399.8,147.9 399.9,139.2 400,141.6 400.1,147.1 400.3,145 400.4,142.9 400.5,145.3 400.6,137.7 400.8,143.1 400.9,144.8 401,145.7 401.1,144.4 401.3,149.1 401.4,145.9 401.5,146 401.6,155.2 401.8,150.4 401.9,149.4 402,148.9 402.1,151.4 402.3,151.2 402.4,155.9 402.5,151.9 402.6,150 402.8,156.1 402.9,152.3 403,155 403.1,150.3 403.3,146.6 403.4,149.3 403.5,146.7 403.6,148 403.8,154.5 403.9,150.5 404,154.3 404.1,153.4 404.3,145.6 404.4,147.1 404.5,146.3 404.6,149 404.8,150.6 404.9,149.5 405,142.8 405.1,143.2 405.3,145.3 405.4,143.7 405.5,138.6 405.6,144.8 405.8,145.1 405.9,138.5 406,135.9 406.1,140.2 406.3,139.8 406.4,142.3 406.5,141 406.6,139.9 406.8,140.4 406.9,139.2 407,139 407.1,136.7 407.3,142 407.4,139.5 407.5,137.6 407.6,139.7 407.8,142.1 407.9,144.1 408,133.5 408.1,140 408.3,138.7 408.4,134.8 408.5,138.3 408.6,136.5 408.8,140.7 408.9,139.6 409,136.7 409.1,137.3 409.3,134 409.4,141.4 409.5,144.5 409.6,142 409.8,147.3 409.9,141.7 410,142.1 410.1,142.8 410.3,142.8 410.4,144.8 410.5,142.6 410.6,143.1 410.8,145.4 410.9,140.5 411,147 411.1,144.4 411.3,141.7 411.4,140.3 411.5,147.6 411.6,146.9 411.8,143.6 411.9,146.5 412,146.2 412.1,146.9 412.3,144.9 412.4,141.9 412.5,139.4 412.6,141.9 412.8,143.7 412.9,149.9 413,142.8 413.1,145.1 413.3,145 413.4,144.9 413.5,143.9 413.6,143.1 413.8,144.8 413.9,145.7 414,148 414.1,138.3 414.3,142.8 414.4,147 414.5,142 414.6,143.6 414.8,141.5 414.9,140.4 415,143.2 415.1,143.3 415.3,148.1 415.4,143.9 415.5,141.6 415.6,144.2 415.8,147 415.9,144.9 416,143.8 416.1,148.7 416.3,146.2 416.4,141.7 416.5,147.7 416.6,148 416.8,145.6 416.9,144.2 417,146.7 417.1,142.8 417.3,145.8 417.4,135.7 417.5,140.2 417.6,143.8 417.8,142.8 417.9,142.2 418,139.6 418.1,139.6 418.3,142.4 418.4,143 418.5,146.5 418.6,144.1 418.8,140.2 418.9,141.3 419,143.2 419.1,145.3 419.3,142 419.4,144 419.5,139.7 419.6,143.1 419.8,142.4 419.9,142.3 420,141 420.1,139.2 420.3,139.6 420.4,143.4 420.5,139.8 420.6,136.7 420.8,141.1 420.9,137.2 421,138.4 421.1,138.3 421.3,141.8 421.4,139.6 421.5,140.2 421.6,140.3 421.8,143.7 421.9,143.6 422,140.3 422.1,138.4 422.3,141 422.4,141 422.5,134.6 422.6,142.3 422.8,138.3 422.9,145.3 423,147.3 423.1,141.9 423.3,143.8 423.4,140.9 423.5,143.5 423.6,145.4 423.8,147.8 423.9,141.2 424,143.5 424.1,141 424.3,144.2 424.4,138.2 424.5,141.4 424.6,143.4 424.8,143.6 424.9,143.7 425,145.1 425.1,139.9 425.3,143.8 425.4,142.6 425.5,145.3 425.6,147 425.8,149.2 425.9,145.8 426,147.2 426.1,148.8 426.3,144.6 426.4,146.9 426.5,146.6 426.6,147.1 426.8,146.4 426.9,145 427,152 427.1,147.7 427.3,147.3 427.4,149.5 427.5,144.7 427.6,146.8 427.8,149.6 427.9,144.8 428,147.6 428.1,146.2 428.3,149.6 428.4,144.6 428.5,144.2 428.6,146.8 428.8,142.6 428.9,142.6 429,143.9 429.1,146.5 429.3,145 429.4,146 429.5,143.1 429.6,145.5 429.8,144.6 429.9,146.2 430,145.7 430.1,146.3 430.3,146.5 430.4,143.9 430.5,147.2 430.6,145 430.8,146 430.9,147.4 431,145.7 431.1,143.7 431.3,145.9 431.4,145 431.5,147.2 431.6,143.5 431.8,150 431.9,145.3 432,145.7 432.1,145.2 432.3,148.5 432.4,147 432.5,145.7 432.6,144.9 432.8,149.5 432.9,149 433,147.1 433.1,147.1 433.3,149.6 433.4,147.1 433.5,149.2 433.6,148.6 433.8,148.9 433.9,143.5 434,147.2 434.1,148.4 434.3,143 434.4,145.7 434.5,140.9 434.6,138.7 434.8,146.8 434.9,147.1 435,142.6 435.1,142.1 435.3,138.7 435.4,142.1 435.5,144.6 435.6,140.6 435.8,139.9 435.9,141.2 436,140.4 436.1,141.4 436.3,140.4 436.4,141.7 436.5,139.1 436.6,140.8 436.8,140.7 436.9,144.3 437,140.3 437.1,140.1 437.3,141.1 437.4,139.8 437.5,143.8 437.6,137.8 437.8,140.2 437.9,140.5 438,141.9 438.1,138.3 438.3,140.8 438.4,141.8 438.5,143.2 438.6,139.7 438.8,140 438.9,139.8 439,137.5 439.1,139.6 439.3,140.6 439.4,142.4 439.5,141.2 439.6,142.3 439.8,140.5 439.9,142.2 440,140.7 440.1,144 440.3,144.2 440.4,142.2 440.5,145.1 440.6,146.4 440.8,143.6 440.9,146.4 441,146.5 441.1,144.6 441.3,139 441.4,147.3 441.5,142.4 441.6,146.8 441.8,149.3 441.9,145.6 442,145 442.1,145.3 442.3,147.9 442.4,143.1 442.5,140.4 442.6,153.2 442.8,148.7 442.9,145.6 443,147.5 443.1,140.6 443.3,144.8 443.4,150.6 443.5,150.3 443.6,149.4 443.8,141.7 443.9,142.6 444,149.2 444.1,147.3 444.3,150.1 444.4,144.3 444.5,147.9 444.6,149.1 444.8,150.1 444.9,151.2 445,148 445.1,148.7 445.3,148.5 445.4,149.5 445.5,149.6 445.6,153.1 445.8,149.3 445.9,148.9 446,149.1 446.1,154.2 446.3,148.5 446.4,154.3 446.5,147.3 446.6,152.2 446.8,141.9 446.9,151.7 447,154.5 447.1,145.1 447.3,137.7 447.4,143.1 447.5,146.6 447.6,148.5 447.8,138 447.9,143.6 448,145.9 448.1,146.3 448.3,140.1 448.4,139.5 448.5,139.6 448.6,137.8 448.8,140.6 448.9,140.7 449,144 449.1,135.9 449.3,141.7 449.4,139.7 449.5,138.9 449.6,142.6 449.8,142.5 449.9,139.4 450,141.9 450.1,142.7 450.3,145.2 450.4,142.1 450.5,143.8 450.6,143.8 450.8,142.5 450.9,143 451,138.9 451.1,141.9 451.3,141.7 451.4,146.4 451.5,142.7 451.6,139.4 451.8,139.8 451.9,140 452,142.5 452.1,140.1 452.3,145.4 452.4,144 452.5,147 452.6,143.7 452.8,144.5 452.9,142.9 453,147.4 453.1,150.8 453.3,144.7 453.4,144.9 453.5,143.8 453.6,143.1 453.8,143.6 453.9,144.6 454,148.7 454.1,144.4 454.3,138.3 454.4,142.4 454.5,140.6 454.6,142.3 454.8,143.1 454.9,145.1 455,141.3 455.1,141.3 455.3,145.1 455.4,148.6 455.5,141.8 455.6,146.5 455.8,144.9 455.9,151.3 456,146.2 456.1,151 456.3,147.3 456.4,151.3 456.5,147.1 456.6,147.5 456.8,147.1 456.9,149.5 457,143.5 457.1,147.2 457.3,144.7 457.4,149.2 457.5,147.6 457.6,144.8 457.8,148.6 457.9,144.4 458,143.5 458.1,144.6 458.3,145.3 458.4,143.7 458.5,139.5 458.6,143.1 458.8,150 458.9,142.3 459,141.8 459.1,142.4 459.3,141 459.4,142.3 459.5,138.7 459.6,142.2 459.8,141 459.9,142.8 460,146 460.1,144.6 460.3,141.3 460.4,144.3 460.5,146.3 460.6,144 460.8,145.4 460.9,145.8 461,144.2 461.1,143.1 461.3,142.4 461.4,146.8 461.5,145.4 461.6,146.2 461.8,145.3 461.9,143.6 462,145.3 462.1,143.5 462.3,141 462.4,142.6 462.5,142.1 462.6,142.3 462.8,144.7 462.9,143.3 463,140.8 463.1,141.3 463.3,144 463.4,142.3 463.5,141.4 463.6,143.5 463.8,142.3 463.9,141.5 464,141 464.1,143.5 464.3,144.8 464.4,140.4 464.5,142.4 464.6,144.5 464.8,146 464.9,141.2 465,144.5 465.1,145.3 465.3,146 465.4,142.6 465.5,146.9 465.6,148.3 465.8,148.5 465.9,149.7 466,145.8 466.1,147.8 466.3,147.8 466.4,146.4 466.5,147.4 466.6,147.2 466.8,144.6 466.9,147.3 467,145.2 467.1,145.1 467.3,144.2 467.4,145.5 467.5,145 467.6,146.9 467.8,146.8 467.9,144.2 468,145.1 468.1,147.5 468.3,146.1 468.4,145.9 468.5,152.1 468.6,149.9 468.8,150.2 468.9,150 469,149.2 469.1,154.1 469.3,153.7 469.4,150.6 469.5,148.9 469.6,152.7 469.8,153.4 469.9,152.1 470,150.6 470.1,151.1 470.3,150.6 470.4,151.8 470.5,149.1 470.6,149.8 470.8,148.7 470.9,148.4 471,147.2 471.1,146.5 471.3,147.6 471.4,147 471.5,147 471.6,144 471.8,142.8 471.9,146.2 472,144.5 472.1,148.4 472.3,142.2 472.4,145.5 472.5,147.8 472.6,145.7 472.8,144.9 472.9,142.5 473,142.5 473.1,146.3 473.3,144.2 473.4,146.7 473.5,144.8 473.6,141.4 473.8,138.2 473.9,144.8 474,143.9 474.1,144.1 474.3,145 474.4,146.6 474.5,144.5 474.6,140.9 474.8,145.3 474.9,145.4 475,146.7 475.1,144.2 475.3,147.1 475.4,148 475.5,144.7 475.6,142.8 475.8,150 475.9,145.2 476,148 476.1,147.8 476.3,148.6 476.4,150 476.5,150.4 476.6,150.6 476.8,155.1 476.9,150.1 477,150.1 477.1,149.6 477.3,151.5 477.4,154.7 477.5,155.2 477.6,153.7 477.8,154.6 477.9,147.8 478,149.8 478.1,151.9 478.3,152.4 478.4,157.5 478.5,156.1 478.6,155.2 478.8,154.1 478.9,154.9 479,155.5 479.1,156.7 479.3,160.6 479.4,155.8 479.5,152.3 479.6,155.3 479.8,159.5 479.9,153.6 480,154.3 480.1,159.4 480.3,156.3 480.4,159.9 480.5,161.6 480.6,164.1 480.8,162 480.9,164.2 481,160.4 481.1,159.9 481.3,163.4 481.4,156.2 481.5,166.7 481.6,161.9 481.8,164 481.9,162.7 482,163.9 482.1,163.4 482.3,159.1 482.4,160.6 482.5,151.6 482.6,156 482.8,153.3 482.9,158.5 483,157.2 483.1,154.5 483.3,164 483.4,165 483.5,158.7 483.6,151.4 483.8,158.1 483.9,152.8 484,153 484.1,154.6 484.3,156.7 484.4,144.1 484.5,157.4 484.6,154.7 484.8,145.3 484.9,153.4 485,148.5 485.1,149.3 485.3,152.6 485.4,145.7 485.5,147.9 485.6,150.3 485.8,161.2 485.9,148.4 486,154.2 486.1,147.3 486.3,158 486.4,141 486.5,153.2 486.6,149 486.8,148.6 486.9,146 487,143.5 487.1,145 487.3,153.8 487.4,147 487.5,148.1 487.6,148.4 487.8,148.9 487.9,154.2 488,144.9 488.1,147.7 488.3,149.6 488.4,140.4 488.5,149.4 488.6,147.5 488.8,147.5 488.9,145.4 489,145.6 489.1,146.5 489.3,147.6 489.4,141.1 489.5,148.8 489.6,148.3 489.8,149 489.9,146.4 490,142 490.1,150.5 490.3,138.8 490.4,148.3 490.5,141.6 490.6,149.3 490.8,150.7 490.9,145.1 491,140.1 491.1,139.7 491.3,146.8 491.4,146.4 491.5,140.9 491.6,144.7 491.8,143.4 491.9,146.7 492,145.3 492.1,141.9 492.3,140.9 492.4,136.3 492.5,142.6 492.6,143.3 492.8,140.9 492.9,141.5 493,151.8 493.1,140.9 493.3,138.8 493.4,143.8 493.5,141.3 493.6,147.6 493.8,145.3 493.9,144.3 494,140.8 494.1,143.9 494.3,147.2 494.4,149.5 494.5,148.9 494.6,151.7 494.8,148.9 494.9,149.6 495,145.2 495.1,145.4 495.3,149.5 495.4,148 495.5,145.8 495.6,150.9 495.8,147.1 495.9,150.7 496,155.2 496.1,150.2 496.3,145.9 496.4,151.4 496.5,150.8 496.6,152.4 496.8,151.7 496.9,151.6 497,152.7 497.1,151.9 497.3,152.3 497.4,153.1 497.5,152.2 497.6,149.3 497.8,153.6 497.9,147.5 498,152.2 498.1,148.5 498.3,150.5 498.4,147.5 498.5,146.4 498.6,142.5 498.8,146.9 498.9,144.6 499,144.4 499.1,147 499.3,148 499.4,146.3 499.5,145.9 499.6,150.6 499.8,147.4 499.9,143.7 500,147.3 500.1,140.9 500.3,141.7 500.4,144.8 500.5,144.5 500.6,142.8 500.8,146.7 500.9,142.1 501,139.7 501.1,135.3 501.3,139.7 501.4,138.3 501.5,142 501.6,138.6 501.8,134.1 501.9,139.6 502,137.3 502.1,127.4 502.3,135.9 502.4,135.9 502.5,133.9 502.6,137.7 502.8,137.1 502.9,136.5 503,137.6 503.1,134.1 503.3,141.8 503.4,139.2 503.5,144.2 503.6,133.8 503.8,141.1 503.9,140.7 504,135.4 504.1,139.4 504.3,137.5 504.4,135.6 504.5,126 504.6,145.7 504.8,139.3 504.9,136.6 505,132.2 505.1,137.4 505.3,140.4 505.4,147.5 505.5,139.7 505.6,142.8 505.8,144.8 505.9,138.4 506,145.2 506.1,144.7 506.3,145.4 506.4,141.5 506.5,147.3 506.6,144.5 506.8,145.2 506.9,146 507,144.6 507.1,149.7 507.3,147.9 507.4,147.9 507.5,145.8 507.6,144.8 507.8,140.4 507.9,143.3 508,141.3 508.1,151.5 508.3,146.8 508.4,143.5 508.5,144.8 508.6,147.8 508.8,148 508.9,152.3 509,146.2 509.1,146.1 509.3,150.1 509.4,144.8 509.5,151.7 509.6,149.5 509.8,143.7 509.9,143.3 510,137.7 510.1,144.2 510.3,144.8 510.4,142.8 510.5,145.4 510.6,140.3 510.8,143.2 510.9,139.8 511,141.6 511.1,140.5 511.3,139.9 511.4,143 511.5,147.8 511.6,141.2 511.8,144.8 511.9,140.9 512,142.3 512.1,143.1 512.3,146.6 512.4,138.7 512.5,145.9 512.6,148.7 512.8,145.3 512.9,138.8 513,145.6 513.1,138 513.3,140.1 513.4,139.3 513.5,139.4 513.6,139.8 513.8,133.9 513.9,134.4 514,136.4 514.1,139.1 514.3,135.3 514.4,133.6 514.5,140.8 514.6,143.5 514.8,142 514.9,135.6 515,136.4 515.1,135.1 515.3,138.4 515.4,136.4 515.5,137.2 515.6,139.7 515.8,136.7 515.9,139.3 516,142 516.1,138.8 516.3,136.7 516.4,135.5 516.5,138.2 516.6,138 516.8,135.5 516.9,134.6 517,136.3 517.1,133.7 517.3,140.2 517.4,136.5 517.5,141.9 517.6,137.1 517.8,130.9 517.9,138.4 518,139.8 518.1,131.7 518.3,141.4 518.4,137.9 518.5,145.6 518.6,142.9 518.8,140.9 518.9,144.4 519,144.3 519.1,145 519.3,136.9 519.4,141.7 519.5,144.5 519.6,148.5 519.8,145.1 519.9,143.3 520,144 520.1,149.9 520.3,147.2 520.4,145.3 520.5,146.9 520.6,147.1 520.8,142.9 520.9,147 521,144.8 521.1,150.6 521.3,145.7 521.4,147.9 521.5,142.7 521.6,144.3 521.8,144.9 521.9,143.5 522,143.1 522.1,144.2 522.3,149.1 522.4,142.9 522.5,147.5 522.6,144.8 522.8,147.8 522.9,143.3 523,144.6 523.1,143.2 523.3,140.7 523.4,141.7 523.5,144 523.6,138.5 523.8,141.1 523.9,144.6 524,142.6 524.1,144.3 524.3,144.3 524.4,143.4 524.5,146 524.6,144.4 524.8,141.2 524.9,141.8 525,142.2 525.1,138.7 525.3,140 525.4,139.3 525.5,137.8 525.6,139.3 525.8,138.1 525.9,138.4 526,137.7 526.1,137.4 526.3,135.7 526.4,138 526.5,137.2 526.6,137.8 526.8,137 526.9,139.8 527,138.7 527.1,139.9 527.3,140.5 527.4,141.3 527.5,139.1 527.6,142.8 527.8,140.9 527.9,141.8 528,143.7 528.1,142.4 528.3,143.8 528.4,145.3 528.5,142.3 528.6,147.8 528.8,141.6 528.9,141.8 529,150.6 529.1,141.7 529.3,146 529.4,147.1 529.5,149.9 529.6,138.2 529.8,146.5 529.9,150.2 530,147.3 530.1,149.6 530.3,142.9 530.4,147.6 530.5,142 530.6,147.1 530.8,150.2 530.9,153.8 531,148.2 531.1,147.1 531.3,148.6 531.4,146.9 531.5,146.9 531.6,144.3 531.8,151.4 531.9,148.8 532,151 532.1,148.5 532.3,152.2 532.4,150.3 532.5,148.5 532.6,150.5 532.8,147.7 532.9,152.2 533,147 533.1,147.6 533.3,147.7 533.4,146.1 533.5,148 533.6,145.8 533.8,151.3 533.9,149.3 534,145.2 534.1,149.8 534.3,143.7 534.4,149.3 534.5,144 534.6,142 534.8,145.1 534.9,146 535,146.3 535.1,145.3 535.3,145.8 535.4,144.3 535.5,141.8 535.6,148.2 535.8,148.2 535.9,136.4 536,144.4 536.1,143.3 536.3,145.4 536.4,142.2 536.5,140.9 536.6,143.5 536.8,146.5 536.9,142.6 537,141.7 537.1,141.1 537.3,138.5 537.4,144.2 537.5,144.3 537.6,138.6 537.8,143.7 537.9,137.2 538,137.8 538.1,140.8 538.3,140.8 538.4,141.5 538.5,144.4 538.6,142.5 538.8,140.1 538.9,141.9 539,139.9 539.1,140.6 539.3,143.3 539.4,141.9 539.5,139.3 539.6,139.8 539.8,138.1 539.9,135.8 540,134.7 540.1,134 540.3,135.8 540.4,131.2 540.5,134.2 540.6,133.5 540.8,135.5 540.9,134.3 541,136 541.1,133.3 541.3,133.4 541.4,136.3 541.5,131.7 541.6,132.9 541.8,137.3 541.9,132.5 542,135.9 542.1,134.5 542.3,134.5 542.4,133.4 542.5,136.5 542.6,136 542.8,134.5 542.9,134.4 543,136.1 543.1,135.7 543.3,135.8 543.4,133.5 543.5,134.9 543.6,137.2 543.8,133.1 543.9,131.6 544,135.6 544.1,132.1 544.3,132.9 544.4,130.7 544.5,129.1 544.6,139.8 544.8,136.2 544.9,132.6 545,135.2 545.1,140.8 545.3,139.1 545.4,139.1 545.5,138.2 545.6,139 545.8,137.7 545.9,141.4 546,141.2 546.1,142.8 546.3,137.9 546.4,140.6 546.5,142.3 546.6,141.8 546.8,143.7 546.9,144.7 547,146.9 547.1,140.6 547.3,141.1 547.4,139.9 547.5,143.4 547.6,143.7 547.8,140.9 547.9,142.3 548,144 548.1,146.9 548.3,147.8 548.4,144.4 548.5,149 548.6,146.4 548.8,146.1 548.9,149 549,148.5 549.1,150.8 549.3,149.5 549.4,147.4 549.5,147.8 549.6,147.9 549.8,144.5 549.9,143 550,147.7 550.1,148.9 550.3,144.3 550.4,141.7 550.5,144.6 550.6,149 550.8,146.5 550.9,144.2 551,142.5 551.1,145.4 551.3,142 551.4,141.3 551.5,142.5 551.6,140 551.8,138.1 551.9,141.3 552,140.9 552.1,138.1 552.3,138.4 552.4,136.2 552.5,144.1 552.6,139.1 552.8,139.1 552.9,139.3 553,140.1 553.1,128.8 553.3,134.8 553.4,138.9 553.5,135.5 553.6,130.2 553.8,135 553.9,132.6 554,135 554.1,137.8 554.3,133.4 554.4,133.8 554.5,136.6 554.6,134.9 554.8,134.9 554.9,133.3 555,128 555.1,129 555.3,135.7 555.4,124.5 555.5,124.6 555.6,130.4 555.8,130 555.9,123.9 556,131 556.1,124.9 556.3,124.2 556.4,129.7 556.5,117.5 556.6,122.9 556.8,128.6 556.9,124.9 557,123 557.1,123.5 557.3,122 557.4,125.1 557.5,125.7 557.6,116.5 557.8,120.7 557.9,122 558,121.9 558.1,124.9 558.3,118.8 558.4,123.7 558.5,119.2 558.6,119.2 558.8,121.1 558.9,114.9 559,121.9 559.1,116.2 559.3,115.7 559.4,120.6 559.5,120.2 559.6,116.9 559.8,117.8 559.9,117.5 560,115.9 560.1,117.7 560.3,118.8 560.4,120.2 560.5,119.1 560.6,118 560.8,119.5 560.9,117.8 561,118.2 561.1,119 561.3,118 561.4,120.2 561.5,118.9 561.6,117 561.8,118.3 561.9,117.4 562,117.9 562.1,116.2 562.3,120 562.4,117.4 562.5,120.3 562.6,118.9 562.8,119.1 562.9,116.5 563,118.3 563.1,121.8 563.3,118.3 563.4,121.2 563.5,122.5 563.6,120.6 563.8,121 563.9,119 564,122.1 564.1,121.3 564.3,120 564.4,115.9 564.5,121.1 564.6,119.7 564.8,122.4 564.9,123.4 565,122.2 565.1,124.5 565.3,125.1 565.4,124.4 565.5,122.8 565.6,122.9 565.8,123.6 565.9,128.5 566,127.2 566.1,123.6 566.3,121.1 566.4,123.3 566.5,124.9 566.6,124.6 566.8,119.7 566.9,120.3 567,123 567.1,120.6 567.3,121.4 567.4,120.5 567.5,119 567.6,116.1 567.8,118.9 567.9,118.8 568,120.5 568.1,119.4 568.3,121.1 568.4,124.4 568.5,120.9 568.6,119.5 568.8,119.8 568.9,126.7 569,122.9 569.1,119 569.3,125 569.4,122.5 569.5,120.3 569.6,119.3 569.8,123.6 569.9,118.4 570,121.4 570.1,125.5 570.3,120.6 570.4,123.6 570.5,119.7 570.6,118.5 570.8,122.6 570.9,122.7 571,125.8 571.1,121.2 571.3,120.6 571.4,124 571.5,118.5 571.6,125.7 571.8,122.9 571.9,120.6 572,124.3 572.1,122.3 572.3,123.2 572.4,121 572.5,120.6 572.6,124.3 572.8,120.4 572.9,121.1 573,127.1 573.1,122.7 573.3,124.9 573.4,120.8 573.5,124.3 573.6,122.4 573.8,126.9 573.9,124 574,124.7 574.1,121.8 574.3,122.2 574.4,123.5 574.5,123.1 574.6,123 574.8,123.1 574.9,124 575,122.4 575.1,123.6 575.3,119.7 575.4,122.6 575.5,122.7 575.6,118.7 575.8,122.4 575.9,122.4 576,120.9 576.1,123 576.3,123.7 576.4,125.1 576.5,122.3 576.6,124.3 576.8,128.1 576.9,130 577,129.6 577.1,124.2 577.3,122.8 577.4,125.8 577.5,125.8 577.6,125.4 577.8,124.8 577.9,121.9 578,119.4 578.1,126.7 578.3,126 578.4,120.5 578.5,123.3 578.6,119 578.8,125.6 578.9,119.5 579,124.8 579.1,124 579.3,122.9 579.4,124 579.5,122.9 579.6,121.5 579.8,124.2 579.9,124.6 580,124 580.1,120.7 580.3,121.8 580.4,124.8 580.5,121.1 580.6,122.3 580.8,123.6 580.9,119.8 581,122.5 581.1,120.6 581.3,122.5 581.4,117.1 581.5,123.4 581.6,121.4 581.8,126.6 581.9,126 582,118.3 582.1,119.7 582.3,124.3 582.4,122.6 582.5,126.3 582.6,127.4 582.8,128.9 582.9,126.9 583,126.5 583.1,134.7 583.3,127.4 583.4,127.2 583.5,123.8 583.6,133.8 583.8,133.8 583.9,136.1 584,134.3 584.1,132.2 584.3,140.5 584.4,139.2 584.5,136.2 584.6,137.3 584.8,140.6 584.9,139.8 585,142.2 585.1,142.3 585.3,141.9 585.4,140.9 585.5,143.8 585.6,144.5 585.8,142.1 585.9,145.6 586,145.4 586.1,151.1 586.3,141.2 586.4,141.7 586.5,148.7 586.6,147.7 586.8,146.7 586.9,147.3 587,148.5 587.1,141.5 587.3,150.3 587.4,148 587.5,145.3 587.6,151.3 587.8,152.3 587.9,143 588,147.5 588.1,143.9 588.3,151.1 588.4,151.4 588.5,148.5 588.6,154.6 588.8,149 588.9,150.8 589,143.7 589.1,154 589.3,151.9 589.4,149.3 589.5,149.7 589.6,150.6 589.8,150.8 589.9,151.6 590,152.5 590.1,155.3 590.3,154 590.4,148.9 590.5,150.5 590.6,154 590.8,155.2 590.9,152 591,147.8 591.1,152.1 591.3,152 591.4,150 591.5,152.9 591.6,154.3 591.8,154.4 591.9,151.4 592,150 592.1,148.6 592.3,150.7 592.4,150.7 592.5,150.5 592.6,149.5 592.8,151.2 592.9,150.5 593,146 593.1,149.8 593.3,147.7 593.4,149.4 593.5,151 593.6,149.1 593.8,149.7 593.9,147.8 594,149.4 594.1,145.4 594.3,150 594.4,147.8 594.5,148.5 594.6,149.6 594.8,146.5 594.9,149.7 595,147.1 595.1,147.6 595.3,149 595.4,150.6 595.5,151.8 595.6,149.1 595.8,152.8 595.9,145.8 596,145.9 596.1,147 596.3,148.7 596.4,151.2 596.5,149 596.6,150.9 596.8,148.2 596.9,149 597,148.8 597.1,147.7 597.3,148.1 597.4,149.6 597.5,147.3 597.6,145.7 597.8,151.1 597.9,145.5 598,144.6 598.1,146.8 598.3,147.9 598.4,145.7 598.5,144.1 598.6,143.4 598.8,144.7 598.9,140.2 599,141.3 599.1,140.8 599.3,136.1 599.4,138.7 599.5,141.8 599.6,142.2 599.8,139.4 599.9,137.9 600,138 600.1,140.9 600.3,145.4 600.4,139.8 600.5,137.1 600.6,139.7 600.8,144.1 600.9,138.1 601,140.6 601.1,145.4 601.3,144 601.4,142.5 601.5,139.6 601.6,143.4 601.8,138.2 601.9,136.2 602,143.2 602.1,141.3 602.3,137.3 602.4,138.8 602.5,137.7 602.6,136.9 602.8,138.7 602.9,141 603,137.5 603.1,136.8 603.3,135.9 603.4,136 603.5,131.9 603.6,134.2 603.8,135.4 603.9,137.2 604,137.6 604.1,136.1 604.3,136 604.4,142.9 604.5,139.3 604.6,140 604.8,132.9 604.9,138.2 605,138.2 605.1,140.2 605.3,143.1 605.4,139.3 605.5,137.4 605.6,137.2 605.8,138.2 605.9,139 606,139.4 606.1,132 606.3,129.3 606.4,130.6 606.5,132.4 606.6,131.5 606.8,129.6 606.9,127 607,130.3 607.1,128.6 607.3,130.3 607.4,132.4 607.5,131.9 607.6,123.3 607.8,125.4 607.9,120 608,129.3 608.1,121 608.3,125.3 608.4,122.7 608.5,129.8 608.6,124.7 608.8,122.8 608.9,121.6 609,123.1 609.1,121.4 609.3,129 609.4,117.5 609.5,117.2 609.6,120.6 609.8,114.9 609.9,122.2 610,125.4 610.1,120.9 610.3,116.2 610.4,111.2 610.5,117.2 610.6,114.7 610.8,114.9 610.9,111.4 611,111.3 611.1,118.6 611.3,114.7 611.4,113.5 611.5,114.9 611.6,115.7 611.8,111.3 611.9,113.1 612,117 612.1,113.1 612.3,112.5 612.4,114.6 612.5,113.8 612.6,111.4 612.8,108.8 612.9,112.6 613,113.5 613.1,113.4 613.3,115.1 613.4,113.5 613.5,115.1 613.6,114.3 613.8,114.7 613.9,108.4 614,115.9 614.1,116.5 614.3,115.1 614.4,112.6 614.5,115.4 614.6,116.3 614.8,115.3 614.9,117 615,117.4 615.1,122.4 615.3,115.3 615.4,114.3 615.5,120.3 615.6,120.6 615.8,116.6 615.9,125 616,121.2 616.1,118.2 616.3,118.9 616.4,113.2 616.5,123.5 616.6,116.3 616.8,119.3 616.9,120.6 617,124.6 617.1,124.9 617.3,121.4 617.4,119.7 617.5,120.6 617.6,123 617.8,124.7 617.9,121.6 618,126.1 618.1,122.8 618.3,123.9 618.4,122.4 618.5,124.8 618.6,131 618.8,123 618.9,133.8 619,116.9 619.1,125.7 619.3,126.8 619.4,128.4 619.5,126.7 619.6,122.4 619.8,125.2 619.9,128.3 620,128.4 620.1,126.7 620.3,123.4 620.4,126.3 620.5,125.5 620.6,123.7 620.8,126.8 620.9,121 621,123.3 621.1,124.9 621.3,123 621.4,125 621.5,127.4 621.6,129.1 621.8,128.1 621.9,125.4 622,124.7 622.1,121.4 622.3,120.2 622.4,132.8 622.5,123.5 622.6,121.2 622.8,124.6 622.9,120.7 623,123.3 623.1,124.7 623.3,127.7 623.4,120.3 623.5,122.6 623.6,125.8 623.8,121.5 623.9,123.9 624,122.3 624.1,124.9 624.3,128.5 624.4,124.4 624.5,121.3 624.6,120.7 624.8,119.4 624.9,120.8 625,121.3 625.1,117.7 625.3,121.1 625.4,118.1 625.5,124.8 625.6,120.9 625.8,117.7 625.9,116.2 626,122.8 626.1,122 626.3,122.6 626.4,125.7 626.5,121.3 626.6,123.5 626.8,124.4 626.9,129.2 627,119.8 627.1,126.1 627.3,122.6 627.4,121.7 627.5,126.5 627.6,125 627.8,123.2 627.9,121.6 628,126 628.1,124.1 628.3,125.1 628.4,124.8 628.5,125.7 628.6,121.1 628.8,123.9 628.9,125.5 629,125.4 629.1,124.7 629.3,128.9 629.4,127 629.5,122.2 629.6,125.7 629.8,125.1 629.9,130 630,128 630.1,125.1 630.3,124 630.4,124.4 630.5,131.3 630.6,125.8 630.8,130.6 630.9,131.9 631,134.3 631.1,131.8 631.3,131.8 631.4,122.2 631.5,128.5 631.6,127.1 631.8,125 631.9,131.1 632,127.7 632.1,128.3 632.3,123.7 632.4,127 632.5,126.8 632.6,130 632.8,120.1 632.9,118.8 633,129.5 633.1,130.7 633.3,120.6 633.4,122.4 633.5,116.5 633.6,122 633.8,120.9 633.9,116.1 634,127.2 634.1,114 634.3,126.1 634.4,118.3 634.5,124 634.6,130 634.8,123.9 634.9,121.6 635,120.5 635.1,121.9 635.3,122.4 635.4,122 635.5,128.8 635.6,114.6 635.8,117.7 635.9,113.5 636,106.9 636.1,120.4 636.3,111.8 636.4,112.1 636.5,109.5 636.6,119.1 636.8,115.6 636.9,121.5 637,110.9 637.1,118.9 637.3,118.4 637.4,127.6 637.5,118.1 637.6,129.2 637.8,121.7 637.9,118.8 638,120.8 638.1,119.3 638.3,126 638.4,118 638.5,116 638.6,122.8 638.8,120.7 638.9,120.4 639,121.8 639.1,132.2 639.3,121.3 639.4,121.4 639.5,127.9 639.6,127.3 639.8,124.1 639.9,121.6 640,123.1 640.1,121.9 640.3,123.9 640.4,124.9 640.5,128.5 640.6,127.5 640.8,129.5 640.9,128.9 641,126.9 641.1,133.1 641.3,129.7 641.4,123.5 641.5,130.3 641.6,127.6 641.8,126.6 641.9,127.2 642,132.5 642.1,128.7 642.3,129.5 642.4,129 642.5,132.1 642.6,133.8 642.8,130.3 642.9,129.6 643,124.8 643.1,128.2 643.3,128 643.4,127.2 643.5,126.6 643.6,131 643.8,129 643.9,129.6 644,130.6 644.1,133.9 644.3,125.9 644.4,126 644.5,134.5 644.6,128.3 644.8,128.6 644.9,127 645,129 645.1,129.3 645.3,129.5 645.4,131.9 645.5,132 645.6,132.5 645.8,136.5 645.9,132.9 646,134.4 646.1,132.9 646.3,127.9 646.4,136.3 646.5,138.2 646.6,138.7 646.8,142.1 646.9,138.5 647,140.6 647.1,135.2 647.3,138.6 647.4,136.7 647.5,138.3 647.6,134.6 647.8,136.2 647.9,134.3 648,142.7 648.1,138.3 648.3,139.8 648.4,135 648.5,134.9 648.6,138.6 648.8,135.9 648.9,129.2 649,132.5 649.1,142.7 649.3,133 649.4,135.2 649.5,134 649.6,133.6 649.8,137.2 649.9,140.1 650,134.8 650.1,130.8 650.3,139.1 650.4,135.7 650.5,138.7 650.6,135.7 650.8,135.2 650.9,140.6 651,142.8 651.1,141.3 651.3,132.1 651.4,128.9 651.5,141.3 651.6,143.1 651.8,140.5 651.9,143.1 652,145.4 652.1,143.1 652.3,138.6 652.4,143.3 652.5,142 652.6,142.7 652.8,140.6 652.9,143.9 653,142.6 653.1,141.6 653.3,141 653.4,139.8 653.5,140 653.6,142.5 653.8,134.6 653.9,135.6 654,141.4 654.1,140.7 654.3,141.8 654.4,138.5 654.5,139.8 654.6,137 654.8,140.2 654.9,141.2 655,139.3 655.1,136.7 655.3,135.8 655.4,135.5 655.5,139.4 655.6,132.2 655.8,135.9 655.9,139 656,135.5 656.1,136 656.3,135.8 656.4,132.8 656.5,137.2 656.6,141.9 656.8,134.8 656.9,135.8 657,137 657.1,134.8 657.3,136.1 657.4,138 657.5,134.3 657.6,139.1 657.8,133.1 657.9,140.2 658,135.2 658.1,133.9 658.3,138.4 658.4,133.6 658.5,135 658.6,134 658.8,138.2 658.9,136.8 659,137.6 659.1,139 659.3,137 659.4,137.8 659.5,136.5 659.6,133.2 659.8,134.1 659.9,133.1 660,136.2 660.1,128.1 660.3,135.1 660.4,132.4 660.5,137.2 660.6,138.5 660.8,135.1 660.9,139.3 661,133.7 661.1,140.7 661.3,139.9 661.4,141.8 661.5,142.7 661.6,142.8 661.8,142.8 661.9,141.9 662,144.7 662.1,143 662.3,142.1 662.4,140.3 662.5,140.6 662.6,138.5 662.8,136.3 662.9,135.5 663,138.5 663.1,138.1 663.3,138 663.4,137.1 663.5,139.8 663.6,139.5 663.8,142.3 663.9,146 664,144.1 664.1,145.9 664.3,145.5 664.4,144.2" fill="none" stroke="#000" stroke-width="0.5" stroke-linejoin="round"/>
<rect x="46.2" y="16.5" width="504.4" height="62" fill="none" stroke="#3aa89d" stroke-width="1.2"/>
<rect x="553.5" y="16.5" width="113.2" height="62" fill="none" stroke="#3c7cc0" stroke-width="1.2"/>
<rect x="46.2" y="103.5" width="504.4" height="61.7" fill="none" stroke="#3aa89d" stroke-width="1.2"/>
<rect x="553.5" y="103.5" width="113.2" height="61.7" fill="none" stroke="#3c7cc0" stroke-width="1.2"/>
<text x="46.2" y="86.6" font-size="7.5" text-anchor="middle">0</text>
<text x="46.2" y="173.3" font-size="7.5" text-anchor="middle">0</text>
<text x="136.6" y="86.6" font-size="7.5" text-anchor="middle">100</text>
<text x="136.6" y="173.3" font-size="7.5" text-anchor="middle">100</text>
<text x="227" y="86.6" font-size="7.5" text-anchor="middle">200</text>
<text x="227" y="173.3" font-size="7.5" text-anchor="middle">200</text>
<text x="317.4" y="86.6" font-size="7.5" text-anchor="middle">300</text>
<text x="317.4" y="173.3" font-size="7.5" text-anchor="middle">300</text>
<text x="407.8" y="86.6" font-size="7.5" text-anchor="middle">400</text>
<text x="407.8" y="173.3" font-size="7.5" text-anchor="middle">400</text>
<text x="498.2" y="86.6" font-size="7.5" text-anchor="middle">500</text>
<text x="498.2" y="173.3" font-size="7.5" text-anchor="middle">500</text>
<text x="588.6" y="86.6" font-size="7.5" text-anchor="middle">600</text>
<text x="588.6" y="173.3" font-size="7.5" text-anchor="middle">600</text>
<text x="679" y="86.6" font-size="7.5" text-anchor="middle">700</text>
<text x="679" y="173.3" font-size="7.5" text-anchor="middle">700</text>
<text x="44.6" y="76.2" font-size="7.5" text-anchor="end">60</text>
<text x="44.6" y="61.9" font-size="7.5" text-anchor="end">70</text>
<text x="44.6" y="47.6" font-size="7.5" text-anchor="end">80</text>
<text x="44.6" y="33.3" font-size="7.5" text-anchor="end">90</text>
<text x="44.6" y="19" font-size="7.5" text-anchor="end">100</text>
<text x="44.6" y="163.3" font-size="7.5" text-anchor="end">40</text>
<text x="44.6" y="149.7" font-size="7.5" text-anchor="end">50</text>
<text x="44.6" y="136.1" font-size="7.5" text-anchor="end">60</text>
<text x="44.6" y="122.5" font-size="7.5" text-anchor="end">70</text>
<text x="44.6" y="108.9" font-size="7.5" text-anchor="end">80</text>
<text transform="translate(32.8,47.7) rotate(-90)" font-size="8" text-anchor="middle">ABP (mmHg)</text>
<text transform="translate(33.2,134) rotate(-90)" font-size="8" text-anchor="middle">CBFv (cm/s)</text>
<text x="365.7" y="12.6" font-size="8.8" font-weight="bold" text-anchor="middle" fill="#111">Arterial Blood Pressure</text>
<text x="365" y="99.8" font-size="8.8" font-weight="bold" text-anchor="middle" fill="#111">Cerebral Blood Flow Velocity</text>
<text x="0.3" y="8.6" font-size="10.8" font-weight="bold" fill="#000">A</text>
<text x="339" y="179.2" font-size="7.5">Time (Seconds)</text>
<rect x="74.2" y="176.6" width="259.3" height="31.1" fill="#e8eeed" stroke="#555" stroke-width="0.7"/>
<g fill="#111"><circle cx="100.7" cy="184.3" r="1"/><circle cx="108.4" cy="183.1" r="1"/><circle cx="116.1" cy="181.6" r="1"/><circle cx="123.6" cy="181.6" r="1"/><circle cx="131" cy="182.6" r="1"/><circle cx="138.5" cy="181.1" r="1"/><circle cx="146.2" cy="182.6" r="1"/><circle cx="153.6" cy="181.1" r="1"/><circle cx="161.3" cy="183.1" r="1"/><circle cx="169" cy="184.1" r="1"/><circle cx="176.4" cy="185.1" r="1"/><circle cx="184.1" cy="184.1" r="1"/><circle cx="191.7" cy="183.1" r="1"/><circle cx="199.2" cy="181.6" r="1"/><circle cx="206.9" cy="180.4" r="1"/><circle cx="214.3" cy="180.8" r="1"/><circle cx="221.8" cy="181.8" r="1"/><circle cx="229.5" cy="183.1" r="1"/><circle cx="237.2" cy="184.1" r="1"/><circle cx="244.6" cy="184.8" r="1"/><circle cx="252.3" cy="185.8" r="1"/><circle cx="260" cy="186.6" r="1"/><circle cx="267.4" cy="188" r="1"/><circle cx="275.1" cy="189" r="1"/><circle cx="282.6" cy="189.5" r="1"/><circle cx="290" cy="190" r="1"/><circle cx="297.7" cy="190" r="1"/><circle cx="305.2" cy="188.8" r="1"/><circle cx="312.9" cy="188.3" r="1"/><circle cx="320.3" cy="188" r="1"/><circle cx="100.7" cy="199" r="1"/><circle cx="108.4" cy="200.5" r="1"/><circle cx="116.1" cy="201.4" r="1"/><circle cx="123.8" cy="199.7" r="1"/><circle cx="131.8" cy="198.5" r="1"/><circle cx="139.5" cy="198.5" r="1"/><circle cx="147.9" cy="199.5" r="1"/><circle cx="155.6" cy="198" r="1"/><circle cx="163.5" cy="199.7" r="1"/><circle cx="171.2" cy="197" r="1"/><circle cx="178.9" cy="198" r="1"/><circle cx="186.6" cy="198" r="1"/><circle cx="194.8" cy="199.5" r="1"/><circle cx="202.9" cy="198.5" r="1"/><circle cx="210.6" cy="197.7" r="1"/><circle cx="218.5" cy="199" r="1"/><circle cx="226.2" cy="197.5" r="1"/><circle cx="234.2" cy="196.5" r="1"/><circle cx="242.1" cy="195.2" r="1"/><circle cx="249.8" cy="197" r="1"/><circle cx="257.5" cy="199" r="1"/><circle cx="265.5" cy="201.2" r="1"/><circle cx="273.1" cy="202.7" r="1"/><circle cx="280.8" cy="203.7" r="1"/><circle cx="288.8" cy="204.2" r="1"/><circle cx="296.7" cy="204.4" r="1"/><circle cx="304.7" cy="204.2" r="1"/><circle cx="312.6" cy="204.4" r="1"/><circle cx="320.3" cy="205.4" r="1"/></g>
<text x="79.6" y="188" font-size="7">ABP</text><text x="78.4" y="202.4" font-size="7">CBFv</text>
<text x="334" y="216.8" font-size="6.4" text-anchor="end">10 second averaged blocks</text>
<path d="M340.6,192.3h5.4" stroke="#111" stroke-width="0.7"/><path d="M347.6,192.3l-2.6,-1.4v2.8z" fill="#111"/>
<g fill="#333"><circle cx="357.8" cy="192.3" r="0.5"/><circle cx="361" cy="192.3" r="0.5"/><circle cx="364.2" cy="192.3" r="0.5"/><circle cx="367.4" cy="192.3" r="0.5"/>
<circle cx="357.8" cy="254.2" r="0.5"/><circle cx="361" cy="254.2" r="0.5"/><circle cx="364.2" cy="254.2" r="0.5"/><circle cx="367.4" cy="254.2" r="0.5"/></g>
<path d="M50.6,185.3V224.5M59.5,193V216.1H133.5V224.5M68.5,201V212.1H214.8V224.5M297.2,219.6V224.5M600.4,175V180" fill="none" stroke="#222" stroke-width="0.7"/>
<path d="M50.6,226.6l-1.5,-2.8h3zM133.5,226.6l-1.5,-2.8h3zM214.8,226.6l-1.5,-2.8h3zM297.2,226.6l-1.5,-2.8h3zM600.4,182.4l-1.5,-2.8h3z" fill="#111"/>
<rect x="50.6" y="227" width="55.2" height="55" fill="#fff" stroke="#333" stroke-width="0.8"/><g fill="#adadad"><circle cx="76.1" cy="249" r="0.5"/><circle cx="77.4" cy="253.2" r="0.5"/><circle cx="86.4" cy="241.6" r="0.5"/><circle cx="72.3" cy="264.5" r="0.5"/><circle cx="71.2" cy="263.9" r="0.5"/><circle cx="81.9" cy="264.9" r="0.5"/><circle cx="100.6" cy="256.2" r="0.5"/><circle cx="58.4" cy="260.2" r="0.5"/><circle cx="67.3" cy="267.2" r="0.5"/><circle cx="76.2" cy="261.6" r="0.5"/><circle cx="88.6" cy="266.7" r="0.5"/><circle cx="68.4" cy="262.2" r="0.5"/><circle cx="92.5" cy="250.6" r="0.5"/><circle cx="88.3" cy="254.9" r="0.5"/><circle cx="91.7" cy="243.4" r="0.5"/><circle cx="78.9" cy="252.3" r="0.5"/><circle cx="90.9" cy="246.1" r="0.5"/><circle cx="82.8" cy="253.2" r="0.5"/><circle cx="63" cy="252.3" r="0.5"/><circle cx="80.1" cy="259.3" r="0.5"/><circle cx="81.3" cy="246.3" r="0.5"/><circle cx="99.4" cy="241.9" r="0.5"/><circle cx="86.2" cy="262.4" r="0.5"/><circle cx="62.6" cy="262.7" r="0.5"/><circle cx="87.2" cy="261.5" r="0.5"/><circle cx="93.7" cy="261" r="0.5"/><circle cx="66.3" cy="273.4" r="0.5"/><circle cx="79.7" cy="238" r="0.5"/><circle cx="89.7" cy="242.4" r="0.5"/><circle cx="78" cy="250" r="0.5"/><circle cx="96.9" cy="244.1" r="0.5"/><circle cx="99.2" cy="262.5" r="0.5"/><circle cx="73.3" cy="275.3" r="0.5"/><circle cx="63.2" cy="256.7" r="0.5"/></g><line x1="57.3" y1="262.2" x2="99" y2="249" stroke="#555" stroke-width="0.6"/><text x="102.8" y="234.6" font-size="6.6" text-anchor="end">Mxa = 0.2989</text><text transform="translate(57.1,242) rotate(-90)" font-size="6.4">ABP</text><text x="104.2" y="280.3" font-size="6.4" text-anchor="end">CBFv</text><rect x="132.8" y="227" width="55.2" height="55" fill="#fff" stroke="#333" stroke-width="0.8"/><g fill="#adadad"><circle cx="174.6" cy="248.5" r="0.5"/><circle cx="170.4" cy="260.9" r="0.5"/><circle cx="182" cy="245.1" r="0.5"/><circle cx="174.9" cy="250.8" r="0.5"/><circle cx="175.1" cy="241.9" r="0.5"/><circle cx="157.7" cy="263.5" r="0.5"/><circle cx="146.6" cy="254.3" r="0.5"/><circle cx="146.1" cy="251.1" r="0.5"/><circle cx="161.8" cy="255.6" r="0.5"/><circle cx="162.2" cy="259.8" r="0.5"/><circle cx="175.9" cy="240.4" r="0.5"/><circle cx="146.2" cy="258.4" r="0.5"/><circle cx="144.3" cy="263.2" r="0.5"/><circle cx="168.4" cy="246.6" r="0.5"/><circle cx="152.1" cy="265.7" r="0.5"/><circle cx="177.1" cy="248.9" r="0.5"/><circle cx="148.4" cy="259.9" r="0.5"/><circle cx="175.8" cy="249.1" r="0.5"/><circle cx="139.1" cy="259.2" r="0.5"/><circle cx="141.3" cy="265.4" r="0.5"/><circle cx="170.8" cy="253.2" r="0.5"/><circle cx="150.2" cy="264.4" r="0.5"/><circle cx="183.5" cy="238" r="0.5"/><circle cx="146.7" cy="265.6" r="0.5"/><circle cx="164.2" cy="238" r="0.5"/><circle cx="153.2" cy="268.9" r="0.5"/><circle cx="141.3" cy="260.6" r="0.5"/><circle cx="163.7" cy="250.7" r="0.5"/><circle cx="154.1" cy="267.5" r="0.5"/><circle cx="142.9" cy="272.5" r="0.5"/><circle cx="160.2" cy="253.7" r="0.5"/><circle cx="161.8" cy="249.5" r="0.5"/><circle cx="174.3" cy="252.3" r="0.5"/><circle cx="152.9" cy="271.9" r="0.5"/></g><line x1="139.2" y1="263.4" x2="180.9" y2="248.5" stroke="#555" stroke-width="0.6"/><text x="185" y="234.6" font-size="6.6" text-anchor="end">Mxa = 0.3351</text><text transform="translate(139.3,242) rotate(-90)" font-size="6.4">ABP</text><text x="186.4" y="280.3" font-size="6.4" text-anchor="end">CBFv</text><rect x="214.8" y="227" width="55.2" height="55" fill="#fff" stroke="#333" stroke-width="0.8"/><g fill="#adadad"><circle cx="225.4" cy="260.7" r="0.5"/><circle cx="237.2" cy="254.9" r="0.5"/><circle cx="238.5" cy="254.2" r="0.5"/><circle cx="257" cy="240.3" r="0.5"/><circle cx="250.4" cy="250.7" r="0.5"/><circle cx="257.1" cy="260.8" r="0.5"/><circle cx="225.5" cy="267.3" r="0.5"/><circle cx="234.1" cy="259.8" r="0.5"/><circle cx="230.3" cy="261.5" r="0.5"/><circle cx="243.1" cy="244.2" r="0.5"/><circle cx="228.6" cy="260.2" r="0.5"/><circle cx="240.9" cy="255.8" r="0.5"/><circle cx="229.4" cy="255.9" r="0.5"/><circle cx="258.4" cy="239.4" r="0.5"/><circle cx="248.7" cy="252" r="0.5"/><circle cx="230" cy="264.7" r="0.5"/><circle cx="239.7" cy="250.2" r="0.5"/><circle cx="242.9" cy="252.6" r="0.5"/><circle cx="240.2" cy="250.4" r="0.5"/><circle cx="233.5" cy="267.6" r="0.5"/><circle cx="227.3" cy="255.6" r="0.5"/><circle cx="255" cy="259.7" r="0.5"/><circle cx="243.7" cy="253.2" r="0.5"/><circle cx="235.2" cy="251.7" r="0.5"/><circle cx="257.7" cy="252.9" r="0.5"/><circle cx="257.1" cy="245.2" r="0.5"/><circle cx="260.2" cy="253.7" r="0.5"/><circle cx="232.5" cy="267.9" r="0.5"/><circle cx="245.7" cy="248.5" r="0.5"/><circle cx="261.3" cy="253.3" r="0.5"/><circle cx="219.8" cy="259.7" r="0.5"/><circle cx="264.1" cy="257.6" r="0.5"/><circle cx="252.5" cy="253.3" r="0.5"/><circle cx="251.9" cy="238.2" r="0.5"/></g><line x1="221.6" y1="263.4" x2="263" y2="248.1" stroke="#555" stroke-width="0.6"/><text x="267" y="234.6" font-size="6.6" text-anchor="end">Mxa = 0.3388</text><text transform="translate(221.3,242) rotate(-90)" font-size="6.4">ABP</text><text x="268.4" y="280.3" font-size="6.4" text-anchor="end">CBFv</text><rect x="297" y="227" width="55.2" height="55" fill="#fff" stroke="#333" stroke-width="0.8"/><g fill="#adadad"><circle cx="343" cy="246.6" r="0.5"/><circle cx="343.7" cy="253" r="0.5"/><circle cx="339" cy="252" r="0.5"/><circle cx="305.2" cy="252.3" r="0.5"/><circle cx="315.9" cy="256.5" r="0.5"/><circle cx="305.8" cy="269.8" r="0.5"/><circle cx="310.1" cy="261.9" r="0.5"/><circle cx="324.6" cy="238" r="0.5"/><circle cx="308.1" cy="249.8" r="0.5"/><circle cx="315.6" cy="270.2" r="0.5"/><circle cx="324.5" cy="255.3" r="0.5"/><circle cx="332.3" cy="251.1" r="0.5"/><circle cx="336.8" cy="245.4" r="0.5"/><circle cx="310.5" cy="270.7" r="0.5"/><circle cx="314.5" cy="277" r="0.5"/><circle cx="323.8" cy="258.9" r="0.5"/><circle cx="337.5" cy="251.2" r="0.5"/><circle cx="339.1" cy="263.2" r="0.5"/><circle cx="324.9" cy="253.8" r="0.5"/><circle cx="342.4" cy="255.1" r="0.5"/><circle cx="337.5" cy="268.1" r="0.5"/><circle cx="341.2" cy="267.5" r="0.5"/><circle cx="335" cy="257.3" r="0.5"/><circle cx="308" cy="261.7" r="0.5"/><circle cx="341.1" cy="243.4" r="0.5"/><circle cx="317.6" cy="260.1" r="0.5"/><circle cx="333.5" cy="265.7" r="0.5"/><circle cx="332.2" cy="261.7" r="0.5"/><circle cx="321.4" cy="248.7" r="0.5"/><circle cx="319.6" cy="246.3" r="0.5"/><circle cx="315.8" cy="239.6" r="0.5"/><circle cx="341.2" cy="250.8" r="0.5"/><circle cx="321.1" cy="262.4" r="0.5"/><circle cx="317.1" cy="256.2" r="0.5"/></g><line x1="303.4" y1="261.6" x2="345.4" y2="250.9" stroke="#555" stroke-width="0.6"/><text x="349.2" y="234.6" font-size="6.6" text-anchor="end">Mxa = 0.2431</text><text transform="translate(303.5,242) rotate(-90)" font-size="6.4">ABP</text><text x="350.6" y="280.3" font-size="6.4" text-anchor="end">CBFv</text>
<path d="M79.6,282V285.8H74.6V324.7 M161.5,282V287.8H80.8V336 M243,282V292H87.4V336.5 M325.8,282V295.4H93.5V345" fill="none" stroke="#ababab" stroke-width="0.6" stroke-dasharray="1.6,1.4"/>
<rect x="398.9" y="186.6" width="251.7" height="94.8" fill="#fff" stroke="#333" stroke-width="0.8"/>
<rect x="479.4" y="187" width="130.9" height="94" fill="#ecf3f7"/>
<rect x="436.4" y="186.6" width="173.9" height="94.8" fill="none" stroke="#4c8cc8" stroke-width="0.9"/>
<path d="M407.4,214.2C408.4,214.2 411.3,213.2 413.6,214.2C415.9,215.2 418.3,219.6 421,220.4C423.7,221.2 426.4,219.1 429.7,218.9C433,218.7 437.2,219.7 440.9,219.1C444.6,218.5 448.5,216.2 452,215.2C455.5,214.2 458.5,213.1 462,212.9C465.5,212.7 469.9,212.9 473.1,214.2C476.3,215.4 478.6,219.9 481.3,220.4C484,220.9 486.3,218.8 489.3,217.2C492.3,215.5 496.6,211.1 499.2,210.5C501.8,209.9 503,211.2 504.7,213.4C506.4,215.6 507.5,221 509.1,223.4C510.7,225.8 511.6,227 514.1,227.6C516.6,228.2 520.9,227.8 524,227.1C527.1,226.4 530.2,224.9 532.7,223.4C535.2,221.9 537,218.4 539.1,218.2C541.2,217.9 543.2,221.3 545.5,221.9C547.8,222.5 551,222.9 552.8,221.9C554.6,220.9 555.2,218.4 556.3,216C557.3,213.6 557.8,208.1 559.1,207.6C560.4,207.1 562.1,211.4 564.1,213.2C566.1,215 569.1,219.1 571,218.5C572.9,217.9 574,213.5 575.5,209.8C577,206.1 578.4,199 580.1,196.2C581.8,193.4 583.7,192.8 585.8,192.8C587.9,192.8 590.1,193.7 592.6,196.2C595.1,198.7 597.8,204.4 600.6,207.6C603.5,210.8 607.1,214 609.7,215.1C612.4,216.2 613.9,215.7 616.5,214.4C619.1,213.2 622.7,208 625.6,207.6C628.5,207.2 632.6,211.3 634,212.1" fill="none" stroke="#222" stroke-width="0.85"/>
<path d="M406.1,272.5C407.6,272 411.9,271.1 414.8,269.3C417.7,267.5 420.6,264.7 423.5,261.8C426.4,258.9 429.1,254.1 432.2,251.9C435.3,249.7 438.8,248.6 442.1,248.4C445.4,248.2 448.3,249.7 452,250.7C455.7,251.7 460.4,253.7 464.5,254.4C468.6,255.1 472.8,255.2 476.9,255.1C481,255 485.4,254.6 489.3,253.9C493.2,253.2 497.9,251.1 500.4,251.2C502.9,251.3 502.8,252 504.2,254.4C505.6,256.8 507,262.8 509.1,265.6C511.2,268.4 514.1,269.9 516.6,271C519.1,272.1 521.1,272.5 524,272.3C526.9,272.1 531.1,270.5 534,269.8C536.9,269.1 539.5,267.6 541.4,267.9C543.3,268.1 544.4,272.1 545.5,271.3C546.6,270.5 546.6,265.3 547.8,263.3C549,261.3 550.1,260.2 552.8,259.4C555.5,258.6 561.1,258.9 564.1,258.3C567.1,257.7 569.1,257.6 571,256C572.9,254.4 574.1,251.3 575.5,248.5C576.9,245.7 578.4,241.2 579.6,239.4C580.8,237.6 580.8,237.4 582.8,237.8C584.8,238.2 588.4,239.9 591.4,241.7C594.4,243.5 597.5,246.2 600.6,248.5C603.7,250.8 607.1,255.2 609.7,255.8C612.4,256.4 614.2,252.6 616.5,251.9C618.8,251.2 621.2,251.1 623.3,251.5C625.4,251.9 628,253.8 629,254.2" fill="none" stroke="#222" stroke-width="0.85"/>
<line x1="571" y1="218.5" x2="571" y2="256" stroke="#f29b9b" stroke-width="0.9"/>
<path d="M582.8,237.8H635.5M571,255.8H635.5" stroke="#ee5c60" stroke-width="1" stroke-dasharray="5.2,2" fill="none"/>
<circle cx="571" cy="256" r="2.3" fill="#e8434c"/><circle cx="582.6" cy="238" r="2.3" fill="#e8434c"/>
<text x="406.9" y="207.2" font-size="7.6">ABP</text><text x="407.2" y="253.7" font-size="7.6">CBFv</text>
<text x="502.2" y="199" font-size="6.4" text-anchor="middle">I</text><text x="525.8" y="207" font-size="6.4" text-anchor="middle">II</text><text x="564.1" y="202.3" font-size="6.4" text-anchor="middle">III</text><text x="588" y="210.5" font-size="6.4" text-anchor="middle">IV</text>
<text x="625.4" y="250.8" font-size="10.2" font-style="italic">VM<tspan font-size="6" dy="2.2">OI</tspan></text>
<rect x="36.3" y="298.3" width="212.5" height="229" fill="#e8eeed"/>
<rect x="256.8" y="298.3" width="418.5" height="229" fill="#ecf3f7"/>
<path d="M13,308.7H684.5M9.5,401.7H684.5M9.5,494.6H684.5" fill="none" stroke="#a6a6a6" stroke-width="1" stroke-dasharray="4,2"/>
<path d="M9.5,308.7V494.6M684.5,308.7V494.6" fill="none" stroke="#5a5a5a" stroke-width="0.9" stroke-dasharray="4,2.1"/>
<path d="M74.6,298V324.7 M80.8,298V336 M87.4,298V336.5 M94.1,298V345" fill="none" stroke="#aaa" stroke-width="0.6" stroke-dasharray="1.6,1.4"/>
<rect x="410.1" y="324.4" width="40.2" height="52.9" fill="#a3d2e6"/><rect x="610.2" y="324.4" width="40.1" height="52.9" fill="#a3d2e6"/>
<rect x="411.7" y="419.1" width="40.8" height="53" fill="#a3d2e6"/><rect x="611.8" y="419.1" width="40.7" height="53" fill="#a3d2e6"/>
<rect x="74.6" y="324.7" width="161.1" height="53.7" fill="none" stroke="#858585" stroke-width="0.8"/><text x="74.6" y="385.4" font-size="6.5" text-anchor="middle">300</text><text x="105.4" y="385.4" font-size="6.5" text-anchor="middle">350</text><text x="136.2" y="385.4" font-size="6.5" text-anchor="middle">400</text><text x="167" y="385.4" font-size="6.5" text-anchor="middle">450</text><text x="197.8" y="385.4" font-size="6.5" text-anchor="middle">500</text><text x="228.6" y="385.4" font-size="6.5" text-anchor="middle">550</text><text x="73" y="326.8" font-size="6.5" text-anchor="end">0.5</text><text x="73" y="340.3" font-size="6.5" text-anchor="end">0.3</text><text x="73" y="353.6" font-size="6.5" text-anchor="end">0.1</text><text x="73" y="366.9" font-size="6.5" text-anchor="end">-0.1</text><text x="73" y="380.5" font-size="6.5" text-anchor="end">-0.3</text><path d="M74.6,378.4v-1.6M74.6,324.7v1.6M105.4,378.4v-1.6M105.4,324.7v1.6M136.2,378.4v-1.6M136.2,324.7v1.6M167,378.4v-1.6M167,324.7v1.6M197.8,378.4v-1.6M197.8,324.7v1.6M228.6,378.4v-1.6M228.6,324.7v1.6M74.6,324.7h1.6M235.7,324.7h-1.6M74.6,338.2h1.6M235.7,338.2h-1.6M74.6,351.5h1.6M235.7,351.5h-1.6M74.6,364.8h1.6M235.7,364.8h-1.6M74.6,378.4h1.6M235.7,378.4h-1.6" stroke="#333" stroke-width="0.5" fill="none"/><text x="155.1" y="395.3" font-size="6" text-anchor="middle">Time (Seconds)</text><text transform="translate(59.6,351.5) rotate(-90)" font-size="8.3" text-anchor="middle">Mxa (a.u.)</text>
<rect x="74.5" y="419.2" width="161.2" height="53.2" fill="none" stroke="#858585" stroke-width="0.8"/><text x="74.6" y="479.4" font-size="6.5" text-anchor="middle">300</text><text x="105.4" y="479.4" font-size="6.5" text-anchor="middle">350</text><text x="136.2" y="479.4" font-size="6.5" text-anchor="middle">400</text><text x="167" y="479.4" font-size="6.5" text-anchor="middle">450</text><text x="197.8" y="479.4" font-size="6.5" text-anchor="middle">500</text><text x="228.6" y="479.4" font-size="6.5" text-anchor="middle">550</text><text x="72.9" y="421.3" font-size="6.5" text-anchor="end">0.8</text><text x="72.9" y="434.6" font-size="6.5" text-anchor="end">0.6</text><text x="72.9" y="447.9" font-size="6.5" text-anchor="end">0.4</text><text x="72.9" y="461.2" font-size="6.5" text-anchor="end">0.2</text><text x="72.9" y="474.5" font-size="6.5" text-anchor="end">0</text><path d="M74.6,472.4v-1.6M74.6,419.2v1.6M105.4,472.4v-1.6M105.4,419.2v1.6M136.2,472.4v-1.6M136.2,419.2v1.6M167,472.4v-1.6M167,419.2v1.6M197.8,472.4v-1.6M197.8,419.2v1.6M228.6,472.4v-1.6M228.6,419.2v1.6M74.5,419.2h1.6M235.7,419.2h-1.6M74.5,432.5h1.6M235.7,432.5h-1.6M74.5,445.8h1.6M235.7,445.8h-1.6M74.5,459.1h1.6M235.7,459.1h-1.6M74.5,472.4h1.6M235.7,472.4h-1.6" stroke="#333" stroke-width="0.5" fill="none"/><text x="155.1" y="491" font-size="6" text-anchor="middle">Time (Seconds)</text><text transform="translate(59.2,445.8) rotate(-90)" font-size="8.3" text-anchor="middle">Mxa (a.u.)</text>
<rect x="296.7" y="324.4" width="161.9" height="52.9" fill="none" stroke="#858585" stroke-width="0.8"/><line x1="296.7" y1="324.4" x2="296.7" y2="377.3" stroke="#111" stroke-width="1.2"/><text x="309.6" y="384.3" font-size="6.5" text-anchor="middle">5</text><text x="325.7" y="384.3" font-size="6.5" text-anchor="middle">10</text><text x="341.8" y="384.3" font-size="6.5" text-anchor="middle">15</text><text x="357.9" y="384.3" font-size="6.5" text-anchor="middle">20</text><text x="374" y="384.3" font-size="6.5" text-anchor="middle">25</text><text x="390.1" y="384.3" font-size="6.5" text-anchor="middle">30</text><text x="406.2" y="384.3" font-size="6.5" text-anchor="middle">35</text><text x="422.3" y="384.3" font-size="6.5" text-anchor="middle">40</text><text x="438.4" y="384.3" font-size="6.5" text-anchor="middle">45</text><text x="454.5" y="384.3" font-size="6.5" text-anchor="middle">50</text><text x="295.1" y="326.5" font-size="6.5" text-anchor="end">100</text><text x="295.1" y="337.1" font-size="6.5" text-anchor="end">90</text><text x="295.1" y="347.7" font-size="6.5" text-anchor="end">80</text><text x="295.1" y="358.2" font-size="6.5" text-anchor="end">70</text><text x="295.1" y="368.8" font-size="6.5" text-anchor="end">60</text><text x="295.1" y="379.4" font-size="6.5" text-anchor="end">50</text><path d="M309.6,377.3v-1.6M309.6,324.4v1.6M325.7,377.3v-1.6M325.7,324.4v1.6M341.8,377.3v-1.6M341.8,324.4v1.6M357.9,377.3v-1.6M357.9,324.4v1.6M374,377.3v-1.6M374,324.4v1.6M390.1,377.3v-1.6M390.1,324.4v1.6M406.2,377.3v-1.6M406.2,324.4v1.6M422.3,377.3v-1.6M422.3,324.4v1.6M438.4,377.3v-1.6M438.4,324.4v1.6M454.5,377.3v-1.6M454.5,324.4v1.6M296.7,324.4h1.6M458.6,324.4h-1.6M296.7,335h1.6M458.6,335h-1.6M296.7,345.6h1.6M458.6,345.6h-1.6M296.7,356.1h1.6M458.6,356.1h-1.6M296.7,366.7h1.6M458.6,366.7h-1.6M296.7,377.3h1.6M458.6,377.3h-1.6" stroke="#333" stroke-width="0.5" fill="none"/><text x="377.6" y="395.2" font-size="6" text-anchor="middle">Time (Seconds)</text><text transform="translate(282.6,350.9) rotate(-90)" font-size="8.3" text-anchor="middle">ABP (mmHg)</text>
<rect x="496.5" y="324.4" width="161.8" height="52.9" fill="none" stroke="#858585" stroke-width="0.8"/><text x="509.4" y="384.3" font-size="6.5" text-anchor="middle">5</text><text x="525.5" y="384.3" font-size="6.5" text-anchor="middle">10</text><text x="541.6" y="384.3" font-size="6.5" text-anchor="middle">15</text><text x="557.7" y="384.3" font-size="6.5" text-anchor="middle">20</text><text x="573.8" y="384.3" font-size="6.5" text-anchor="middle">25</text><text x="589.9" y="384.3" font-size="6.5" text-anchor="middle">30</text><text x="606" y="384.3" font-size="6.5" text-anchor="middle">35</text><text x="622.1" y="384.3" font-size="6.5" text-anchor="middle">40</text><text x="638.2" y="384.3" font-size="6.5" text-anchor="middle">45</text><text x="654.3" y="384.3" font-size="6.5" text-anchor="middle">50</text><text x="494.9" y="326.5" font-size="6.5" text-anchor="end">80</text><text x="494.9" y="339.7" font-size="6.5" text-anchor="end">70</text><text x="494.9" y="352.9" font-size="6.5" text-anchor="end">60</text><text x="494.9" y="366.2" font-size="6.5" text-anchor="end">50</text><text x="494.9" y="379.4" font-size="6.5" text-anchor="end">40</text><path d="M509.4,377.3v-1.6M509.4,324.4v1.6M525.5,377.3v-1.6M525.5,324.4v1.6M541.6,377.3v-1.6M541.6,324.4v1.6M557.7,377.3v-1.6M557.7,324.4v1.6M573.8,377.3v-1.6M573.8,324.4v1.6M589.9,377.3v-1.6M589.9,324.4v1.6M606,377.3v-1.6M606,324.4v1.6M622.1,377.3v-1.6M622.1,324.4v1.6M638.2,377.3v-1.6M638.2,324.4v1.6M654.3,377.3v-1.6M654.3,324.4v1.6M496.5,324.4h1.6M658.3,324.4h-1.6M496.5,337.6h1.6M658.3,337.6h-1.6M496.5,350.8h1.6M658.3,350.8h-1.6M496.5,364.1h1.6M658.3,364.1h-1.6M496.5,377.3h1.6M658.3,377.3h-1.6" stroke="#333" stroke-width="0.5" fill="none"/><text x="577.4" y="395.2" font-size="6" text-anchor="middle">Time (Seconds)</text><text transform="translate(484.6,350.9) rotate(-90)" font-size="8.3" text-anchor="middle">CBFv (cm/s)</text>
<rect x="296.7" y="419.1" width="161.9" height="53" fill="none" stroke="#858585" stroke-width="0.8"/><text x="309.2" y="479.1" font-size="6.5" text-anchor="middle">5</text><text x="324.9" y="479.1" font-size="6.5" text-anchor="middle">10</text><text x="340.5" y="479.1" font-size="6.5" text-anchor="middle">15</text><text x="356.1" y="479.1" font-size="6.5" text-anchor="middle">20</text><text x="371.8" y="479.1" font-size="6.5" text-anchor="middle">25</text><text x="387.4" y="479.1" font-size="6.5" text-anchor="middle">30</text><text x="403.1" y="479.1" font-size="6.5" text-anchor="middle">35</text><text x="418.7" y="479.1" font-size="6.5" text-anchor="middle">40</text><text x="434.3" y="479.1" font-size="6.5" text-anchor="middle">45</text><text x="450" y="479.1" font-size="6.5" text-anchor="middle">50</text><text x="295.1" y="421.2" font-size="6.5" text-anchor="end">90</text><text x="295.1" y="434.5" font-size="6.5" text-anchor="end">80</text><text x="295.1" y="447.7" font-size="6.5" text-anchor="end">70</text><text x="295.1" y="461" font-size="6.5" text-anchor="end">60</text><text x="295.1" y="474.2" font-size="6.5" text-anchor="end">50</text><path d="M309.2,472.1v-1.6M309.2,419.1v1.6M324.9,472.1v-1.6M324.9,419.1v1.6M340.5,472.1v-1.6M340.5,419.1v1.6M356.1,472.1v-1.6M356.1,419.1v1.6M371.8,472.1v-1.6M371.8,419.1v1.6M387.4,472.1v-1.6M387.4,419.1v1.6M403.1,472.1v-1.6M403.1,419.1v1.6M418.7,472.1v-1.6M418.7,419.1v1.6M434.3,472.1v-1.6M434.3,419.1v1.6M450,472.1v-1.6M450,419.1v1.6M296.7,419.1h1.6M458.6,419.1h-1.6M296.7,432.4h1.6M458.6,432.4h-1.6M296.7,445.6h1.6M458.6,445.6h-1.6M296.7,458.9h1.6M458.6,458.9h-1.6M296.7,472.1h1.6M458.6,472.1h-1.6" stroke="#333" stroke-width="0.5" fill="none"/><text x="377.6" y="490.9" font-size="6" text-anchor="middle">Time (Seconds)</text><text transform="translate(282.6,445.6) rotate(-90)" font-size="8.3" text-anchor="middle">ABP (mmHg)</text>
<rect x="496.5" y="419.1" width="161.8" height="53" fill="none" stroke="#858585" stroke-width="0.8"/><text x="509" y="479.1" font-size="6.5" text-anchor="middle">5</text><text x="524.7" y="479.1" font-size="6.5" text-anchor="middle">10</text><text x="540.3" y="479.1" font-size="6.5" text-anchor="middle">15</text><text x="555.9" y="479.1" font-size="6.5" text-anchor="middle">20</text><text x="571.6" y="479.1" font-size="6.5" text-anchor="middle">25</text><text x="587.2" y="479.1" font-size="6.5" text-anchor="middle">30</text><text x="602.9" y="479.1" font-size="6.5" text-anchor="middle">35</text><text x="618.5" y="479.1" font-size="6.5" text-anchor="middle">40</text><text x="634.1" y="479.1" font-size="6.5" text-anchor="middle">45</text><text x="649.8" y="479.1" font-size="6.5" text-anchor="middle">50</text><text x="494.9" y="421.2" font-size="6.5" text-anchor="end">80</text><text x="494.9" y="434.5" font-size="6.5" text-anchor="end">70</text><text x="494.9" y="447.7" font-size="6.5" text-anchor="end">60</text><text x="494.9" y="461" font-size="6.5" text-anchor="end">50</text><text x="494.9" y="474.2" font-size="6.5" text-anchor="end">40</text><path d="M509,472.1v-1.6M509,419.1v1.6M524.7,472.1v-1.6M524.7,419.1v1.6M540.3,472.1v-1.6M540.3,419.1v1.6M555.9,472.1v-1.6M555.9,419.1v1.6M571.6,472.1v-1.6M571.6,419.1v1.6M587.2,472.1v-1.6M587.2,419.1v1.6M602.9,472.1v-1.6M602.9,419.1v1.6M618.5,472.1v-1.6M618.5,419.1v1.6M634.1,472.1v-1.6M634.1,419.1v1.6M649.8,472.1v-1.6M649.8,419.1v1.6M496.5,419.1h1.6M658.3,419.1h-1.6M496.5,432.4h1.6M658.3,432.4h-1.6M496.5,445.6h1.6M658.3,445.6h-1.6M496.5,458.9h1.6M658.3,458.9h-1.6M496.5,472.1h1.6M658.3,472.1h-1.6" stroke="#333" stroke-width="0.5" fill="none"/><text x="577.4" y="490.4" font-size="6" text-anchor="middle">Time (Seconds)</text><text transform="translate(484.6,445.6) rotate(-90)" font-size="8.3" text-anchor="middle">CBFv (cm/s)</text>
<path d="M74.6,338.2H235.7M74.5,452.3H235.7" stroke="#e0503f" stroke-width="0.7" fill="none"/>
<path d="M74.6,338.5 80.3,336.5 87.1,336.2 92.9,344.5 99.2,352.3 105.4,358.3 111.7,361.6 118,357.8 124.3,354.5 130,354 136.3,357.6 142.5,358 148.7,363.4 155.1,369.6 161.2,367.7 167.4,365.9 173.9,368.9 179.7,365.8 186.5,358.6 192.3,356.6 198.3,349 204.8,340.7 210.8,337.7 217.4,336.2 223.4,339 229.7,344.8 235.7,346.3" fill="none" stroke="#111" stroke-width="1.3" stroke-linejoin="round"/>
<path d="M74.5,449.7 80.8,446 86.7,448.6 93.1,448.2 99.4,447.5 105.4,455.7 111.7,456.8 118,455.3 124,451.6 130.3,449.7 136.3,444.9 142.6,443.8 148.9,442.3 155.2,441.5 161.2,441.5 167.5,439.3 173.9,434.1 179.8,429.6 186.2,427 192.1,426.6 198.4,430.4 204.8,434.5 210.7,436.7 217.1,439.7 223.4,444.1 229.3,447.5 235.7,448.2" fill="none" stroke="#111" stroke-width="1.3" stroke-linejoin="round"/>
<path d="M296.9,359.4 297.1,356.8 297.4,355 297.6,355.8 297.9,356.8 298.1,358.3 298.3,359.8 298.6,360.9 298.8,357.7 299.1,354.5 299.3,351.9 299.5,353.6 299.8,355.7 300,357.5 300.3,359.4 300.5,361.5 300.7,358.8 301,356.2 301.2,353.2 301.5,353.8 301.7,355.1 301.9,356.2 302.2,357.4 302.4,359.1 302.7,360.4 302.9,358.6 303.1,356.1 303.4,353.7 303.6,353 303.9,353.4 304.1,354.7 304.3,355.2 304.6,356.6 304.8,357.1 305.1,358.4 305.3,355.8 305.5,353.6 305.8,350.6 306,350.2 306.3,351.6 306.5,353.1 306.7,354.4 307,355.7 307.2,356.9 307.5,358.2 307.7,357.6 307.9,355.2 308.2,353.1 308.4,350 308.7,350.5 308.9,351.6 309.1,353 309.4,354.3 309.6,354.8 309.9,355.9 310.1,356.3 310.3,353 310.6,350.3 310.8,346.2 311.1,347 311.3,348.2 311.5,350.4 311.8,352.3 312,353.9 312.3,355.9 312.5,351.9 312.7,348.1 313,344.5 313.2,346.6 313.5,349 313.7,351.1 313.9,352.9 314.2,355.3 314.4,356.5 314.7,353.3 314.9,349.7 315.1,347.3 315.4,348.1 315.6,349.3 315.9,351.1 316.1,352.3 316.3,353.7 316.6,355.2 316.8,356 317.1,352.4 317.3,348.9 317.5,346.2 317.8,346 318,347.2 318.3,348.4 318.5,349.9 318.7,351.1 319,352.7 319.2,354.5 319.5,355.3 319.7,352.8 319.9,350.6 320.2,347.9 320.4,346.1 320.7,347.8 320.9,349.8 321.1,351.8 321.4,353.4 321.6,354.9 321.9,356.1 322.1,357.8 322.3,356.2 322.6,353.8 322.8,351.3 323.1,350.2 323.3,351.9 323.5,353.3 323.8,355.1 324,356.6 324.3,358.1 324.5,359.8 324.7,361.5 325,360.2 325.2,358.3 325.5,356 325.7,355.4 325.9,357.6 326.2,359.6 326.4,361.1 326.7,363.2 326.9,365.2 327.1,366.7 327.4,366.6 327.6,364 327.9,361.6 328.1,358.9 328.3,359.6 328.6,361.7 328.8,363.2 329.1,365.1 329.3,366.5 329.5,368.2 329.8,369.7 330,366.8 330.3,364 330.5,361.3 330.7,360.9 331,362.8 331.2,364.1 331.5,365.3 331.7,367 331.9,368.7 332.2,368.9 332.4,366.3 332.7,363.2 332.9,361 333.1,362.4 333.4,363.3 333.6,365 333.9,366.6 334.1,367.7 334.3,368.6 334.6,366.5 334.8,364.6 335.1,362.1 335.3,363.2 335.5,364.2 335.8,365.5 336,366.9 336.3,368.4 336.5,368.6 336.7,366.1 337,363.4 337.2,360.9 337.5,361.9 337.7,363.8 337.9,365.1 338.2,366.3 338.4,367.7 338.7,368.9 338.9,366.3 339.1,363.8 339.4,361.6 339.6,361.5 339.9,362.3 340.1,363.6 340.3,364.6 340.6,365.2 340.8,366.3 341.1,365.7 341.3,363.5 341.5,361.2 341.8,359.6 342,359.5 342.3,360.8 342.5,362 342.7,363.3 343,365 343.2,366.1 343.5,366.3 343.7,363.9 343.9,362.1 344.2,360.1 344.4,360.5 344.7,362.1 344.9,363.6 345.1,365 345.4,365.9 345.6,367.2 345.9,368.2 346.1,365 346.3,361.4 346.6,358.7 346.8,358.7 347.1,361.1 347.3,362.3 347.5,363.8 347.8,365.2 348,366 348.3,363 348.5,359.9 348.7,357.3 349,357.8 349.2,359.7 349.5,361.4 349.7,362.6 349.9,364.2 350.2,365.5 350.4,362.1 350.7,359.3 350.9,356.4 351.1,357.5 351.4,358.8 351.6,360 351.9,361.4 352.1,362.4 352.3,363.9 352.6,361.7 352.8,359.1 353.1,356.2 353.3,356.2 353.5,357.4 353.8,358.8 354,359.9 354.3,361.4 354.5,362.8 354.7,363.3 355,361 355.2,358.7 355.5,356.3 355.7,356.9 355.9,357.6 356.2,359.1 356.4,360.5 356.7,362.6 356.9,363.9 357.1,362.2 357.4,359.7 357.6,356.5 357.9,355.9 358.1,357.1 358.3,358.3 358.6,359.8 358.8,361.4 359.1,363.3 359.3,361.1 359.5,357.9 359.8,354.7 360,355.1 360.3,356.5 360.5,358 360.7,359.5 361,361.1 361.2,362.4 361.5,358.7 361.7,355.5 361.9,352.3 362.2,353.8 362.4,354.9 362.7,356.2 362.9,357.6 363.1,359.1 363.4,360.3 363.6,358.7 363.9,355.8 364.1,353.1 364.3,352.2 364.6,353.5 364.8,355.3 365.1,356.3 365.3,357 365.5,358.2 365.8,359.3 366,358.4 366.3,355.1 366.5,352.4 366.7,350.1 367,351.4 367.2,352.7 367.5,354.2 367.7,355.1 367.9,356 368.2,357.2 368.4,355.9 368.7,353.3 368.9,350.4 369.1,349.4 369.4,350.5 369.6,352.2 369.9,354 370.1,356.1 370.3,357.8 370.6,357.6 370.8,355.1 371.1,352.7 371.3,350.9 371.5,352.4 371.8,354.1 372,355.9 372.3,357.6 372.5,359.1 372.7,360.2 373,357.4 373.2,354.6 373.5,351.7 373.7,353.5 373.9,355.3 374.2,356.3 374.4,357.5 374.7,358.9 374.9,359.7 375.1,357.2 375.4,354.9 375.6,353.3 375.9,355 376.1,356.1 376.3,358.1 376.6,359.7 376.8,361.7 377.1,363 377.3,360.7 377.5,359 377.8,357.1 378,356.4 378.3,357.8 378.5,359.3 378.7,360.5 379,361.9 379.2,362.7 379.5,363.9 379.7,361 379.9,359 380.2,356.6 380.4,355.7 380.7,356.6 380.9,357.6 381.1,358.5 381.4,359.3 381.6,357.4 381.9,357.3 382.1,357.5 382.3,356.3 382.6,355.2 382.8,354.5 383.1,354.1 383.3,353.4 383.5,352.4 383.8,351.3 384,350.8 384.3,350 384.5,349.6 384.7,349.3 385,350 385.2,350.1 385.5,350.2 385.7,351 385.9,351.8 386.2,352.9 386.4,354.1 386.7,354.9 386.9,355.9 387.1,356.8 387.4,357.6 387.6,357.6 387.9,357.4 388.1,357.2 388.3,356.5 388.6,355.5 388.8,354.4 389.1,353.7 389.3,353.7 389.5,352 389.8,351.9 390,352.1 390.3,352.9 390.5,353.1 390.7,351.7 391,349.3 391.2,347 391.5,345.5 391.7,346.3 391.9,346.7 392.2,347.6 392.4,348.9 392.7,349.8 392.9,349.6 393.1,347.5 393.4,345.1 393.6,342.9 393.9,344.5 394.1,346.2 394.3,347.9 394.6,348.8 394.8,350.1 395.1,351.4 395.3,350.3 395.5,348.3 395.8,345.5 396,346 396.3,347.3 396.5,348.6 396.7,350.1 397,351.5 397.2,352.5 397.5,351.5 397.7,348.8 397.9,346.8 398.2,345.1 398.4,345.9 398.7,347.6 398.9,349.1 399.1,350.7 399.4,351.8 399.6,353.3 399.9,352.3 400.1,349.9 400.3,347.8 400.6,346.9 400.8,348.4 401.1,350.1 401.3,351.3 401.5,352.8 401.8,354.7 402,355.1 402.3,352.6 402.5,350.1 402.7,348.2 403,349.8 403.2,351.2 403.5,352.5 403.7,353.6 403.9,354.5 404.2,355.6 404.4,353.8 404.7,351.5 404.9,349.3 405.1,349.6 405.4,351.1 405.6,352.5 405.9,354 406.1,355.1 406.3,355.2 406.6,353.6 406.8,351.7 407.1,349.8 407.3,350.8 407.5,352.5 407.8,354.3 408,356.1 408.3,357.3 408.5,359.5 408.7,357.4 409,354.8 409.2,352.5 409.5,351.5 409.7,352.6 409.9,353 410.2,353.5 410.4,354.1 410.7,355 410.9,353.8 411.1,351.4 411.4,348.5 411.6,346 411.9,346.7 412.1,347.6 412.3,348.2 412.6,349.1 412.8,350 413.1,350.7 413.3,348 413.5,345.4 413.8,342.9 414,343.4 414.3,344.3 414.5,345 414.7,345.5 415,346.5 415.2,345.5 415.5,343 415.7,340 415.9,338.3 416.2,339.2 416.4,340.2 416.7,341.7 416.9,343.2 417.1,344.4 417.4,342.1 417.6,338.9 417.9,335.7 418.1,337.7 418.3,339.2 418.6,340.7 418.8,342.2 419.1,343.8 419.3,343.7 419.5,340.2 419.8,336.9 420,334.1 420.3,335.6 420.5,337.1 420.7,338.4 421,339.8 421.2,341 421.5,341.7 421.7,338.3 421.9,335.5 422.2,332.2 422.4,333.7 422.7,335.5 422.9,337.5 423.1,339.2 423.4,340.8 423.6,342.5 423.9,340.1 424.1,337.2 424.3,333.8 424.6,332.1 424.8,333.5 425.1,335.2 425.3,336.6 425.5,338.1 425.8,339.9 426,340.9 426.3,339.7 426.5,336.8 426.7,333.9 427,332.6 427.2,333.9 427.5,335.8 427.7,337.7 427.9,339.8 428.2,341.5 428.4,342.6 428.7,341.1 428.9,338.6 429.1,335.6 429.4,333.2 429.6,333.9 429.9,335.3 430.1,336.7 430.3,338.2 430.6,340.1 430.8,342 431.1,343.1 431.3,340.4 431.5,337.9 431.8,335.8 432,335.1 432.3,336.2 432.5,337.6 432.7,339 433,341 433.2,342.6 433.5,344 433.7,344.1 433.9,341.6 434.2,338.5 434.4,336.1 434.7,334 434.9,335.5 435.1,337.2 435.4,338.8 435.6,340.5 435.9,342.3 436.1,343.7 436.3,344.6 436.6,342 436.8,339.6 437.1,336.8 437.3,335.4 437.5,337.3 437.8,338.8 438,340.5 438.3,342 438.5,343.5 438.7,345.2 439,346 439.2,343.5 439.5,341.4 439.7,339.4 439.9,338.3 440.2,339.3 440.4,340.6 440.7,342 440.9,343.5 441.1,345.1 441.4,347.3 441.6,344.1 441.9,340.9 442.1,337.6 442.3,338.5 442.6,339.7 442.8,341.6 443.1,343.5 443.3,345.3 443.5,347 443.8,344.6 444,342.1 444.3,339 444.5,339.7 444.7,341 445,342.8 445.2,345 445.5,347.4 445.7,346 445.9,342.7 446.2,339.8 446.4,339.7 446.7,341.1 446.9,342.6 447.1,344.2 447.4,346 447.6,347 447.9,344.5 448.1,341.6 448.3,341 448.6,342.7 448.8,344 449.1,346 449.3,348.9 449.5,349.6 449.8,346.3 450,344 450.3,342.9 450.5,344.7 450.7,346.4 451,347.8 451.2,349.3 451.5,351.3 451.7,348.4 451.9,345.9 452.2,343.4 452.4,344.9 452.7,346.1 452.9,347.5 453.1,349.1 453.4,350.1 453.6,350.3 453.9,347.4 454.1,344.7 454.3,343.9 454.6,345.2 454.8,346.8 455.1,348.2 455.3,349.5 455.5,351.6 455.8,350.4 456,347.4 456.3,345.1 456.5,346.5 456.7,348.4 457,350 457.2,351.6 457.5,351.7 457.7,348.9 457.9,347.3 458.2,348.5" fill="none" stroke="#1a1a1a" stroke-width="0.47" stroke-linejoin="miter"/>
<path d="M496.7,343 496.9,338.6 497.2,335.3 497.4,337.5 497.7,340 497.9,342.6 498.1,344.8 498.4,347 498.6,345.9 498.9,342 499.1,338 499.3,336.8 499.6,338.9 499.8,340.8 500.1,342.6 500.3,345.5 500.5,347.1 500.8,347.1 501,343.6 501.3,339.6 501.5,336 501.7,337.8 502,340.2 502.2,341.7 502.5,342.8 502.7,344.7 502.9,346 503.2,344.7 503.4,341.4 503.7,337.6 503.9,335.3 504.1,337.8 504.4,339.6 504.6,341.6 504.9,343.4 505.1,345.2 505.3,346 505.6,343.3 505.8,340.7 506.1,337.5 506.3,337.2 506.5,339.1 506.8,341 507,342.4 507.3,343.9 507.5,344.9 507.7,345.6 508,347.3 508.2,345.3 508.5,342.4 508.7,339.7 508.9,336.3 509.2,336.5 509.4,338.2 509.7,339.8 509.9,340.8 510.1,342 510.4,343 510.6,344.6 510.9,344.8 511.1,342.3 511.3,339.4 511.6,336.6 511.8,333.5 512.1,334.7 512.3,336 512.5,337.8 512.8,339.8 513,341.5 513.3,342.7 513.5,344.4 513.7,341.5 514,338.5 514.2,335.6 514.5,333.9 514.7,335.2 514.9,336.7 515.2,338.4 515.4,340.4 515.7,342.4 515.9,343.8 516.1,343.3 516.4,339.8 516.6,337.1 516.9,333.3 517.1,335.5 517.3,337.6 517.6,339.7 517.8,341.3 518.1,343.4 518.3,345.5 518.5,342.4 518.8,337.9 519,333.5 519.3,333.9 519.5,336.5 519.7,339.3 520,342.1 520.2,345.2 520.5,347.8 520.7,345.3 520.9,340.9 521.2,337.2 521.4,338.7 521.7,341.1 521.9,344.1 522.1,346.9 522.4,349.7 522.6,352 522.9,348.6 523.1,344.6 523.3,340.8 523.6,342.7 523.8,345.4 524.1,348.1 524.3,351.2 524.5,354.2 524.8,356.4 525,354.2 525.3,350.5 525.5,347.4 525.7,346.8 526,349.3 526.2,352.1 526.5,354.9 526.7,357.3 526.9,359.8 527.2,361.4 527.4,358.5 527.7,354.6 527.9,351.1 528.1,352.1 528.4,354.7 528.6,356.8 528.9,358.9 529.1,361 529.3,362.7 529.6,360.7 529.8,357.6 530.1,354.6 530.3,354.3 530.5,356.6 530.8,358.5 531,361.3 531.3,363.4 531.5,365.9 531.7,363.3 532,359.8 532.2,356.9 532.5,357 532.7,359.3 532.9,361 533.2,363 533.4,364.8 533.7,366.5 533.9,365.4 534.1,362.4 534.4,359.2 534.6,358.6 534.9,360.7 535.1,362.8 535.3,364.5 535.6,365.8 535.8,367.7 536.1,368.6 536.3,367.2 536.5,364.3 536.8,362.2 537,360.3 537.3,361.5 537.5,362.8 537.7,364.1 538,365.4 538.2,366.3 538.5,367.4 538.7,368.7 538.9,370.4 539.2,367.9 539.4,365.6 539.7,363 539.9,361.8 540.1,363 540.4,364.1 540.6,365.1 540.9,366.3 541.1,367.3 541.3,368.6 541.6,370.1 541.8,368.7 542.1,366.7 542.3,364.1 542.5,362 542.8,361.8 543,363.6 543.3,364.9 543.5,366.3 543.7,367.8 544,369.6 544.2,371.3 544.5,370.6 544.7,367.7 544.9,364.7 545.2,362.5 545.4,363.4 545.7,364.6 545.9,366.4 546.1,367.9 546.4,368.8 546.6,370.1 546.9,371.6 547.1,370.8 547.3,368.8 547.6,366.8 547.8,365.3 548.1,366.4 548.3,367.7 548.5,368.1 548.8,369 549,370.5 549.3,371 549.5,372.2 549.7,370.7 550,368.5 550.2,366.3 550.5,364.1 550.7,365.2 550.9,366.6 551.2,367.7 551.4,368.9 551.7,370.2 551.9,372 552.1,371.6 552.4,368.6 552.6,365.7 552.9,363.2 553.1,364 553.3,365.4 553.6,366.7 553.8,367.9 554.1,369 554.3,370.6 554.5,370.9 554.8,368.1 555,365.6 555.3,362.4 555.5,363.2 555.7,364.9 556,366.4 556.2,367.7 556.5,369.4 556.7,370.7 556.9,369.3 557.2,366.8 557.4,363.7 557.7,362.3 557.9,363.9 558.1,365.4 558.4,366.1 558.6,367.9 558.9,369.2 559.1,368.2 559.3,365.2 559.6,362.2 559.8,361.3 560.1,362.8 560.3,364.6 560.5,366.1 560.8,367.6 561,369.1 561.3,366.5 561.5,364.3 561.7,361.8 562,362.6 562.2,364 562.5,365.7 562.7,367.4 562.9,369.3 563.2,371 563.4,368.5 563.7,365.5 563.9,361.8 564.1,362.5 564.4,364.2 564.6,366 564.9,367.9 565.1,370 565.3,372.1 565.6,368.4 565.8,364.8 566.1,361.5 566.3,363.2 566.5,365.1 566.8,367.1 567,368.7 567.3,370.8 567.5,372.4 567.7,369 568,366.2 568.2,362.9 568.5,363.4 568.7,365.3 568.9,367 569.2,368.6 569.4,370.1 569.7,371.6 569.9,370.3 570.1,367.7 570.4,364.9 570.6,363 570.9,364 571.1,365.8 571.3,366.8 571.6,367.8 571.8,369.1 572.1,369.8 572.3,369.5 572.5,367.1 572.8,364.5 573,362 573.3,362 573.5,363.2 573.7,364.4 574,366.5 574.2,368.4 574.5,369 574.7,370.3 574.9,369.9 575.2,367.1 575.4,364.8 575.7,362.3 575.9,363.3 576.1,365 576.4,366.9 576.6,368.4 576.9,370.2 577.1,372.1 577.3,371.4 577.6,368.1 577.8,365.2 578.1,363.1 578.3,364.2 578.5,365.8 578.8,367.1 579,367.8 579.3,368.9 579.5,370 579.7,367.4 580,364.4 580.2,361.2 580.5,359.7 580.7,360.9 580.9,362.2 581.2,363.3 581.4,364.1 581.7,365 581.9,366 582.1,364.2 582.4,361.8 582.6,359.1 582.9,356.5 583.1,357.3 583.3,358.1 583.6,358.8 583.8,359.5 584.1,360.1 584.3,360.5 584.5,360.7 584.8,358.8 585,356.6 585.3,354.6 585.5,353.5 585.7,354.7 586,355.1 586.2,356.5 586.5,357.7 586.7,358.8 586.9,360 587.2,360.4 587.4,357.6 587.7,354.8 587.9,352.1 588.1,350.2 588.4,351.4 588.6,352.8 588.9,354.1 589.1,355.2 589.3,356.9 589.6,357.8 589.8,358.8 590.1,355.9 590.3,353 590.5,351.1 590.8,349.6 591,351.1 591.3,352.6 591.5,353.3 591.7,354.4 592,355.3 592.2,356.2 592.5,355.5 592.7,353.3 592.9,350.9 593.2,348.3 593.4,348.1 593.7,348.9 593.9,349.8 594.1,351.3 594.4,352.7 594.6,353.6 594.9,354.6 595.1,352.1 595.3,349.8 595.6,347 595.8,348.1 596.1,349.5 596.3,351.3 596.5,353.4 596.8,355.2 597,357.7 597.3,356.8 597.5,353.6 597.7,350.2 598,349 598.2,351.5 598.5,353.7 598.7,355.9 598.9,357.9 599.2,360.2 599.4,362 599.7,358.4 599.9,355.2 600.1,352.3 600.4,353.3 600.6,355 600.9,356.8 601.1,358.7 601.3,359.9 601.6,359.4 601.8,356.4 602.1,352.8 602.3,350.9 602.5,352.5 602.8,353.7 603,355 603.3,356.3 603.5,358.3 603.7,356.3 604,352.8 604.2,349.3 604.5,350 604.7,351.7 604.9,353.5 605.2,354.7 605.4,356 605.7,355.8 605.9,352 606.1,348.9 606.4,346.5 606.6,348.1 606.9,349.1 607.1,350.4 607.3,352.1 607.6,354.1 607.8,354.8 608.1,351.3 608.3,347.7 608.5,344.8 608.8,346.1 609,347.6 609.3,349.4 609.5,351 609.7,353.1 610,354.8 610.2,353.6 610.5,349.9 610.7,345.9 610.9,343.7 611.2,344.7 611.4,346.1 611.7,347.6 611.9,349 612.1,350.8 612.4,350.1 612.6,346.4 612.9,341.7 613.1,339.8 613.3,341.3 613.6,343.2 613.8,345.4 614.1,347.7 614.3,349.3 614.5,347.4 614.8,343.7 615,339.7 615.3,337.9 615.5,338.7 615.7,340.3 616,342.3 616.2,344.5 616.5,346 616.7,344 616.9,339.2 617.2,334.4 617.4,333.2 617.7,335 617.9,337 618.1,338.3 618.4,340.2 618.6,342.1 618.9,341.1 619.1,337.5 619.3,333.1 619.6,331.2 619.8,333.1 620.1,334.3 620.3,336 620.5,337.5 620.8,339 621,338.5 621.3,334.5 621.5,331 621.7,329.1 622,330.5 622.2,332 622.5,333.8 622.7,336.2 622.9,338.5 623.2,336.8 623.4,333.2 623.7,329.4 623.9,329.2 624.1,331.1 624.4,332.7 624.6,334.5 624.9,337 625.1,339.1 625.3,338.2 625.6,334.7 625.8,331.6 626.1,329 626.3,330.7 626.5,332.7 626.8,335 627,337.1 627.3,338.9 627.5,340.5 627.7,340.2 628,337.2 628.2,333.8 628.5,330.7 628.7,332 628.9,333.6 629.2,335.1 629.4,336.5 629.7,338.4 629.9,340.3 630.1,338.9 630.4,334.5 630.6,330.7 630.9,328 631.1,329.4 631.3,331.7 631.6,333.6 631.8,335.8 632.1,338 632.3,340.6 632.5,337.8 632.8,333.7 633,329.3 633.3,327.5 633.5,329.5 633.7,332 634,334.4 634.2,336.3 634.5,338.1 634.7,339.7 634.9,337.1 635.2,334.1 635.4,330.7 635.7,329.4 635.9,331.8 636.1,333.6 636.4,335.3 636.6,337.6 636.9,339.6 637.1,341.2 637.3,338.7 637.6,335.7 637.8,332.9 638.1,331.3 638.3,333 638.5,334.3 638.8,336.2 639,338.2 639.3,340.1 639.5,341.8 639.7,342 640,338.5 640.2,335.5 640.5,332.5 640.7,332.1 640.9,333.4 641.2,335.6 641.4,337.3 641.7,339.2 641.9,341.2 642.1,342.6 642.4,340.6 642.6,337.1 642.9,333.7 643.1,330.4 643.3,332.9 643.6,335.2 643.8,337.3 644.1,339.3 644.3,342 644.5,343.4 644.8,343.1 645,339.3 645.3,336.1 645.5,333.2 645.7,335 646,336.7 646.2,338.4 646.5,340.4 646.7,342.1 646.9,343.8 647.2,342.9 647.4,339.5 647.7,336.5 647.9,334 648.1,335.4 648.4,337.4 648.6,339.3 648.9,341.3 649.1,343.6 649.3,345.5 649.6,343.9 649.8,340.4 650.1,336.9 650.3,334.9 650.5,337.2 650.8,339.6 651,341.4 651.3,343.6 651.5,345.9 651.7,348.7 652,346.7 652.2,343.9 652.5,340.5 652.7,337.4 652.9,339.7 653.2,341.8 653.4,343.9 653.7,345.5 653.9,347.1 654.1,348.8 654.4,350 654.6,347.3 654.9,344.7 655.1,341.4 655.3,338.2 655.6,338.7 655.8,339.6 656.1,341.2 656.3,342.7 656.5,344.4 656.8,346 657,347.8 657.3,349.2 657.5,350.8 657.7,349 658,346.8" fill="none" stroke="#1a1a1a" stroke-width="0.47" stroke-linejoin="miter"/>
<path d="M296.9,456.7 297.1,454.8 297.4,452.9 297.6,451 297.9,451.2 298.1,452.5 298.3,453.7 298.6,454.9 298.8,456.4 299.1,457.8 299.3,459.1 299.5,458.2 299.8,455.3 300,452.6 300.3,449.9 300.5,450.8 300.7,452.1 301,453.2 301.2,454.5 301.5,455.8 301.7,456.8 301.9,457.1 302.2,454.6 302.4,452.4 302.7,450.7 302.9,451 303.1,452.3 303.4,453.5 303.6,454.6 303.9,455.6 304.1,456.5 304.3,457.1 304.6,456.8 304.8,454.2 305.1,452.1 305.3,449.2 305.5,448.1 305.8,449.1 306,450.5 306.3,451.6 306.5,452.4 306.7,453.6 307,454.3 307.2,451.1 307.5,447.9 307.7,446 307.9,445 308.2,445.7 308.4,446.8 308.7,448.3 308.9,449.9 309.1,451.1 309.4,452 309.6,449.3 309.9,446.3 310.1,442.7 310.3,442.1 310.6,443.7 310.8,445.3 311.1,446.2 311.3,447.7 311.5,449.6 311.8,449.4 312,445.2 312.3,440.9 312.5,437.2 312.7,439.1 313,440.5 313.2,442.6 313.5,444.5 313.7,446.3 313.9,447.7 314.2,445.8 314.4,442.5 314.7,439.2 314.9,437 315.1,438.9 315.4,441.4 315.6,443.9 315.9,446.1 316.1,448.2 316.3,449.9 316.6,448.8 316.8,445.9 317.1,442.7 317.3,440.1 317.5,441.7 317.8,443.7 318,445.8 318.3,446.9 318.5,449.1 318.7,450.2 319,449.9 319.2,446.5 319.5,443.2 319.7,440.9 319.9,442.4 320.2,444.2 320.4,446 320.7,447.4 320.9,449.2 321.1,450.7 321.4,447.6 321.6,444.8 321.9,441.4 322.1,441.9 322.3,443.3 322.6,445.3 322.8,447.3 323.1,449.3 323.3,451.8 323.5,448.9 323.8,445.9 324,443.1 324.3,443.9 324.5,446.1 324.7,448.2 325,450 325.2,451.6 325.5,454.1 325.7,452.5 325.9,449.9 326.2,447.3 326.4,446.5 326.7,448.4 326.9,450.2 327.1,451.9 327.4,454 327.6,455.8 327.9,456.8 328.1,453.4 328.3,451 328.6,448.5 328.8,448.2 329.1,449.8 329.3,451.6 329.5,453.7 329.8,456.2 330,458.1 330.3,459.2 330.5,456.5 330.7,453.5 331,450.4 331.2,451.1 331.5,453.3 331.7,454.7 331.9,456.1 332.2,457.7 332.4,459.4 332.7,460.5 332.9,457.9 333.1,454.5 333.4,451.1 333.6,452.3 333.9,454.1 334.1,455.6 334.3,457.3 334.6,459.1 334.8,461.3 335.1,459.7 335.3,456.7 335.5,454 335.8,453.9 336,455.2 336.3,457.2 336.5,458.8 336.7,460.9 337,463.2 337.2,462.2 337.5,459 337.7,456.1 337.9,454.2 338.2,456.2 338.4,457.9 338.7,460 338.9,461.7 339.1,464.1 339.4,466 339.6,462.2 339.9,459.4 340.1,456.1 340.3,456.2 340.6,458.3 340.8,460.3 341.1,462.2 341.3,463.9 341.5,464.9 341.8,465 342,461.7 342.3,459.2 342.5,455.5 342.7,455 343,456.8 343.2,458.7 343.5,460.5 343.7,462.4 343.9,464.3 344.2,464.7 344.4,461.1 344.7,457.2 344.9,453.9 345.1,455.6 345.4,458 345.6,459.7 345.9,461.6 346.1,464 346.3,465.1 346.6,461.1 346.8,456.9 347.1,454.6 347.3,457.2 347.5,459.4 347.8,461.9 348,464.4 348.3,466.8 348.5,463 348.7,458.7 349,456 349.2,458.9 349.5,461.4 349.7,463.4 349.9,465.3 350.2,467.3 350.4,464.4 350.7,460.6 350.9,457.2 351.1,458.5 351.4,460.6 351.6,462.5 351.9,464.5 352.1,466 352.3,468.3 352.6,467.2 352.8,464.2 353.1,461.6 353.3,459.1 353.5,459.8 353.8,461.7 354,463.3 354.3,464.8 354.5,466.4 354.7,467.3 355,468.6 355.2,468.5 355.5,465.9 355.7,462.7 355.9,459.9 356.2,457.4 356.4,458.2 356.7,459.9 356.9,461.7 357.1,462.8 357.4,464.2 357.6,466.2 357.9,468 358.1,470 358.3,466.3 358.6,462.6 358.8,459.4 359.1,458.9 359.3,460.6 359.5,462.6 359.8,464.5 360,466.4 360.3,468.1 360.5,469.8 360.7,467.7 361,464 361.2,461.6 361.5,459.7 361.7,460.6 361.9,462.2 362.2,463.7 362.4,465.2 362.7,467.1 362.9,468.6 363.1,467.5 363.4,464.6 363.6,461.6 363.9,459.5 364.1,460.9 364.3,463 364.6,463.7 364.8,465.6 365.1,467.6 365.3,469.1 365.5,467.6 365.8,464.1 366,459.7 366.3,455.6 366.5,456.8 366.7,458.3 367,460 367.2,461.5 367.5,463.2 367.7,464.8 367.9,467 368.2,464.1 368.4,460.3 368.7,457.3 368.9,454.6 369.1,456.6 369.4,458.6 369.6,459.8 369.9,461.2 370.1,463 370.3,464.6 370.6,464.4 370.8,461.6 371.1,458.7 371.3,456 371.5,455.3 371.8,457.2 372,458.4 372.3,460.4 372.5,462.2 372.7,463.3 373,465.2 373.2,464.8 373.5,461.5 373.7,458.6 373.9,455.2 374.2,455.2 374.4,456.5 374.7,457.8 374.9,459.4 375.1,461 375.4,463 375.6,462.4 375.9,459 376.1,456 376.3,452.9 376.6,454.2 376.8,455.9 377.1,457.2 377.3,458.9 377.5,460.9 377.8,462.5 378,462.1 378.3,458.4 378.5,454.5 378.7,451 379,452.9 379.2,454.5 379.5,456.2 379.7,457.7 379.9,460 380.2,461.8 380.4,460.2 380.7,456.2 380.9,452.7 381.1,450.8 381.4,452.8 381.6,454.6 381.9,456.4 382.1,458.8 382.3,460.6 382.6,462.9 382.8,461.1 383.1,457.6 383.3,454.1 383.5,452.6 383.8,453.9 384,456 384.3,458.1 384.5,460 384.7,462.2 385,460.1 385.2,456.5 385.5,452.7 385.7,453.3 385.9,455.2 386.2,456.6 386.4,458.6 386.7,460.5 386.9,462.1 387.1,459 387.4,455.3 387.6,451.3 387.9,453 388.1,454.6 388.3,455.8 388.6,455.9 388.8,455.3 389.1,454.7 389.3,453.7 389.5,452.7 389.8,451.4 390,450.4 390.3,448.9 390.5,446.9 390.7,445.1 391,443.7 391.2,442.4 391.5,441.7 391.7,441.6 391.9,441.7 392.2,443.2 392.4,445 392.7,447.3 392.9,449.1 393.1,450.5 393.4,451.5 393.6,452.6 393.9,453.4 394.1,453.9 394.3,453.9 394.6,454 394.8,454.6 395.1,455.7 395.3,456.3 395.5,456.9 395.8,457.4 396,457.2 396.3,457.8 396.5,457.6 396.7,457.4 397,456.6 397.2,453.4 397.5,454.7 397.7,455.8 397.9,456.5 398.2,457 398.4,458.2 398.7,453.6 398.9,449.9 399.1,446.1 399.4,446.9 399.6,448.4 399.9,449.6 400.1,451.4 400.3,452.8 400.6,454.6 400.8,452.5 401.1,449.2 401.3,446.4 401.5,444.5 401.8,446.2 402,448 402.3,449.8 402.5,451.8 402.7,454.1 403,455.7 403.2,452.9 403.5,449.3 403.7,446.3 403.9,443.8 404.2,445.9 404.4,447.6 404.7,449 404.9,450.6 405.1,452.2 405.4,454.7 405.6,454 405.9,450.7 406.1,447.7 406.3,444 406.6,445.7 406.8,448.1 407.1,450 407.3,452.3 407.5,454.5 407.8,456.9 408,454.8 408.3,451 408.5,447.5 408.7,447.4 409,449.5 409.2,450.9 409.5,452.4 409.7,454.6 409.9,456.9 410.2,457.6 410.4,453.5 410.7,450 410.9,446.5 411.1,447.1 411.4,448.4 411.6,450 411.9,451.2 412.1,453.5 412.3,455.4 412.6,454.6 412.8,450.8 413.1,447 413.3,443 413.5,444.2 413.8,445.8 414,447.4 414.3,449.2 414.5,451.8 414.7,453.8 415,455.9 415.2,453.4 415.5,449.2 415.7,444.5 415.9,439.8 416.2,443.3 416.4,446 416.7,448.8 416.9,451.3 417.1,454.3 417.4,457.2 417.6,456.4 417.9,451.3 418.1,446.7 418.3,441.7 418.6,443.7 418.8,446.2 419.1,448.8 419.3,451.2 419.5,453.3 419.8,456.2 420,456.8 420.3,452.6 420.5,448.1 420.7,443.2 421,442.7 421.2,446 421.5,448.4 421.7,450.8 421.9,453.6 422.2,455.5 422.4,456.5 422.7,452.5 422.9,448.8 423.1,444.2 423.4,445.4 423.6,447.4 423.9,450 424.1,452.5 424.3,455.2 424.6,457.4 424.8,455.7 425.1,451.1 425.3,446.8 425.5,445.5 425.8,447.7 426,450.1 426.3,452.4 426.5,455.2 426.7,457.8 427,456.6 427.2,450.9 427.5,444.9 427.7,442.4 427.9,445.5 428.2,447.8 428.4,450.9 428.7,453.8 428.9,456.4 429.1,459.5 429.4,454.3 429.6,448.8 429.9,443.5 430.1,440.9 430.3,444.2 430.6,447.1 430.8,449.9 431.1,453.2 431.3,456.3 431.5,460 431.8,454.7 432,448.3 432.3,442.2 432.5,441.4 432.7,444.3 433,447.4 433.2,450.5 433.5,453.6 433.7,456.3 433.9,454.7 434.2,448.9 434.4,443.1 434.7,440.1 434.9,442.9 435.1,445.8 435.4,448.6 435.6,451.5 435.9,453.5 436.1,450.1 436.3,444.7 436.6,439.3 436.8,440 437.1,442.6 437.3,445.5 437.5,448.3 437.8,450.7 438,450.5 438.3,445.7 438.5,440.9 438.7,438.3 439,440.3 439.2,443.5 439.5,446.5 439.7,448.9 439.9,451.3 440.2,451.7 440.4,447.2 440.7,442.8 440.9,438.1 441.1,439.8 441.4,442.3 441.6,444.6 441.9,446.5 442.1,448.7 442.3,451.2 442.6,447.5 442.8,443 443.1,438.6 443.3,437.9 443.5,441.1 443.8,443.5 444,445.9 444.3,448.7 444.5,451.9 444.7,448 445,442.9 445.2,437.2 445.5,438.9 445.7,441.8 445.9,445.1 446.2,447.4 446.4,450.9 446.7,450.4 446.9,444.5 447.1,437.9 447.4,436.4 447.6,439.2 447.9,442.1 448.1,445.5 448.3,449.2 448.6,450.9 448.8,445.4 449.1,440.8 449.3,436.4 449.5,439.4 449.8,441.9 450,444.9 450.3,447.8 450.5,451.9 450.7,449.9 451,444.3 451.2,438.4 451.5,439.4 451.7,442.4 451.9,446.1 452.2,449.8 452.4,453.3 452.7,456.7 452.9,451.7 453.1,446.6 453.4,441.4 453.6,440.9 453.9,443.8 454.1,446.7 454.3,449.7 454.6,452.9 454.8,455.2 455.1,456.5 455.3,452.3 455.5,448.4 455.8,444.3 456,445 456.3,447.9 456.5,450.6 456.7,453 457,455.2 457.2,457.6 457.5,460 457.7,458.7 457.9,455.9 458.2,453.4" fill="none" stroke="#1a1a1a" stroke-width="0.47" stroke-linejoin="miter"/>
<path d="M496.7,445.3 496.9,442.9 497.2,440.3 497.4,437.5 497.7,437.4 497.9,438.2 498.1,438.8 498.4,440 498.6,441.5 498.9,442.9 499.1,444.5 499.3,444.3 499.6,440.8 499.8,437.7 500.1,434.5 500.3,433.2 500.5,434.6 500.8,436.4 501,438.1 501.3,439.7 501.5,441.4 501.7,442.8 502,442.5 502.2,439.9 502.5,437.6 502.7,435.4 502.9,435.2 503.2,436.4 503.4,437.4 503.7,438.6 503.9,439.7 504.1,440.6 504.4,441.7 504.6,442.7 504.9,440.1 505.1,437.2 505.3,433.9 505.6,431.5 505.8,432.8 506.1,434 506.3,435.5 506.5,437.5 506.8,439.3 507,441.8 507.3,440 507.5,435.1 507.7,430.6 508,428.9 508.2,431 508.5,433 508.7,435.6 508.9,438.2 509.2,440.8 509.4,438.9 509.7,434 509.9,428.8 510.1,427 510.4,429.3 510.6,431.2 510.9,433.7 511.1,436.4 511.3,438.9 511.6,437 511.8,431.9 512.1,426.9 512.3,424.7 512.5,427.8 512.8,431 513,434.4 513.3,437.5 513.5,441.3 513.7,436.9 514,431.9 514.2,426.5 514.5,429.4 514.7,432.4 514.9,435.8 515.2,438.1 515.4,441.1 515.7,440.2 515.9,435.2 516.1,430.7 516.4,430 516.6,432.6 516.9,435.2 517.1,438.4 517.3,441.5 517.6,442.2 517.8,437 518.1,432.3 518.3,431.5 518.5,434.9 518.8,437.9 519,440.8 519.3,443.8 519.5,444.4 519.7,440.9 520,436.7 520.2,433.9 520.5,436.7 520.7,439.4 520.9,442.1 521.2,445.1 521.4,447.4 521.7,448.6 521.9,444.5 522.1,440.3 522.4,436.6 522.6,439.1 522.9,441.4 523.1,443.1 523.3,445.2 523.6,447.5 523.8,449.5 524.1,446.4 524.3,442.7 524.5,438.2 524.8,438.7 525,440.4 525.3,442.8 525.5,444.6 525.7,446.7 526,448.4 526.2,449.8 526.5,446.7 526.7,443.6 526.9,440.5 527.2,442.2 527.4,444.6 527.7,446.8 527.9,449.2 528.1,451.1 528.4,453.4 528.6,450.1 528.9,447.1 529.1,444.1 529.3,444.1 529.6,446.4 529.8,448.7 530.1,450.7 530.3,452.5 530.5,454.8 530.8,454 531,450.9 531.3,446.8 531.5,444.2 531.7,446.9 532,449 532.2,451.1 532.5,453.7 532.7,456.2 532.9,456.5 533.2,452.4 533.4,448.8 533.7,446.7 533.9,449.2 534.1,451.4 534.4,453.1 534.6,456.2 534.9,458.2 535.1,458.7 535.3,455.9 535.6,453 535.8,449.5 536.1,451.6 536.3,454 536.5,456.3 536.8,458.1 537,460.3 537.3,462.4 537.5,460.5 537.7,458 538,454.7 538.2,453.6 538.5,455.9 538.7,458 538.9,459.9 539.2,462.3 539.4,463.7 539.7,464.8 539.9,462.5 540.1,460.9 540.4,458.3 540.6,458 540.9,460.1 541.1,461.3 541.3,462.9 541.6,464.2 541.8,465.7 542.1,467.3 542.3,465.6 542.5,463.3 542.8,461.4 543,459.9 543.3,460.7 543.5,461.5 543.7,463.1 544,464.6 544.2,465.6 544.5,466.8 544.7,466.1 544.9,464.3 545.2,461.4 545.4,458.7 545.7,460 545.9,461.8 546.1,462.5 546.4,464 546.6,465 546.9,466.3 547.1,467.8 547.3,465.8 547.6,463.8 547.8,461.2 548.1,458.7 548.3,458.9 548.5,460.6 548.8,461.8 549,463.2 549.3,464.1 549.5,465.7 549.7,466.8 550,467 550.2,464.2 550.5,461.4 550.7,459.1 550.9,458.1 551.2,459.6 551.4,461.1 551.7,462.3 551.9,463.4 552.1,465.1 552.4,466 552.6,467.1 552.9,464.7 553.1,462.2 553.3,459.6 553.6,458.3 553.8,459.7 554.1,461.5 554.3,463 554.5,464.5 554.8,466.3 555,467.8 555.3,469.4 555.5,466.7 555.7,464.2 556,461.5 556.2,461.1 556.5,462.7 556.7,464.3 556.9,465.8 557.2,467.5 557.4,468.5 557.7,469.7 557.9,467 558.1,464.3 558.4,461.9 558.6,460.9 558.9,461.6 559.1,463 559.3,464.4 559.6,465.5 559.8,466.1 560.1,467 560.3,465.8 560.5,463.4 560.8,460.8 561,458.8 561.3,460.2 561.5,461.3 561.7,462.2 562,463.5 562.2,465.5 562.5,466.6 562.7,466.2 562.9,463.4 563.2,461.3 563.4,458.9 563.7,459.5 563.9,460.4 564.1,461.4 564.4,462.5 564.6,463.8 564.9,465.3 565.1,464.5 565.3,461.8 565.6,459 565.8,456.8 566.1,457.9 566.3,459.3 566.5,460.8 566.8,461.5 567,462.5 567.3,463.9 567.5,463.4 567.7,460.8 568,457.8 568.2,457.1 568.5,458.8 568.7,460.2 568.9,461.7 569.2,463.1 569.4,465.3 569.7,462.9 569.9,458.8 570.1,454.7 570.4,455.7 570.6,457.9 570.9,459.2 571.1,461.2 571.3,462.7 571.6,464.6 571.8,460.9 572.1,457.7 572.3,453.9 572.5,455.3 572.8,457 573,458.6 573.3,460.3 573.5,462.3 573.7,462.1 574,458.5 574.2,455.1 574.5,454.2 574.7,456.2 574.9,457.7 575.2,459.4 575.4,460.6 575.7,462.9 575.9,460.7 576.1,457.6 576.4,454.5 576.6,454.7 576.9,455.9 577.1,457.6 577.3,459.2 577.6,461.2 577.8,462.9 578.1,460.2 578.3,456.5 578.5,453 578.8,452.9 579,454.7 579.3,457.2 579.5,458.4 579.7,460 580,461.8 580.2,462.1 580.5,458.7 580.7,455.6 580.9,452.4 581.2,452.6 581.4,453.7 581.7,455.5 581.9,456.6 582.1,458.6 582.4,460 582.6,460.7 582.9,459.7 583.1,456.5 583.3,453.7 583.6,451.6 583.8,452.5 584.1,454 584.3,455.5 584.5,456.5 584.8,458.3 585,459.7 585.3,461.1 585.5,461.9 585.7,459.3 586,457 586.2,455.1 586.5,452.9 586.7,453.2 586.9,454.3 587.2,455.5 587.4,456.5 587.7,458 587.9,458.7 588.1,459.5 588.4,460.3 588.6,459.8 588.9,458 589.1,456.1 589.3,454.4 589.6,453.9 589.8,454.9 590.1,455.8 590.3,456.7 590.5,457.6 590.8,459.5 591,460.3 591.3,461.4 591.5,459.7 591.7,457.8 592,455.3 592.2,452.8 592.5,454 592.7,455.3 592.9,456.6 593.2,458 593.4,459.8 593.7,460.8 593.9,462.2 594.1,459.8 594.4,456.8 594.6,454.3 594.9,452.5 595.1,453.4 595.3,454.7 595.6,456.4 595.8,457.1 596.1,458.4 596.3,459.4 596.5,460.8 596.8,458.1 597,455.8 597.3,453.5 597.5,451.5 597.7,452.9 598,454.1 598.2,455.1 598.5,456.5 598.7,457.9 598.9,459 599.2,460.5 599.4,458.3 599.7,455.8 599.9,453.3 600.1,450.9 600.4,451.9 600.6,453.2 600.9,454.6 601.1,456.1 601.3,457.8 601.6,459.9 601.8,461.8 602.1,458.4 602.3,454.7 602.5,451.3 602.8,450 603,451.7 603.3,453.2 603.5,454.7 603.7,456.7 604,458.2 604.2,459.6 604.5,455.7 604.7,451.7 604.9,447.2 605.2,449.5 605.4,451.1 605.7,453.3 605.9,454.9 606.1,457 606.4,457.6 606.6,454.2 606.9,451.2 607.1,448.6 607.3,450 607.6,451.8 607.8,453.4 608.1,455.2 608.3,457.4 608.5,454 608.8,450.4 609,446.5 609.3,447.9 609.5,449.6 609.7,451.2 610,453 610.2,454.7 610.5,454.2 610.7,450.2 610.9,445.8 611.2,443.8 611.4,446 611.7,448.3 611.9,450.4 612.1,452 612.4,454 612.6,452.5 612.9,448.5 613.1,444.7 613.3,443.5 613.6,445.5 613.8,448.6 614.1,450.6 614.3,452.4 614.5,454.6 614.8,452.7 615,448.6 615.3,445.1 615.5,444.8 615.7,446.9 616,448.7 616.2,450.4 616.5,452.1 616.7,454.2 616.9,452.3 617.2,448.2 617.4,444.7 617.7,443 617.9,445.2 618.1,447.5 618.4,449.2 618.6,451.4 618.9,452.9 619.1,453.5 619.3,450.3 619.6,446.5 619.8,443.3 620.1,444.1 620.3,445.9 620.5,448.1 620.8,450.5 621,452.9 621.3,454.7 621.5,455.8 621.7,452.1 622,447.9 622.2,444.6 622.5,443.6 622.7,445.4 622.9,447.5 623.2,450 623.4,451.7 623.7,453.6 623.9,455.5 624.1,454.7 624.4,451.4 624.6,447.4 624.9,443.9 625.1,442.6 625.3,444.1 625.6,445.8 625.8,447.5 626.1,449.2 626.3,451.3 626.5,452.7 626.8,454.2 627,451 627.3,447 627.5,443.5 627.7,442.9 628,445.2 628.2,447 628.5,448.7 628.7,450.8 628.9,452.6 629.2,454.9 629.4,455.6 629.7,451.8 629.9,448.2 630.1,444.1 630.4,441.9 630.6,444.1 630.9,446.2 631.1,448.8 631.3,450.9 631.6,453 631.8,454.8 632.1,454.1 632.3,450.7 632.5,447 632.8,443.4 633,444.9 633.3,446.6 633.5,448.1 633.7,449.5 634,450.6 634.2,452.1 634.5,453.1 634.7,450.3 634.9,446.6 635.2,442.5 635.4,440 635.7,441.6 635.9,443.7 636.1,445.8 636.4,447.6 636.6,449.8 636.9,451.6 637.1,447.3 637.3,443.3 637.6,438.8 637.8,438.1 638.1,440 638.3,443 638.5,445.5 638.8,448 639,450.8 639.3,453.4 639.5,449.8 639.7,445.3 640,440.4 640.2,438.7 640.5,441.5 640.7,443.7 640.9,446.9 641.2,449.2 641.4,451.6 641.7,451.7 641.9,447.3 642.1,442.3 642.4,437.2 642.6,438.9 642.9,441.8 643.1,444 643.3,446.5 643.6,449 643.8,451.1 644.1,449.1 644.3,443.6 644.5,438.8 644.8,437 645,439.9 645.3,442.7 645.5,445.6 645.7,448.2 646,451.4 646.2,449.4 646.5,444.3 646.7,438.9 646.9,436.3 647.2,439.1 647.4,441.4 647.7,443.9 647.9,445.6 648.1,447.7 648.4,449 648.6,443.7 648.9,438.6 649.1,433.7 649.3,435.7 649.6,438.1 649.8,440.3 650.1,442.4 650.3,444.8 650.5,446.8 650.8,444.5 651,440 651.3,435.4 651.5,432.7 651.7,434.9 652,436.2 652.2,438.3 652.5,440.7 652.7,443.2 652.9,445.2 653.2,442.5 653.4,439.2 653.7,435.7 653.9,433.1 654.1,435.7 654.4,437.8 654.6,440 654.9,442.5 655.1,445.2 655.3,448.2 655.6,447.5 655.8,444.2 656.1,441 656.3,437.2 656.5,439.3 656.8,441.8 657,444.3 657.3,446.7 657.5,448.6 657.7,450.8 658,449.9" fill="none" stroke="#1a1a1a" stroke-width="0.47" stroke-linejoin="miter"/>
<text x="320.8" y="337.8" font-size="6.8" text-anchor="middle">I</text>
<text x="358.1" y="344.5" font-size="6.8" text-anchor="middle">II</text>
<text x="399.5" y="365.4" font-size="6.8" text-anchor="middle">III</text>
<text x="426.8" y="357.1" font-size="6.8" text-anchor="middle">IV</text>
<text x="520.9" y="332.7" font-size="6.8" text-anchor="middle">I</text>
<text x="558.1" y="359" font-size="6.8" text-anchor="middle">II</text>
<text x="599.2" y="368" font-size="6.8" text-anchor="middle">III</text>
<text x="626.5" y="350" font-size="6.8" text-anchor="middle">IV</text>
<text x="315.4" y="461.4" font-size="6.8" text-anchor="middle">I</text>
<text x="362.6" y="448.6" font-size="6.8" text-anchor="middle">II</text>
<text x="403" y="465.6" font-size="6.8" text-anchor="middle">III</text>
<text x="430" y="435.7" font-size="6.8" text-anchor="middle">IV</text>
<text x="515.1" y="454.4" font-size="6.8" text-anchor="middle">I</text>
<text x="562" y="447.6" font-size="6.8" text-anchor="middle">II</text>
<text x="603.1" y="441.5" font-size="6.8" text-anchor="middle">III</text>
<text x="629.7" y="433.5" font-size="6.8" text-anchor="middle">IV</text>
<text x="45" y="321.6" font-size="12" font-weight="bold" fill="#000">B</text>
<text x="266" y="321.6" font-size="12" font-weight="bold" fill="#000">C</text>
<text x="465" y="321.6" font-size="12" font-weight="bold" fill="#000">D</text>
<text x="44.6" y="415.8" font-size="12" font-weight="bold" fill="#000">E</text>
<text x="265.4" y="415.8" font-size="12" font-weight="bold" fill="#000">F</text>
<text x="465" y="415.8" font-size="12" font-weight="bold" fill="#000">G</text>
<text transform="translate(26.6,384.8) rotate(-90)" font-size="15.5" font-weight="bold" font-style="italic" textLength="54.5" lengthAdjust="spacingAndGlyphs" fill="#111">non-CHS</text>
<text transform="translate(26.6,461.2) rotate(-90)" font-size="15.5" font-weight="bold" font-style="italic" textLength="26.6" lengthAdjust="spacingAndGlyphs" fill="#111">CHS</text>
<text x="142.8" y="514.8" font-size="9.9" font-weight="bold" text-anchor="middle" fill="#111">Spontaneous dynamic cerebral autoregulation</text>
<text x="466" y="514" font-size="10" font-weight="bold" text-anchor="middle" fill="#111">Valsalva maneuver Test</text>
</svg></body></html>
